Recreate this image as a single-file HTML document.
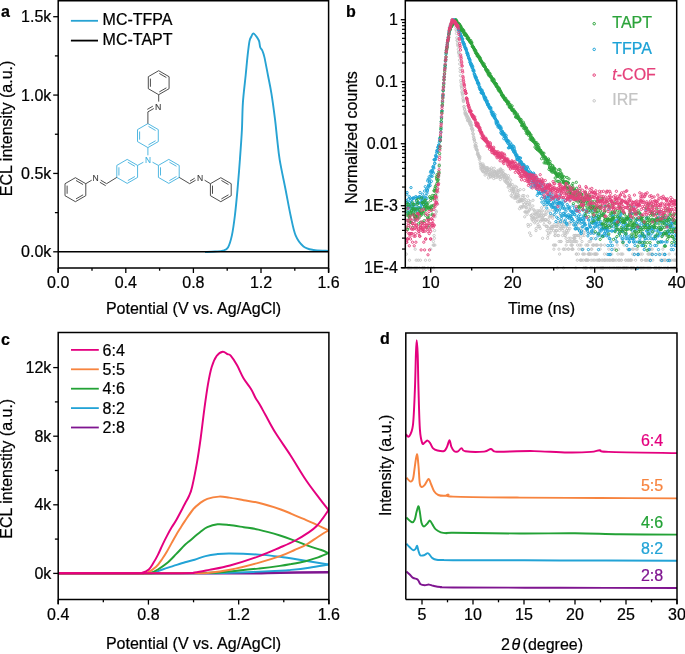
<!DOCTYPE html>
<html><head><meta charset="utf-8"><style>html,body{margin:0;padding:0;background:#fff;width:685px;height:654px;overflow:hidden}svg{display:block;will-change:transform}text{font-family:"Liberation Sans",sans-serif}</style></head>
<body><svg width="685" height="654" viewBox="0 0 685 654" font-family="Liberation Sans, sans-serif"><path d="M205 252.1C206.67 252 212 251.75 215 251.5C218 251.25 220.83 251.28 223 250.6C225.17 249.92 226.52 249.93 228 247.4C229.48 244.87 230.75 240.72 231.9 235.4C233.05 230.08 233.97 223.12 234.9 215.5C235.83 207.88 236.67 198.98 237.5 189.7C238.33 180.42 239.17 169.75 239.9 159.8C240.63 149.85 241.4 139.53 241.9 130C242.4 120.47 242.27 111.77 242.9 102.6C243.53 93.43 244.92 82.83 245.7 75C246.48 67.17 246.97 61.25 247.6 55.6C248.23 49.95 248.87 44.28 249.5 41.1C250.13 37.92 250.77 37.78 251.4 36.5C252.03 35.22 252.33 33.22 253.3 33.4C254.27 33.58 256.23 36.32 257.2 37.6C258.17 38.88 258.6 39.5 259.1 41.1C259.6 42.7 259.63 45.55 260.2 47.2C260.77 48.85 261.8 49.35 262.5 51C263.2 52.65 263.5 53.1 264.4 57.1C265.3 61.1 266.73 68.95 267.9 75C269.07 81.05 270.22 86.05 271.4 93.4C272.58 100.75 274.03 111.45 275 119.1C275.97 126.75 276.42 132.52 277.2 139.3C277.98 146.08 278.3 151.4 279.7 159.8C281.1 168.2 283.78 180.42 285.6 189.7C287.42 198.98 288.93 207.88 290.6 215.5C292.27 223.12 293.45 230.25 295.6 235.4C297.75 240.55 300.52 243.97 303.5 246.4C306.48 248.83 309.85 249.27 313.5 250C317.15 250.73 322.88 250.63 325.4 250.8C327.92 250.97 328.07 250.97 328.6 251" fill="none" stroke="#27a3d3" stroke-width="1.9" stroke-linejoin="round"/>
<line x1="58.2" y1="251.8" x2="328.6" y2="251.8" stroke="#000" stroke-width="1.6"/>
<path d="M58.2 272.5V0.8H328.6V272.5M58.2 268.0H328.6" fill="none" stroke="#000" stroke-width="1.5"/>
<line x1="58.2" y1="268" x2="58.2" y2="273" stroke="#000" stroke-width="1.3"/>
<text x="58.2" y="287.6" font-size="16" text-anchor="middle" stroke="#000" stroke-width="0.22">0.0</text>
<line x1="92" y1="268" x2="92" y2="270.7" stroke="#000" stroke-width="1.3"/>
<line x1="125.8" y1="268" x2="125.8" y2="273" stroke="#000" stroke-width="1.3"/>
<text x="125.8" y="287.6" font-size="16" text-anchor="middle" stroke="#000" stroke-width="0.22">0.4</text>
<line x1="159.6" y1="268" x2="159.6" y2="270.7" stroke="#000" stroke-width="1.3"/>
<line x1="193.4" y1="268" x2="193.4" y2="273" stroke="#000" stroke-width="1.3"/>
<text x="193.4" y="287.6" font-size="16" text-anchor="middle" stroke="#000" stroke-width="0.22">0.8</text>
<line x1="227.2" y1="268" x2="227.2" y2="270.7" stroke="#000" stroke-width="1.3"/>
<line x1="261" y1="268" x2="261" y2="273" stroke="#000" stroke-width="1.3"/>
<text x="261" y="287.6" font-size="16" text-anchor="middle" stroke="#000" stroke-width="0.22">1.2</text>
<line x1="294.8" y1="268" x2="294.8" y2="270.7" stroke="#000" stroke-width="1.3"/>
<line x1="328.6" y1="268" x2="328.6" y2="273" stroke="#000" stroke-width="1.3"/>
<text x="328.6" y="287.6" font-size="16" text-anchor="middle" stroke="#000" stroke-width="0.22">1.6</text>
<line x1="53.2" y1="251.8" x2="58.2" y2="251.8" stroke="#000" stroke-width="1.3"/>
<text x="51.3" y="257.4" font-size="16" text-anchor="end" stroke="#000" stroke-width="0.22">0.0k</text>
<line x1="54.9" y1="212.62" x2="58.2" y2="212.62" stroke="#000" stroke-width="1.3"/>
<line x1="53.2" y1="173.44" x2="58.2" y2="173.44" stroke="#000" stroke-width="1.3"/>
<text x="51.3" y="179.03" font-size="16" text-anchor="end" stroke="#000" stroke-width="0.22">0.5k</text>
<line x1="54.9" y1="134.25" x2="58.2" y2="134.25" stroke="#000" stroke-width="1.3"/>
<line x1="53.2" y1="95.07" x2="58.2" y2="95.07" stroke="#000" stroke-width="1.3"/>
<text x="51.3" y="100.67" font-size="16" text-anchor="end" stroke="#000" stroke-width="0.22">1.0k</text>
<line x1="54.9" y1="55.89" x2="58.2" y2="55.89" stroke="#000" stroke-width="1.3"/>
<line x1="53.2" y1="16.71" x2="58.2" y2="16.71" stroke="#000" stroke-width="1.3"/>
<text x="51.3" y="22.31" font-size="16" text-anchor="end" stroke="#000" stroke-width="0.22">1.5k</text>
<text x="193.5" y="313.6" font-size="16" text-anchor="middle" stroke="#000" stroke-width="0.22">Potential (V vs. Ag/AgCl)</text>
<text x="11.7" y="128.4" font-size="16" text-anchor="middle" stroke="#000" stroke-width="0.22" transform="rotate(-90 11.7 128.4)">ECL intensity (a.u.)</text>
<text x="1" y="17.2" font-size="16" stroke="#000" stroke-width="0.22" font-weight="bold">a</text>
<line x1="70.9" y1="20.8" x2="98" y2="20.8" stroke="#27a3d3" stroke-width="1.8"/>
<line x1="70.9" y1="40.6" x2="98" y2="40.6" stroke="#000" stroke-width="1.8"/>
<text x="102.6" y="25" font-size="16" stroke="#000" stroke-width="0.22">MC-TFPA</text>
<text x="102.6" y="44.7" font-size="16" stroke="#000" stroke-width="0.22">MC-TAPT</text>
<path d="M147.9 123.6 L158.29 129.6 L158.29 141.6 L147.9 147.6 L137.51 141.6 L137.51 129.6ZM148.51 126.38L155.58 130.46M155.58 140.74L148.51 144.82M139.61 139.68L139.61 131.52" fill="none" stroke="#3fb0de" stroke-width="0.9" stroke-linejoin="round"/>
<path d="M127.2 159.4 L137.59 165.4 L137.59 177.4 L127.2 183.4 L116.81 177.4 L116.81 165.4ZM127.81 162.18L134.88 166.26M134.88 176.54L127.81 180.62M118.91 175.48L118.91 167.32" fill="none" stroke="#3fb0de" stroke-width="0.9" stroke-linejoin="round"/>
<path d="M168.8 159.4 L179.19 165.4 L179.19 177.4 L168.8 183.4 L158.41 177.4 L158.41 165.4ZM169.41 162.18L176.48 166.26M176.48 176.54L169.41 180.62M160.51 175.48L160.51 167.32" fill="none" stroke="#3fb0de" stroke-width="0.9" stroke-linejoin="round"/>
<path d="M158.7 70.7 L169.09 76.7 L169.09 88.7 L158.7 94.7 L148.31 88.7 L148.31 76.7ZM159.31 73.48L166.38 77.56M166.38 87.84L159.31 91.92M150.41 86.78L150.41 78.62" fill="none" stroke="#3a3a3a" stroke-width="0.9" stroke-linejoin="round"/>
<path d="M75.4 177.7 L85.79 183.7 L85.79 195.7 L75.4 201.7 L65.01 195.7 L65.01 183.7ZM76.01 180.48L83.08 184.56M83.08 194.84L76.01 198.92M67.11 193.78L67.11 185.62" fill="none" stroke="#3a3a3a" stroke-width="0.9" stroke-linejoin="round"/>
<path d="M220.8 177.7 L231.19 183.7 L231.19 195.7 L220.8 201.7 L210.41 195.7 L210.41 183.7ZM221.41 180.48L228.48 184.56M228.48 194.84L221.41 198.92M212.51 193.78L212.51 185.62" fill="none" stroke="#3a3a3a" stroke-width="0.9" stroke-linejoin="round"/>
<path d="M147.9 147.6L147.9 155.3M137.6 165.4L143.4 162.2M152.5 162.2L158.4 165.4" fill="none" stroke="#3fb0de" stroke-width="0.9"/>
<path d="M147.9 123.6L147.9 111.9M147.9 111.9L153.8 108.5M147.3 109.4L152.8 106.2M158.7 101.6L158.7 94.7M116.8 177.4L106.6 183.7M106.6 183.7L100.7 180.2M105.7 185.7L99.9 182.3M91.7 180.2L85.8 183.7M179.2 177.4L189.7 183.7M189.7 183.7L195.6 180.2M190 181.1L194.7 178.2M204.6 180.2L210.4 183.7" fill="none" stroke="#3a3a3a" stroke-width="0.9"/>
<text x="148" y="162.9" font-size="8.4" text-anchor="middle" fill="#3fb0de" stroke="#3fb0de" stroke-width="0.1">N</text>
<text x="158.1" y="109.8" font-size="8.8" text-anchor="middle" fill="#3a3a3a" stroke="#3a3a3a" stroke-width="0.1">N</text>
<text x="95.5" y="181.4" font-size="8.6" text-anchor="middle" fill="#3a3a3a" stroke="#3a3a3a" stroke-width="0.1">N</text>
<text x="200.1" y="181.4" font-size="8.6" text-anchor="middle" fill="#3a3a3a" stroke="#3a3a3a" stroke-width="0.1">N</text>
<svg x="405.3" y="0.8" width="271.40000000000003" height="268.9" viewBox="405.3 0.8 271.40000000000003 268.9" overflow="hidden"><g fill="none" stroke="#c4c4c4" stroke-width="0.9"><circle cx="406.3" cy="254.1" r="1.15"/><circle cx="407.8" cy="267.9" r="1.15"/><circle cx="408.6" cy="267.9" r="1.15"/><circle cx="409.1" cy="267.9" r="1.15"/><circle cx="409.5" cy="260.2" r="1.15"/><circle cx="410.3" cy="267.9" r="1.15"/><circle cx="411.8" cy="267.9" r="1.15"/><circle cx="414.2" cy="267.9" r="1.15"/><circle cx="415.2" cy="249.2" r="1.15"/><circle cx="415.9" cy="267.9" r="1.15"/><circle cx="416.2" cy="260.2" r="1.15"/><circle cx="417.2" cy="267.9" r="1.15"/><circle cx="418.2" cy="260.2" r="1.15"/><circle cx="419.4" cy="267.9" r="1.15"/><circle cx="420.4" cy="260.2" r="1.15"/><circle cx="422.3" cy="267.9" r="1.15"/><circle cx="422.8" cy="267.9" r="1.15"/><circle cx="424.1" cy="267.9" r="1.15"/><circle cx="424.6" cy="267.9" r="1.15"/><circle cx="425.5" cy="260.2" r="1.15"/><circle cx="428.0" cy="267.9" r="1.15"/><circle cx="429.5" cy="260.2" r="1.15"/><circle cx="430.7" cy="249.2" r="1.15"/><circle cx="431.2" cy="267.9" r="1.15"/><circle cx="433.2" cy="245.1" r="1.15"/><circle cx="433.4" cy="241.5" r="1.15"/><circle cx="433.7" cy="267.9" r="1.15"/><circle cx="433.9" cy="245.1" r="1.15"/><circle cx="434.1" cy="235.5" r="1.15"/><circle cx="434.4" cy="238.3" r="1.15"/><circle cx="434.6" cy="230.6" r="1.15"/><circle cx="434.9" cy="245.1" r="1.15"/><circle cx="435.1" cy="216.8" r="1.15"/><circle cx="435.4" cy="204.2" r="1.15"/><circle cx="435.6" cy="214.3" r="1.15"/><circle cx="435.9" cy="210.8" r="1.15"/><circle cx="436.1" cy="192.1" r="1.15"/><circle cx="436.4" cy="211.9" r="1.15"/><circle cx="436.6" cy="198.8" r="1.15"/><circle cx="436.9" cy="196.2" r="1.15"/><circle cx="437.1" cy="200.3" r="1.15"/><circle cx="437.3" cy="189.1" r="1.15"/><circle cx="437.6" cy="204.2" r="1.15"/><circle cx="437.8" cy="188.6" r="1.15"/><circle cx="438.1" cy="192.1" r="1.15"/><circle cx="438.3" cy="176.9" r="1.15"/><circle cx="438.6" cy="179.2" r="1.15"/><circle cx="438.8" cy="176.3" r="1.15"/><circle cx="439.1" cy="166.6" r="1.15"/><circle cx="439.3" cy="164.4" r="1.15"/><circle cx="439.6" cy="155.2" r="1.15"/><circle cx="439.8" cy="148.4" r="1.15"/><circle cx="440.0" cy="146.7" r="1.15"/><circle cx="440.3" cy="141.1" r="1.15"/><circle cx="440.5" cy="133.4" r="1.15"/><circle cx="440.8" cy="131.4" r="1.15"/><circle cx="441.0" cy="123.8" r="1.15"/><circle cx="441.3" cy="122.0" r="1.15"/><circle cx="441.5" cy="116.4" r="1.15"/><circle cx="441.8" cy="113.6" r="1.15"/><circle cx="442.0" cy="106.7" r="1.15"/><circle cx="442.3" cy="105.3" r="1.15"/><circle cx="442.5" cy="100.1" r="1.15"/><circle cx="442.8" cy="97.6" r="1.15"/><circle cx="443.0" cy="93.9" r="1.15"/><circle cx="443.2" cy="90.3" r="1.15"/><circle cx="443.5" cy="86.6" r="1.15"/><circle cx="443.7" cy="82.9" r="1.15"/><circle cx="444.0" cy="79.8" r="1.15"/><circle cx="444.2" cy="76.4" r="1.15"/><circle cx="444.5" cy="74.2" r="1.15"/><circle cx="444.7" cy="70.2" r="1.15"/><circle cx="445.0" cy="65.8" r="1.15"/><circle cx="445.2" cy="64.4" r="1.15"/><circle cx="445.5" cy="61.3" r="1.15"/><circle cx="445.7" cy="57.8" r="1.15"/><circle cx="446.0" cy="53.5" r="1.15"/><circle cx="446.2" cy="52.9" r="1.15"/><circle cx="446.4" cy="49.6" r="1.15"/><circle cx="446.7" cy="48.4" r="1.15"/><circle cx="446.9" cy="47.5" r="1.15"/><circle cx="447.2" cy="43.9" r="1.15"/><circle cx="447.4" cy="42.5" r="1.15"/><circle cx="447.7" cy="41.1" r="1.15"/><circle cx="447.9" cy="39.8" r="1.15"/><circle cx="448.2" cy="36.9" r="1.15"/><circle cx="448.4" cy="36.1" r="1.15"/><circle cx="448.7" cy="33.7" r="1.15"/><circle cx="448.9" cy="33.2" r="1.15"/><circle cx="449.2" cy="31.3" r="1.15"/><circle cx="449.4" cy="27.3" r="1.15"/><circle cx="449.6" cy="27.4" r="1.15"/><circle cx="449.9" cy="26.4" r="1.15"/><circle cx="450.1" cy="25.6" r="1.15"/><circle cx="450.4" cy="25.6" r="1.15"/><circle cx="450.6" cy="24.8" r="1.15"/><circle cx="450.9" cy="23.6" r="1.15"/><circle cx="451.1" cy="23.3" r="1.15"/><circle cx="451.4" cy="22.5" r="1.15"/><circle cx="451.6" cy="21.7" r="1.15"/><circle cx="451.9" cy="20.2" r="1.15"/><circle cx="452.1" cy="19.7" r="1.15"/><circle cx="452.3" cy="19.7" r="1.15"/><circle cx="452.6" cy="20.5" r="1.15"/><circle cx="452.8" cy="21.4" r="1.15"/><circle cx="453.1" cy="19.9" r="1.15"/><circle cx="453.3" cy="20.2" r="1.15"/><circle cx="453.6" cy="21.5" r="1.15"/><circle cx="453.8" cy="21.1" r="1.15"/><circle cx="454.1" cy="21.1" r="1.15"/><circle cx="454.3" cy="21.2" r="1.15"/><circle cx="454.6" cy="21.5" r="1.15"/><circle cx="454.8" cy="23.3" r="1.15"/><circle cx="455.1" cy="21.7" r="1.15"/><circle cx="455.3" cy="24.1" r="1.15"/><circle cx="455.5" cy="24.8" r="1.15"/><circle cx="455.8" cy="27.3" r="1.15"/><circle cx="456.0" cy="29.5" r="1.15"/><circle cx="456.3" cy="30.8" r="1.15"/><circle cx="456.5" cy="33.5" r="1.15"/><circle cx="456.8" cy="37.8" r="1.15"/><circle cx="457.0" cy="40.4" r="1.15"/><circle cx="457.3" cy="40.6" r="1.15"/><circle cx="457.5" cy="43.4" r="1.15"/><circle cx="457.8" cy="45.0" r="1.15"/><circle cx="458.0" cy="46.0" r="1.15"/><circle cx="458.3" cy="49.3" r="1.15"/><circle cx="458.5" cy="52.1" r="1.15"/><circle cx="458.7" cy="52.5" r="1.15"/><circle cx="459.0" cy="53.9" r="1.15"/><circle cx="459.2" cy="56.1" r="1.15"/><circle cx="459.5" cy="60.1" r="1.15"/><circle cx="459.7" cy="64.0" r="1.15"/><circle cx="460.0" cy="68.5" r="1.15"/><circle cx="460.2" cy="71.6" r="1.15"/><circle cx="460.5" cy="75.7" r="1.15"/><circle cx="460.7" cy="80.4" r="1.15"/><circle cx="461.0" cy="82.4" r="1.15"/><circle cx="461.2" cy="85.4" r="1.15"/><circle cx="461.5" cy="86.8" r="1.15"/><circle cx="461.7" cy="88.6" r="1.15"/><circle cx="461.9" cy="91.7" r="1.15"/><circle cx="462.2" cy="92.9" r="1.15"/><circle cx="462.4" cy="94.1" r="1.15"/><circle cx="462.7" cy="95.6" r="1.15"/><circle cx="462.9" cy="98.3" r="1.15"/><circle cx="463.2" cy="100.0" r="1.15"/><circle cx="463.4" cy="101.5" r="1.15"/><circle cx="463.7" cy="101.0" r="1.15"/><circle cx="463.9" cy="106.7" r="1.15"/><circle cx="464.2" cy="106.5" r="1.15"/><circle cx="464.4" cy="109.0" r="1.15"/><circle cx="464.6" cy="109.5" r="1.15"/><circle cx="464.9" cy="112.6" r="1.15"/><circle cx="465.1" cy="114.0" r="1.15"/><circle cx="465.4" cy="111.6" r="1.15"/><circle cx="465.6" cy="113.7" r="1.15"/><circle cx="465.9" cy="113.8" r="1.15"/><circle cx="466.1" cy="115.9" r="1.15"/><circle cx="466.4" cy="115.3" r="1.15"/><circle cx="466.6" cy="114.0" r="1.15"/><circle cx="466.9" cy="118.3" r="1.15"/><circle cx="467.1" cy="117.1" r="1.15"/><circle cx="467.4" cy="116.0" r="1.15"/><circle cx="467.6" cy="120.5" r="1.15"/><circle cx="467.8" cy="120.3" r="1.15"/><circle cx="468.1" cy="117.2" r="1.15"/><circle cx="468.3" cy="118.1" r="1.15"/><circle cx="468.6" cy="121.2" r="1.15"/><circle cx="468.8" cy="119.2" r="1.15"/><circle cx="469.1" cy="120.5" r="1.15"/><circle cx="469.3" cy="119.3" r="1.15"/><circle cx="469.6" cy="123.8" r="1.15"/><circle cx="469.8" cy="122.1" r="1.15"/><circle cx="470.1" cy="122.9" r="1.15"/><circle cx="470.3" cy="121.4" r="1.15"/><circle cx="470.6" cy="124.9" r="1.15"/><circle cx="470.8" cy="125.6" r="1.15"/><circle cx="471.0" cy="122.7" r="1.15"/><circle cx="471.3" cy="126.2" r="1.15"/><circle cx="471.5" cy="128.8" r="1.15"/><circle cx="471.8" cy="125.0" r="1.15"/><circle cx="472.0" cy="128.2" r="1.15"/><circle cx="472.3" cy="128.5" r="1.15"/><circle cx="472.5" cy="130.9" r="1.15"/><circle cx="472.8" cy="133.6" r="1.15"/><circle cx="473.0" cy="130.1" r="1.15"/><circle cx="473.3" cy="134.1" r="1.15"/><circle cx="473.5" cy="136.6" r="1.15"/><circle cx="473.8" cy="137.6" r="1.15"/><circle cx="474.0" cy="139.4" r="1.15"/><circle cx="474.2" cy="139.4" r="1.15"/><circle cx="474.5" cy="140.2" r="1.15"/><circle cx="474.7" cy="142.2" r="1.15"/><circle cx="475.0" cy="145.2" r="1.15"/><circle cx="475.2" cy="147.3" r="1.15"/><circle cx="475.5" cy="146.3" r="1.15"/><circle cx="475.7" cy="145.5" r="1.15"/><circle cx="476.0" cy="143.5" r="1.15"/><circle cx="476.2" cy="149.2" r="1.15"/><circle cx="476.5" cy="146.8" r="1.15"/><circle cx="476.7" cy="149.9" r="1.15"/><circle cx="476.9" cy="149.5" r="1.15"/><circle cx="477.2" cy="150.5" r="1.15"/><circle cx="477.4" cy="154.3" r="1.15"/><circle cx="477.7" cy="153.0" r="1.15"/><circle cx="477.9" cy="153.0" r="1.15"/><circle cx="478.2" cy="154.4" r="1.15"/><circle cx="478.4" cy="155.5" r="1.15"/><circle cx="478.7" cy="156.8" r="1.15"/><circle cx="478.9" cy="155.6" r="1.15"/><circle cx="479.2" cy="157.7" r="1.15"/><circle cx="479.4" cy="159.5" r="1.15"/><circle cx="479.7" cy="158.3" r="1.15"/><circle cx="479.9" cy="156.9" r="1.15"/><circle cx="480.1" cy="162.7" r="1.15"/><circle cx="480.4" cy="164.2" r="1.15"/><circle cx="480.6" cy="166.4" r="1.15"/><circle cx="480.9" cy="168.8" r="1.15"/><circle cx="481.1" cy="164.4" r="1.15"/><circle cx="481.4" cy="167.5" r="1.15"/><circle cx="481.6" cy="165.4" r="1.15"/><circle cx="481.9" cy="167.9" r="1.15"/><circle cx="482.1" cy="169.7" r="1.15"/><circle cx="482.4" cy="170.9" r="1.15"/><circle cx="482.6" cy="166.6" r="1.15"/><circle cx="482.9" cy="163.9" r="1.15"/><circle cx="483.1" cy="171.7" r="1.15"/><circle cx="483.3" cy="167.3" r="1.15"/><circle cx="483.6" cy="165.6" r="1.15"/><circle cx="483.8" cy="171.9" r="1.15"/><circle cx="484.1" cy="166.4" r="1.15"/><circle cx="484.3" cy="170.7" r="1.15"/><circle cx="484.6" cy="168.6" r="1.15"/><circle cx="484.8" cy="167.7" r="1.15"/><circle cx="485.1" cy="175.1" r="1.15"/><circle cx="485.3" cy="168.8" r="1.15"/><circle cx="485.6" cy="172.9" r="1.15"/><circle cx="485.8" cy="169.3" r="1.15"/><circle cx="486.1" cy="172.4" r="1.15"/><circle cx="486.3" cy="168.3" r="1.15"/><circle cx="486.5" cy="170.2" r="1.15"/><circle cx="486.8" cy="172.4" r="1.15"/><circle cx="487.0" cy="167.5" r="1.15"/><circle cx="487.3" cy="169.0" r="1.15"/><circle cx="487.5" cy="170.4" r="1.15"/><circle cx="487.8" cy="174.9" r="1.15"/><circle cx="488.0" cy="168.1" r="1.15"/><circle cx="488.3" cy="170.2" r="1.15"/><circle cx="488.5" cy="177.9" r="1.15"/><circle cx="488.8" cy="172.2" r="1.15"/><circle cx="489.0" cy="174.6" r="1.15"/><circle cx="489.2" cy="169.3" r="1.15"/><circle cx="489.5" cy="174.0" r="1.15"/><circle cx="489.7" cy="169.7" r="1.15"/><circle cx="490.0" cy="173.8" r="1.15"/><circle cx="490.2" cy="173.2" r="1.15"/><circle cx="490.5" cy="176.6" r="1.15"/><circle cx="490.7" cy="176.0" r="1.15"/><circle cx="491.0" cy="176.9" r="1.15"/><circle cx="491.2" cy="170.7" r="1.15"/><circle cx="491.5" cy="167.9" r="1.15"/><circle cx="491.7" cy="170.0" r="1.15"/><circle cx="492.0" cy="175.1" r="1.15"/><circle cx="492.2" cy="173.2" r="1.15"/><circle cx="492.4" cy="172.2" r="1.15"/><circle cx="492.7" cy="175.7" r="1.15"/><circle cx="492.9" cy="173.8" r="1.15"/><circle cx="493.2" cy="171.4" r="1.15"/><circle cx="493.4" cy="176.0" r="1.15"/><circle cx="493.7" cy="178.5" r="1.15"/><circle cx="493.9" cy="176.3" r="1.15"/><circle cx="494.2" cy="168.3" r="1.15"/><circle cx="494.4" cy="173.5" r="1.15"/><circle cx="494.7" cy="171.4" r="1.15"/><circle cx="494.9" cy="171.7" r="1.15"/><circle cx="495.2" cy="175.1" r="1.15"/><circle cx="495.4" cy="172.4" r="1.15"/><circle cx="495.6" cy="177.5" r="1.15"/><circle cx="495.9" cy="172.2" r="1.15"/><circle cx="496.1" cy="174.0" r="1.15"/><circle cx="496.4" cy="174.3" r="1.15"/><circle cx="496.6" cy="171.2" r="1.15"/><circle cx="496.9" cy="177.2" r="1.15"/><circle cx="497.1" cy="173.8" r="1.15"/><circle cx="497.4" cy="174.0" r="1.15"/><circle cx="497.6" cy="175.4" r="1.15"/><circle cx="497.9" cy="176.9" r="1.15"/><circle cx="498.1" cy="172.7" r="1.15"/><circle cx="498.4" cy="170.2" r="1.15"/><circle cx="498.6" cy="175.7" r="1.15"/><circle cx="498.8" cy="171.2" r="1.15"/><circle cx="499.1" cy="172.4" r="1.15"/><circle cx="499.3" cy="171.2" r="1.15"/><circle cx="499.6" cy="174.9" r="1.15"/><circle cx="499.8" cy="177.5" r="1.15"/><circle cx="500.1" cy="176.6" r="1.15"/><circle cx="500.3" cy="179.5" r="1.15"/><circle cx="500.6" cy="168.8" r="1.15"/><circle cx="500.8" cy="169.7" r="1.15"/><circle cx="501.1" cy="170.0" r="1.15"/><circle cx="501.3" cy="171.9" r="1.15"/><circle cx="501.5" cy="173.5" r="1.15"/><circle cx="501.8" cy="176.6" r="1.15"/><circle cx="502.0" cy="171.9" r="1.15"/><circle cx="502.3" cy="174.3" r="1.15"/><circle cx="502.5" cy="177.9" r="1.15"/><circle cx="502.8" cy="175.1" r="1.15"/><circle cx="503.0" cy="170.7" r="1.15"/><circle cx="503.3" cy="173.5" r="1.15"/><circle cx="503.5" cy="173.5" r="1.15"/><circle cx="503.8" cy="177.5" r="1.15"/><circle cx="504.0" cy="176.3" r="1.15"/><circle cx="504.3" cy="175.4" r="1.15"/><circle cx="504.5" cy="180.2" r="1.15"/><circle cx="504.7" cy="174.6" r="1.15"/><circle cx="505.0" cy="176.9" r="1.15"/><circle cx="505.2" cy="181.6" r="1.15"/><circle cx="505.5" cy="174.6" r="1.15"/><circle cx="505.7" cy="177.9" r="1.15"/><circle cx="506.0" cy="180.5" r="1.15"/><circle cx="506.2" cy="175.7" r="1.15"/><circle cx="506.5" cy="178.8" r="1.15"/><circle cx="506.7" cy="183.1" r="1.15"/><circle cx="507.0" cy="180.9" r="1.15"/><circle cx="507.2" cy="177.9" r="1.15"/><circle cx="507.5" cy="178.8" r="1.15"/><circle cx="507.7" cy="183.5" r="1.15"/><circle cx="507.9" cy="183.1" r="1.15"/><circle cx="508.2" cy="187.2" r="1.15"/><circle cx="508.4" cy="175.7" r="1.15"/><circle cx="508.7" cy="185.9" r="1.15"/><circle cx="508.9" cy="178.2" r="1.15"/><circle cx="509.2" cy="185.5" r="1.15"/><circle cx="509.4" cy="182.0" r="1.15"/><circle cx="509.7" cy="190.6" r="1.15"/><circle cx="509.9" cy="184.7" r="1.15"/><circle cx="510.2" cy="185.1" r="1.15"/><circle cx="510.4" cy="185.1" r="1.15"/><circle cx="510.7" cy="180.2" r="1.15"/><circle cx="510.9" cy="183.9" r="1.15"/><circle cx="511.1" cy="195.6" r="1.15"/><circle cx="511.4" cy="188.6" r="1.15"/><circle cx="511.6" cy="186.8" r="1.15"/><circle cx="511.9" cy="190.1" r="1.15"/><circle cx="512.1" cy="196.8" r="1.15"/><circle cx="512.4" cy="193.2" r="1.15"/><circle cx="512.6" cy="184.7" r="1.15"/><circle cx="512.9" cy="188.1" r="1.15"/><circle cx="513.1" cy="191.6" r="1.15"/><circle cx="513.4" cy="190.1" r="1.15"/><circle cx="513.6" cy="189.1" r="1.15"/><circle cx="513.8" cy="190.1" r="1.15"/><circle cx="514.1" cy="188.1" r="1.15"/><circle cx="514.3" cy="198.2" r="1.15"/><circle cx="514.6" cy="193.8" r="1.15"/><circle cx="514.8" cy="192.1" r="1.15"/><circle cx="515.1" cy="196.2" r="1.15"/><circle cx="515.3" cy="186.4" r="1.15"/><circle cx="515.6" cy="198.2" r="1.15"/><circle cx="515.8" cy="196.2" r="1.15"/><circle cx="516.1" cy="194.4" r="1.15"/><circle cx="516.3" cy="196.2" r="1.15"/><circle cx="516.6" cy="187.2" r="1.15"/><circle cx="516.8" cy="198.2" r="1.15"/><circle cx="517.0" cy="190.1" r="1.15"/><circle cx="517.3" cy="196.8" r="1.15"/><circle cx="517.5" cy="201.7" r="1.15"/><circle cx="517.8" cy="192.1" r="1.15"/><circle cx="518.0" cy="194.4" r="1.15"/><circle cx="518.3" cy="190.6" r="1.15"/><circle cx="518.5" cy="196.8" r="1.15"/><circle cx="518.8" cy="195.6" r="1.15"/><circle cx="519.0" cy="201.7" r="1.15"/><circle cx="519.3" cy="201.0" r="1.15"/><circle cx="519.5" cy="208.7" r="1.15"/><circle cx="519.8" cy="201.0" r="1.15"/><circle cx="520.0" cy="199.5" r="1.15"/><circle cx="520.2" cy="189.6" r="1.15"/><circle cx="520.5" cy="206.8" r="1.15"/><circle cx="520.7" cy="201.0" r="1.15"/><circle cx="521.0" cy="200.3" r="1.15"/><circle cx="521.2" cy="200.3" r="1.15"/><circle cx="521.5" cy="207.8" r="1.15"/><circle cx="521.7" cy="199.5" r="1.15"/><circle cx="522.0" cy="206.8" r="1.15"/><circle cx="522.2" cy="197.5" r="1.15"/><circle cx="522.5" cy="200.3" r="1.15"/><circle cx="522.7" cy="195.6" r="1.15"/><circle cx="523.0" cy="205.9" r="1.15"/><circle cx="523.2" cy="202.5" r="1.15"/><circle cx="523.4" cy="206.8" r="1.15"/><circle cx="523.7" cy="189.6" r="1.15"/><circle cx="523.9" cy="195.6" r="1.15"/><circle cx="524.2" cy="198.8" r="1.15"/><circle cx="524.4" cy="204.2" r="1.15"/><circle cx="524.7" cy="216.8" r="1.15"/><circle cx="524.9" cy="211.9" r="1.15"/><circle cx="525.2" cy="199.5" r="1.15"/><circle cx="525.4" cy="211.9" r="1.15"/><circle cx="525.7" cy="202.5" r="1.15"/><circle cx="525.9" cy="207.8" r="1.15"/><circle cx="526.1" cy="205.9" r="1.15"/><circle cx="526.4" cy="211.9" r="1.15"/><circle cx="526.6" cy="207.8" r="1.15"/><circle cx="526.9" cy="202.5" r="1.15"/><circle cx="527.1" cy="214.3" r="1.15"/><circle cx="527.4" cy="204.2" r="1.15"/><circle cx="527.6" cy="196.2" r="1.15"/><circle cx="527.9" cy="224.6" r="1.15"/><circle cx="528.1" cy="211.9" r="1.15"/><circle cx="528.4" cy="226.4" r="1.15"/><circle cx="528.6" cy="200.3" r="1.15"/><circle cx="528.9" cy="210.8" r="1.15"/><circle cx="529.1" cy="205.0" r="1.15"/><circle cx="529.3" cy="209.8" r="1.15"/><circle cx="529.6" cy="232.9" r="1.15"/><circle cx="529.8" cy="204.2" r="1.15"/><circle cx="530.1" cy="201.7" r="1.15"/><circle cx="530.3" cy="207.8" r="1.15"/><circle cx="530.6" cy="224.6" r="1.15"/><circle cx="530.8" cy="235.5" r="1.15"/><circle cx="531.1" cy="215.5" r="1.15"/><circle cx="531.3" cy="215.5" r="1.15"/><circle cx="531.6" cy="208.7" r="1.15"/><circle cx="531.8" cy="218.2" r="1.15"/><circle cx="532.1" cy="219.7" r="1.15"/><circle cx="532.3" cy="216.8" r="1.15"/><circle cx="532.5" cy="214.3" r="1.15"/><circle cx="532.8" cy="205.9" r="1.15"/><circle cx="533.0" cy="200.3" r="1.15"/><circle cx="533.3" cy="221.2" r="1.15"/><circle cx="533.5" cy="218.2" r="1.15"/><circle cx="533.8" cy="215.5" r="1.15"/><circle cx="534.0" cy="209.8" r="1.15"/><circle cx="534.3" cy="210.8" r="1.15"/><circle cx="534.5" cy="218.2" r="1.15"/><circle cx="534.8" cy="222.8" r="1.15"/><circle cx="535.0" cy="213.1" r="1.15"/><circle cx="535.3" cy="214.3" r="1.15"/><circle cx="535.5" cy="218.2" r="1.15"/><circle cx="535.7" cy="221.2" r="1.15"/><circle cx="536.0" cy="230.6" r="1.15"/><circle cx="536.2" cy="228.4" r="1.15"/><circle cx="536.5" cy="214.3" r="1.15"/><circle cx="536.7" cy="219.7" r="1.15"/><circle cx="537.0" cy="213.1" r="1.15"/><circle cx="537.2" cy="210.8" r="1.15"/><circle cx="537.5" cy="216.8" r="1.15"/><circle cx="537.7" cy="213.1" r="1.15"/><circle cx="538.0" cy="224.6" r="1.15"/><circle cx="538.2" cy="226.4" r="1.15"/><circle cx="538.4" cy="216.8" r="1.15"/><circle cx="538.7" cy="221.2" r="1.15"/><circle cx="538.9" cy="210.8" r="1.15"/><circle cx="539.2" cy="215.5" r="1.15"/><circle cx="539.4" cy="226.4" r="1.15"/><circle cx="539.7" cy="216.8" r="1.15"/><circle cx="539.9" cy="210.8" r="1.15"/><circle cx="540.2" cy="228.4" r="1.15"/><circle cx="540.4" cy="214.3" r="1.15"/><circle cx="540.7" cy="221.2" r="1.15"/><circle cx="540.9" cy="215.5" r="1.15"/><circle cx="541.2" cy="219.7" r="1.15"/><circle cx="541.4" cy="213.1" r="1.15"/><circle cx="541.6" cy="207.8" r="1.15"/><circle cx="541.9" cy="210.8" r="1.15"/><circle cx="542.1" cy="219.7" r="1.15"/><circle cx="542.4" cy="218.2" r="1.15"/><circle cx="542.6" cy="238.3" r="1.15"/><circle cx="542.9" cy="216.8" r="1.15"/><circle cx="543.1" cy="219.7" r="1.15"/><circle cx="543.4" cy="215.5" r="1.15"/><circle cx="543.6" cy="215.5" r="1.15"/><circle cx="543.9" cy="221.2" r="1.15"/><circle cx="544.1" cy="224.6" r="1.15"/><circle cx="544.4" cy="205.9" r="1.15"/><circle cx="544.6" cy="210.8" r="1.15"/><circle cx="544.8" cy="214.3" r="1.15"/><circle cx="545.1" cy="219.7" r="1.15"/><circle cx="545.3" cy="219.7" r="1.15"/><circle cx="545.6" cy="219.7" r="1.15"/><circle cx="545.8" cy="219.7" r="1.15"/><circle cx="546.1" cy="214.3" r="1.15"/><circle cx="546.3" cy="226.4" r="1.15"/><circle cx="546.6" cy="226.4" r="1.15"/><circle cx="546.8" cy="211.9" r="1.15"/><circle cx="547.1" cy="230.6" r="1.15"/><circle cx="547.3" cy="226.4" r="1.15"/><circle cx="547.6" cy="238.3" r="1.15"/><circle cx="547.8" cy="221.2" r="1.15"/><circle cx="548.0" cy="235.5" r="1.15"/><circle cx="548.3" cy="219.7" r="1.15"/><circle cx="548.5" cy="232.9" r="1.15"/><circle cx="548.8" cy="228.4" r="1.15"/><circle cx="549.0" cy="210.8" r="1.15"/><circle cx="549.3" cy="216.8" r="1.15"/><circle cx="549.5" cy="222.8" r="1.15"/><circle cx="549.8" cy="222.8" r="1.15"/><circle cx="550.0" cy="232.9" r="1.15"/><circle cx="550.3" cy="228.4" r="1.15"/><circle cx="550.5" cy="215.5" r="1.15"/><circle cx="550.7" cy="216.8" r="1.15"/><circle cx="551.0" cy="215.5" r="1.15"/><circle cx="551.2" cy="230.6" r="1.15"/><circle cx="551.5" cy="226.4" r="1.15"/><circle cx="551.7" cy="228.4" r="1.15"/><circle cx="552.0" cy="228.4" r="1.15"/><circle cx="552.2" cy="226.4" r="1.15"/><circle cx="552.5" cy="209.8" r="1.15"/><circle cx="552.7" cy="218.2" r="1.15"/><circle cx="553.0" cy="215.5" r="1.15"/><circle cx="553.2" cy="226.4" r="1.15"/><circle cx="553.5" cy="245.1" r="1.15"/><circle cx="553.7" cy="230.6" r="1.15"/><circle cx="553.9" cy="249.2" r="1.15"/><circle cx="554.2" cy="224.6" r="1.15"/><circle cx="554.4" cy="226.4" r="1.15"/><circle cx="554.7" cy="245.1" r="1.15"/><circle cx="554.9" cy="235.5" r="1.15"/><circle cx="555.2" cy="232.9" r="1.15"/><circle cx="555.4" cy="235.5" r="1.15"/><circle cx="555.7" cy="245.1" r="1.15"/><circle cx="555.9" cy="230.6" r="1.15"/><circle cx="556.2" cy="226.4" r="1.15"/><circle cx="556.4" cy="230.6" r="1.15"/><circle cx="556.7" cy="230.6" r="1.15"/><circle cx="556.9" cy="226.4" r="1.15"/><circle cx="557.1" cy="226.4" r="1.15"/><circle cx="557.4" cy="267.9" r="1.15"/><circle cx="557.6" cy="222.8" r="1.15"/><circle cx="557.9" cy="235.5" r="1.15"/><circle cx="558.1" cy="224.6" r="1.15"/><circle cx="558.4" cy="222.8" r="1.15"/><circle cx="558.6" cy="235.5" r="1.15"/><circle cx="558.9" cy="249.2" r="1.15"/><circle cx="559.1" cy="241.5" r="1.15"/><circle cx="559.4" cy="230.6" r="1.15"/><circle cx="559.6" cy="254.1" r="1.15"/><circle cx="559.9" cy="228.4" r="1.15"/><circle cx="560.1" cy="221.2" r="1.15"/><circle cx="560.3" cy="215.5" r="1.15"/><circle cx="560.6" cy="226.4" r="1.15"/><circle cx="560.8" cy="241.5" r="1.15"/><circle cx="561.1" cy="241.5" r="1.15"/><circle cx="561.3" cy="228.4" r="1.15"/><circle cx="561.6" cy="224.6" r="1.15"/><circle cx="561.8" cy="224.6" r="1.15"/><circle cx="562.1" cy="226.4" r="1.15"/><circle cx="562.3" cy="221.2" r="1.15"/><circle cx="562.6" cy="235.5" r="1.15"/><circle cx="562.8" cy="230.6" r="1.15"/><circle cx="563.0" cy="228.4" r="1.15"/><circle cx="563.3" cy="249.2" r="1.15"/><circle cx="563.5" cy="267.9" r="1.15"/><circle cx="563.8" cy="226.4" r="1.15"/><circle cx="564.0" cy="249.2" r="1.15"/><circle cx="564.3" cy="232.9" r="1.15"/><circle cx="564.5" cy="222.8" r="1.15"/><circle cx="564.8" cy="226.4" r="1.15"/><circle cx="565.0" cy="235.5" r="1.15"/><circle cx="565.3" cy="235.5" r="1.15"/><circle cx="565.5" cy="249.2" r="1.15"/><circle cx="565.8" cy="232.9" r="1.15"/><circle cx="566.0" cy="238.3" r="1.15"/><circle cx="566.2" cy="245.1" r="1.15"/><circle cx="566.5" cy="230.6" r="1.15"/><circle cx="566.7" cy="230.6" r="1.15"/><circle cx="567.0" cy="241.5" r="1.15"/><circle cx="567.2" cy="232.9" r="1.15"/><circle cx="567.5" cy="228.4" r="1.15"/><circle cx="567.7" cy="228.4" r="1.15"/><circle cx="568.0" cy="241.5" r="1.15"/><circle cx="568.2" cy="249.2" r="1.15"/><circle cx="568.5" cy="230.6" r="1.15"/><circle cx="568.7" cy="249.2" r="1.15"/><circle cx="569.0" cy="238.3" r="1.15"/><circle cx="569.2" cy="222.8" r="1.15"/><circle cx="569.4" cy="224.6" r="1.15"/><circle cx="569.7" cy="222.8" r="1.15"/><circle cx="569.9" cy="228.4" r="1.15"/><circle cx="570.2" cy="241.5" r="1.15"/><circle cx="570.4" cy="218.2" r="1.15"/><circle cx="570.7" cy="238.3" r="1.15"/><circle cx="570.9" cy="245.1" r="1.15"/><circle cx="571.4" cy="241.5" r="1.15"/><circle cx="571.7" cy="249.2" r="1.15"/><circle cx="571.9" cy="245.1" r="1.15"/><circle cx="572.2" cy="245.1" r="1.15"/><circle cx="572.4" cy="249.2" r="1.15"/><circle cx="572.6" cy="249.2" r="1.15"/><circle cx="572.9" cy="249.2" r="1.15"/><circle cx="573.1" cy="241.5" r="1.15"/><circle cx="573.4" cy="224.6" r="1.15"/><circle cx="573.6" cy="238.3" r="1.15"/><circle cx="573.9" cy="235.5" r="1.15"/><circle cx="574.1" cy="238.3" r="1.15"/><circle cx="574.4" cy="238.3" r="1.15"/><circle cx="574.6" cy="241.5" r="1.15"/><circle cx="574.9" cy="238.3" r="1.15"/><circle cx="575.1" cy="235.5" r="1.15"/><circle cx="575.3" cy="235.5" r="1.15"/><circle cx="575.6" cy="241.5" r="1.15"/><circle cx="575.8" cy="267.9" r="1.15"/><circle cx="576.1" cy="235.5" r="1.15"/><circle cx="576.3" cy="254.1" r="1.15"/><circle cx="576.6" cy="254.1" r="1.15"/><circle cx="576.8" cy="241.5" r="1.15"/><circle cx="577.1" cy="224.6" r="1.15"/><circle cx="577.3" cy="260.2" r="1.15"/><circle cx="577.6" cy="245.1" r="1.15"/><circle cx="577.8" cy="235.5" r="1.15"/><circle cx="578.1" cy="219.7" r="1.15"/><circle cx="578.3" cy="235.5" r="1.15"/><circle cx="578.5" cy="254.1" r="1.15"/><circle cx="578.8" cy="249.2" r="1.15"/><circle cx="579.0" cy="235.5" r="1.15"/><circle cx="579.3" cy="222.8" r="1.15"/><circle cx="579.5" cy="245.1" r="1.15"/><circle cx="579.8" cy="230.6" r="1.15"/><circle cx="580.0" cy="228.4" r="1.15"/><circle cx="580.3" cy="260.2" r="1.15"/><circle cx="580.5" cy="238.3" r="1.15"/><circle cx="580.8" cy="260.2" r="1.15"/><circle cx="581.0" cy="245.1" r="1.15"/><circle cx="581.3" cy="249.2" r="1.15"/><circle cx="581.5" cy="230.6" r="1.15"/><circle cx="581.7" cy="260.2" r="1.15"/><circle cx="582.0" cy="241.5" r="1.15"/><circle cx="582.5" cy="235.5" r="1.15"/><circle cx="582.7" cy="254.1" r="1.15"/><circle cx="583.0" cy="249.2" r="1.15"/><circle cx="583.2" cy="260.2" r="1.15"/><circle cx="583.5" cy="254.1" r="1.15"/><circle cx="583.7" cy="267.9" r="1.15"/><circle cx="584.0" cy="232.9" r="1.15"/><circle cx="584.2" cy="235.5" r="1.15"/><circle cx="584.5" cy="230.6" r="1.15"/><circle cx="584.7" cy="254.1" r="1.15"/><circle cx="584.9" cy="222.8" r="1.15"/><circle cx="585.2" cy="267.9" r="1.15"/><circle cx="585.4" cy="260.2" r="1.15"/><circle cx="585.7" cy="267.9" r="1.15"/><circle cx="585.9" cy="245.1" r="1.15"/><circle cx="586.2" cy="260.2" r="1.15"/><circle cx="586.4" cy="260.2" r="1.15"/><circle cx="586.7" cy="267.9" r="1.15"/><circle cx="586.9" cy="260.2" r="1.15"/><circle cx="587.2" cy="228.4" r="1.15"/><circle cx="587.4" cy="245.1" r="1.15"/><circle cx="587.6" cy="260.2" r="1.15"/><circle cx="587.9" cy="245.1" r="1.15"/><circle cx="588.1" cy="254.1" r="1.15"/><circle cx="588.4" cy="260.2" r="1.15"/><circle cx="588.6" cy="254.1" r="1.15"/><circle cx="588.9" cy="254.1" r="1.15"/><circle cx="589.1" cy="241.5" r="1.15"/><circle cx="589.4" cy="254.1" r="1.15"/><circle cx="589.6" cy="232.9" r="1.15"/><circle cx="589.9" cy="254.1" r="1.15"/><circle cx="590.1" cy="254.1" r="1.15"/><circle cx="590.4" cy="241.5" r="1.15"/><circle cx="590.6" cy="267.9" r="1.15"/><circle cx="590.8" cy="267.9" r="1.15"/><circle cx="591.1" cy="260.2" r="1.15"/><circle cx="591.3" cy="249.2" r="1.15"/><circle cx="591.6" cy="254.1" r="1.15"/><circle cx="591.8" cy="249.2" r="1.15"/><circle cx="592.1" cy="267.9" r="1.15"/><circle cx="592.3" cy="232.9" r="1.15"/><circle cx="592.6" cy="245.1" r="1.15"/><circle cx="593.1" cy="260.2" r="1.15"/><circle cx="593.3" cy="238.3" r="1.15"/><circle cx="593.6" cy="245.1" r="1.15"/><circle cx="593.8" cy="245.1" r="1.15"/><circle cx="594.0" cy="254.1" r="1.15"/><circle cx="594.3" cy="232.9" r="1.15"/><circle cx="594.5" cy="267.9" r="1.15"/><circle cx="594.8" cy="260.2" r="1.15"/><circle cx="595.0" cy="254.1" r="1.15"/><circle cx="595.3" cy="254.1" r="1.15"/><circle cx="595.8" cy="254.1" r="1.15"/><circle cx="596.0" cy="245.1" r="1.15"/><circle cx="596.3" cy="254.1" r="1.15"/><circle cx="596.5" cy="245.1" r="1.15"/><circle cx="596.8" cy="267.9" r="1.15"/><circle cx="597.0" cy="260.2" r="1.15"/><circle cx="597.2" cy="254.1" r="1.15"/><circle cx="597.5" cy="245.1" r="1.15"/><circle cx="598.0" cy="267.9" r="1.15"/><circle cx="598.2" cy="260.2" r="1.15"/><circle cx="599.2" cy="260.2" r="1.15"/><circle cx="599.5" cy="260.2" r="1.15"/><circle cx="599.7" cy="260.2" r="1.15"/><circle cx="599.9" cy="267.9" r="1.15"/><circle cx="600.2" cy="249.2" r="1.15"/><circle cx="600.7" cy="245.1" r="1.15"/><circle cx="600.9" cy="267.9" r="1.15"/><circle cx="601.2" cy="245.1" r="1.15"/><circle cx="601.4" cy="267.9" r="1.15"/><circle cx="601.7" cy="260.2" r="1.15"/><circle cx="602.2" cy="267.9" r="1.15"/><circle cx="602.4" cy="267.9" r="1.15"/><circle cx="602.7" cy="260.2" r="1.15"/><circle cx="602.9" cy="267.9" r="1.15"/><circle cx="603.4" cy="267.9" r="1.15"/><circle cx="603.9" cy="267.9" r="1.15"/><circle cx="604.1" cy="260.2" r="1.15"/><circle cx="604.4" cy="254.1" r="1.15"/><circle cx="604.6" cy="245.1" r="1.15"/><circle cx="604.9" cy="260.2" r="1.15"/><circle cx="605.1" cy="260.2" r="1.15"/><circle cx="605.9" cy="267.9" r="1.15"/><circle cx="606.6" cy="254.1" r="1.15"/><circle cx="606.8" cy="260.2" r="1.15"/><circle cx="607.6" cy="267.9" r="1.15"/><circle cx="607.8" cy="260.2" r="1.15"/><circle cx="608.8" cy="249.2" r="1.15"/><circle cx="609.1" cy="260.2" r="1.15"/><circle cx="609.3" cy="267.9" r="1.15"/><circle cx="609.8" cy="260.2" r="1.15"/><circle cx="610.0" cy="267.9" r="1.15"/><circle cx="610.8" cy="260.2" r="1.15"/><circle cx="611.8" cy="254.1" r="1.15"/><circle cx="612.0" cy="267.9" r="1.15"/><circle cx="612.5" cy="260.2" r="1.15"/><circle cx="612.7" cy="260.2" r="1.15"/><circle cx="613.2" cy="260.2" r="1.15"/><circle cx="613.5" cy="260.2" r="1.15"/><circle cx="613.7" cy="267.9" r="1.15"/><circle cx="614.5" cy="249.2" r="1.15"/><circle cx="614.7" cy="267.9" r="1.15"/><circle cx="615.0" cy="260.2" r="1.15"/><circle cx="615.2" cy="249.2" r="1.15"/><circle cx="616.2" cy="241.5" r="1.15"/><circle cx="616.4" cy="267.9" r="1.15"/><circle cx="616.7" cy="260.2" r="1.15"/><circle cx="616.9" cy="267.9" r="1.15"/><circle cx="617.2" cy="245.1" r="1.15"/><circle cx="617.9" cy="254.1" r="1.15"/><circle cx="618.2" cy="267.9" r="1.15"/><circle cx="618.4" cy="267.9" r="1.15"/><circle cx="618.6" cy="249.2" r="1.15"/><circle cx="618.9" cy="260.2" r="1.15"/><circle cx="619.1" cy="260.2" r="1.15"/><circle cx="619.9" cy="267.9" r="1.15"/><circle cx="620.4" cy="267.9" r="1.15"/><circle cx="620.6" cy="254.1" r="1.15"/><circle cx="621.1" cy="260.2" r="1.15"/><circle cx="621.6" cy="260.2" r="1.15"/><circle cx="621.8" cy="254.1" r="1.15"/><circle cx="622.1" cy="267.9" r="1.15"/><circle cx="622.3" cy="241.5" r="1.15"/><circle cx="622.8" cy="254.1" r="1.15"/><circle cx="623.1" cy="267.9" r="1.15"/><circle cx="623.6" cy="267.9" r="1.15"/><circle cx="623.8" cy="267.9" r="1.15"/><circle cx="624.1" cy="245.1" r="1.15"/><circle cx="624.3" cy="267.9" r="1.15"/><circle cx="624.8" cy="267.9" r="1.15"/><circle cx="625.0" cy="267.9" r="1.15"/><circle cx="625.5" cy="260.2" r="1.15"/><circle cx="626.0" cy="260.2" r="1.15"/><circle cx="626.3" cy="267.9" r="1.15"/><circle cx="626.5" cy="267.9" r="1.15"/><circle cx="626.8" cy="267.9" r="1.15"/><circle cx="627.0" cy="267.9" r="1.15"/><circle cx="627.7" cy="249.2" r="1.15"/><circle cx="628.0" cy="260.2" r="1.15"/><circle cx="628.2" cy="260.2" r="1.15"/><circle cx="628.5" cy="267.9" r="1.15"/><circle cx="629.2" cy="249.2" r="1.15"/><circle cx="630.0" cy="260.2" r="1.15"/><circle cx="630.2" cy="260.2" r="1.15"/><circle cx="630.5" cy="267.9" r="1.15"/><circle cx="630.9" cy="260.2" r="1.15"/><circle cx="631.2" cy="267.9" r="1.15"/><circle cx="631.4" cy="267.9" r="1.15"/><circle cx="631.7" cy="260.2" r="1.15"/><circle cx="631.9" cy="267.9" r="1.15"/><circle cx="632.4" cy="249.2" r="1.15"/><circle cx="632.7" cy="254.1" r="1.15"/><circle cx="632.9" cy="267.9" r="1.15"/><circle cx="633.4" cy="249.2" r="1.15"/><circle cx="633.9" cy="267.9" r="1.15"/><circle cx="634.1" cy="267.9" r="1.15"/><circle cx="634.4" cy="254.1" r="1.15"/><circle cx="635.6" cy="260.2" r="1.15"/><circle cx="636.4" cy="249.2" r="1.15"/><circle cx="636.8" cy="267.9" r="1.15"/><circle cx="637.3" cy="249.2" r="1.15"/><circle cx="638.1" cy="254.1" r="1.15"/><circle cx="638.3" cy="267.9" r="1.15"/><circle cx="638.8" cy="254.1" r="1.15"/><circle cx="640.0" cy="267.9" r="1.15"/><circle cx="640.8" cy="254.1" r="1.15"/><circle cx="641.0" cy="267.9" r="1.15"/><circle cx="641.3" cy="267.9" r="1.15"/><circle cx="641.5" cy="260.2" r="1.15"/><circle cx="641.8" cy="260.2" r="1.15"/><circle cx="642.3" cy="254.1" r="1.15"/><circle cx="642.5" cy="267.9" r="1.15"/><circle cx="643.7" cy="267.9" r="1.15"/><circle cx="644.0" cy="267.9" r="1.15"/><circle cx="644.5" cy="249.2" r="1.15"/><circle cx="645.2" cy="260.2" r="1.15"/><circle cx="645.5" cy="260.2" r="1.15"/><circle cx="646.0" cy="267.9" r="1.15"/><circle cx="646.7" cy="260.2" r="1.15"/><circle cx="646.9" cy="260.2" r="1.15"/><circle cx="647.7" cy="267.9" r="1.15"/><circle cx="647.9" cy="254.1" r="1.15"/><circle cx="648.2" cy="267.9" r="1.15"/><circle cx="648.4" cy="260.2" r="1.15"/><circle cx="648.7" cy="254.1" r="1.15"/><circle cx="648.9" cy="249.2" r="1.15"/><circle cx="649.1" cy="254.1" r="1.15"/><circle cx="649.4" cy="249.2" r="1.15"/><circle cx="649.6" cy="267.9" r="1.15"/><circle cx="650.1" cy="260.2" r="1.15"/><circle cx="650.4" cy="260.2" r="1.15"/><circle cx="650.6" cy="267.9" r="1.15"/><circle cx="650.9" cy="254.1" r="1.15"/><circle cx="651.1" cy="249.2" r="1.15"/><circle cx="651.6" cy="254.1" r="1.15"/><circle cx="652.3" cy="249.2" r="1.15"/><circle cx="652.6" cy="254.1" r="1.15"/><circle cx="652.8" cy="260.2" r="1.15"/><circle cx="654.6" cy="267.9" r="1.15"/><circle cx="654.8" cy="267.9" r="1.15"/><circle cx="656.0" cy="267.9" r="1.15"/><circle cx="656.3" cy="267.9" r="1.15"/><circle cx="656.8" cy="267.9" r="1.15"/><circle cx="658.5" cy="254.1" r="1.15"/><circle cx="658.7" cy="267.9" r="1.15"/><circle cx="659.0" cy="267.9" r="1.15"/><circle cx="659.5" cy="267.9" r="1.15"/><circle cx="659.7" cy="267.9" r="1.15"/><circle cx="660.5" cy="260.2" r="1.15"/><circle cx="661.4" cy="267.9" r="1.15"/><circle cx="661.9" cy="260.2" r="1.15"/><circle cx="662.4" cy="254.1" r="1.15"/><circle cx="662.9" cy="249.2" r="1.15"/><circle cx="663.2" cy="260.2" r="1.15"/><circle cx="663.9" cy="267.9" r="1.15"/><circle cx="664.4" cy="260.2" r="1.15"/><circle cx="664.6" cy="254.1" r="1.15"/><circle cx="665.1" cy="260.2" r="1.15"/><circle cx="665.4" cy="267.9" r="1.15"/><circle cx="665.6" cy="260.2" r="1.15"/><circle cx="665.9" cy="235.5" r="1.15"/><circle cx="667.4" cy="267.9" r="1.15"/><circle cx="667.6" cy="267.9" r="1.15"/><circle cx="667.8" cy="267.9" r="1.15"/><circle cx="668.1" cy="267.9" r="1.15"/><circle cx="668.6" cy="260.2" r="1.15"/><circle cx="669.1" cy="254.1" r="1.15"/><circle cx="669.3" cy="260.2" r="1.15"/><circle cx="670.8" cy="267.9" r="1.15"/><circle cx="671.3" cy="260.2" r="1.15"/><circle cx="672.0" cy="267.9" r="1.15"/><circle cx="673.3" cy="260.2" r="1.15"/><circle cx="673.5" cy="267.9" r="1.15"/><circle cx="673.7" cy="245.1" r="1.15"/><circle cx="674.2" cy="267.9" r="1.15"/><circle cx="674.5" cy="267.9" r="1.15"/><circle cx="674.7" cy="260.2" r="1.15"/><circle cx="675.0" cy="260.2" r="1.15"/><circle cx="675.2" cy="267.9" r="1.15"/><circle cx="676.0" cy="254.1" r="1.15"/><circle cx="676.2" cy="260.2" r="1.15"/></g><g fill="none" stroke="#1ba1d6" stroke-width="0.9"><circle cx="406.1" cy="200.6" r="1.15"/><circle cx="406.3" cy="202.1" r="1.15"/><circle cx="406.6" cy="206.3" r="1.15"/><circle cx="406.8" cy="194.2" r="1.15"/><circle cx="407.1" cy="192.5" r="1.15"/><circle cx="407.3" cy="202.1" r="1.15"/><circle cx="407.6" cy="212.3" r="1.15"/><circle cx="407.8" cy="207.2" r="1.15"/><circle cx="408.1" cy="209.1" r="1.15"/><circle cx="408.3" cy="199.2" r="1.15"/><circle cx="408.6" cy="212.3" r="1.15"/><circle cx="408.8" cy="207.2" r="1.15"/><circle cx="409.1" cy="204.5" r="1.15"/><circle cx="409.3" cy="196.6" r="1.15"/><circle cx="409.5" cy="202.9" r="1.15"/><circle cx="409.8" cy="206.3" r="1.15"/><circle cx="410.0" cy="204.5" r="1.15"/><circle cx="410.3" cy="197.9" r="1.15"/><circle cx="410.5" cy="200.6" r="1.15"/><circle cx="410.8" cy="208.1" r="1.15"/><circle cx="411.0" cy="187.6" r="1.15"/><circle cx="411.3" cy="210.1" r="1.15"/><circle cx="411.5" cy="199.2" r="1.15"/><circle cx="411.8" cy="206.3" r="1.15"/><circle cx="412.0" cy="201.4" r="1.15"/><circle cx="412.3" cy="213.4" r="1.15"/><circle cx="412.5" cy="208.1" r="1.15"/><circle cx="412.7" cy="205.4" r="1.15"/><circle cx="413.0" cy="197.9" r="1.15"/><circle cx="413.2" cy="198.5" r="1.15"/><circle cx="413.5" cy="204.5" r="1.15"/><circle cx="413.7" cy="209.1" r="1.15"/><circle cx="414.0" cy="197.9" r="1.15"/><circle cx="414.2" cy="207.2" r="1.15"/><circle cx="414.5" cy="210.1" r="1.15"/><circle cx="414.7" cy="217.2" r="1.15"/><circle cx="415.0" cy="220.0" r="1.15"/><circle cx="415.2" cy="204.5" r="1.15"/><circle cx="415.4" cy="211.2" r="1.15"/><circle cx="415.7" cy="196.6" r="1.15"/><circle cx="415.9" cy="198.5" r="1.15"/><circle cx="416.2" cy="209.1" r="1.15"/><circle cx="416.4" cy="201.4" r="1.15"/><circle cx="416.7" cy="197.2" r="1.15"/><circle cx="416.9" cy="208.1" r="1.15"/><circle cx="417.2" cy="197.9" r="1.15"/><circle cx="417.4" cy="202.9" r="1.15"/><circle cx="417.7" cy="209.1" r="1.15"/><circle cx="417.9" cy="207.2" r="1.15"/><circle cx="418.2" cy="211.2" r="1.15"/><circle cx="418.4" cy="202.9" r="1.15"/><circle cx="418.6" cy="202.9" r="1.15"/><circle cx="418.9" cy="197.2" r="1.15"/><circle cx="419.1" cy="202.9" r="1.15"/><circle cx="419.4" cy="209.1" r="1.15"/><circle cx="419.6" cy="196.6" r="1.15"/><circle cx="419.9" cy="196.6" r="1.15"/><circle cx="420.1" cy="192.5" r="1.15"/><circle cx="420.4" cy="197.9" r="1.15"/><circle cx="420.6" cy="207.2" r="1.15"/><circle cx="420.9" cy="203.7" r="1.15"/><circle cx="421.1" cy="207.2" r="1.15"/><circle cx="421.4" cy="202.1" r="1.15"/><circle cx="421.6" cy="204.5" r="1.15"/><circle cx="421.8" cy="199.9" r="1.15"/><circle cx="422.1" cy="197.9" r="1.15"/><circle cx="422.3" cy="200.6" r="1.15"/><circle cx="422.6" cy="194.2" r="1.15"/><circle cx="422.8" cy="200.6" r="1.15"/><circle cx="423.1" cy="197.2" r="1.15"/><circle cx="423.3" cy="204.5" r="1.15"/><circle cx="423.6" cy="204.5" r="1.15"/><circle cx="423.8" cy="204.5" r="1.15"/><circle cx="424.1" cy="197.2" r="1.15"/><circle cx="424.3" cy="202.9" r="1.15"/><circle cx="424.6" cy="191.0" r="1.15"/><circle cx="424.8" cy="201.4" r="1.15"/><circle cx="425.0" cy="208.1" r="1.15"/><circle cx="425.3" cy="186.7" r="1.15"/><circle cx="425.5" cy="198.5" r="1.15"/><circle cx="425.8" cy="205.4" r="1.15"/><circle cx="426.0" cy="195.4" r="1.15"/><circle cx="426.3" cy="202.9" r="1.15"/><circle cx="426.5" cy="189.0" r="1.15"/><circle cx="426.8" cy="198.5" r="1.15"/><circle cx="427.0" cy="193.1" r="1.15"/><circle cx="427.3" cy="191.0" r="1.15"/><circle cx="427.5" cy="190.0" r="1.15"/><circle cx="427.7" cy="180.9" r="1.15"/><circle cx="428.0" cy="188.1" r="1.15"/><circle cx="428.2" cy="179.2" r="1.15"/><circle cx="428.5" cy="185.1" r="1.15"/><circle cx="428.7" cy="186.3" r="1.15"/><circle cx="429.0" cy="185.9" r="1.15"/><circle cx="429.2" cy="176.7" r="1.15"/><circle cx="429.5" cy="182.0" r="1.15"/><circle cx="429.7" cy="179.2" r="1.15"/><circle cx="430.0" cy="182.7" r="1.15"/><circle cx="430.2" cy="185.5" r="1.15"/><circle cx="430.5" cy="172.3" r="1.15"/><circle cx="430.7" cy="175.5" r="1.15"/><circle cx="430.9" cy="171.1" r="1.15"/><circle cx="431.2" cy="176.1" r="1.15"/><circle cx="431.4" cy="181.3" r="1.15"/><circle cx="431.7" cy="172.3" r="1.15"/><circle cx="431.9" cy="170.6" r="1.15"/><circle cx="432.2" cy="176.4" r="1.15"/><circle cx="432.4" cy="170.8" r="1.15"/><circle cx="432.7" cy="171.8" r="1.15"/><circle cx="432.9" cy="166.8" r="1.15"/><circle cx="433.2" cy="167.9" r="1.15"/><circle cx="433.4" cy="173.1" r="1.15"/><circle cx="433.7" cy="166.0" r="1.15"/><circle cx="433.9" cy="168.1" r="1.15"/><circle cx="434.1" cy="159.7" r="1.15"/><circle cx="434.4" cy="159.9" r="1.15"/><circle cx="434.6" cy="163.3" r="1.15"/><circle cx="434.9" cy="163.3" r="1.15"/><circle cx="435.1" cy="159.3" r="1.15"/><circle cx="435.4" cy="159.7" r="1.15"/><circle cx="435.6" cy="155.5" r="1.15"/><circle cx="435.9" cy="156.7" r="1.15"/><circle cx="436.1" cy="155.7" r="1.15"/><circle cx="436.4" cy="157.2" r="1.15"/><circle cx="436.6" cy="152.6" r="1.15"/><circle cx="436.9" cy="150.4" r="1.15"/><circle cx="437.1" cy="152.0" r="1.15"/><circle cx="437.3" cy="150.5" r="1.15"/><circle cx="437.6" cy="151.1" r="1.15"/><circle cx="437.8" cy="147.3" r="1.15"/><circle cx="438.1" cy="147.4" r="1.15"/><circle cx="438.3" cy="147.2" r="1.15"/><circle cx="438.6" cy="145.0" r="1.15"/><circle cx="438.8" cy="145.5" r="1.15"/><circle cx="439.1" cy="146.7" r="1.15"/><circle cx="439.3" cy="142.4" r="1.15"/><circle cx="439.6" cy="138.3" r="1.15"/><circle cx="439.8" cy="140.9" r="1.15"/><circle cx="440.0" cy="139.1" r="1.15"/><circle cx="440.3" cy="140.5" r="1.15"/><circle cx="440.5" cy="136.9" r="1.15"/><circle cx="440.8" cy="132.3" r="1.15"/><circle cx="441.0" cy="128.8" r="1.15"/><circle cx="441.3" cy="121.9" r="1.15"/><circle cx="441.5" cy="117.7" r="1.15"/><circle cx="441.8" cy="111.6" r="1.15"/><circle cx="442.0" cy="110.7" r="1.15"/><circle cx="442.3" cy="105.6" r="1.15"/><circle cx="442.5" cy="101.3" r="1.15"/><circle cx="442.8" cy="96.0" r="1.15"/><circle cx="443.0" cy="95.9" r="1.15"/><circle cx="443.2" cy="90.8" r="1.15"/><circle cx="443.5" cy="87.4" r="1.15"/><circle cx="443.7" cy="83.2" r="1.15"/><circle cx="444.0" cy="79.3" r="1.15"/><circle cx="444.2" cy="76.6" r="1.15"/><circle cx="444.5" cy="74.1" r="1.15"/><circle cx="444.7" cy="69.5" r="1.15"/><circle cx="445.0" cy="67.0" r="1.15"/><circle cx="445.2" cy="65.5" r="1.15"/><circle cx="445.5" cy="61.3" r="1.15"/><circle cx="445.7" cy="59.2" r="1.15"/><circle cx="446.0" cy="54.4" r="1.15"/><circle cx="446.2" cy="52.4" r="1.15"/><circle cx="446.4" cy="50.3" r="1.15"/><circle cx="446.7" cy="48.5" r="1.15"/><circle cx="446.9" cy="46.9" r="1.15"/><circle cx="447.2" cy="45.2" r="1.15"/><circle cx="447.4" cy="43.0" r="1.15"/><circle cx="447.7" cy="41.5" r="1.15"/><circle cx="447.9" cy="39.7" r="1.15"/><circle cx="448.2" cy="37.8" r="1.15"/><circle cx="448.4" cy="37.7" r="1.15"/><circle cx="448.7" cy="34.4" r="1.15"/><circle cx="448.9" cy="33.7" r="1.15"/><circle cx="449.2" cy="31.5" r="1.15"/><circle cx="449.4" cy="31.5" r="1.15"/><circle cx="449.6" cy="29.0" r="1.15"/><circle cx="449.9" cy="28.6" r="1.15"/><circle cx="450.1" cy="28.7" r="1.15"/><circle cx="450.4" cy="26.3" r="1.15"/><circle cx="450.6" cy="27.0" r="1.15"/><circle cx="450.9" cy="26.8" r="1.15"/><circle cx="451.1" cy="26.0" r="1.15"/><circle cx="451.4" cy="24.9" r="1.15"/><circle cx="451.6" cy="24.4" r="1.15"/><circle cx="451.9" cy="24.3" r="1.15"/><circle cx="452.1" cy="23.4" r="1.15"/><circle cx="452.3" cy="22.5" r="1.15"/><circle cx="452.6" cy="24.4" r="1.15"/><circle cx="452.8" cy="23.1" r="1.15"/><circle cx="453.1" cy="22.7" r="1.15"/><circle cx="453.3" cy="21.4" r="1.15"/><circle cx="453.6" cy="19.8" r="1.15"/><circle cx="453.8" cy="20.4" r="1.15"/><circle cx="454.1" cy="21.5" r="1.15"/><circle cx="454.3" cy="20.8" r="1.15"/><circle cx="454.6" cy="19.7" r="1.15"/><circle cx="454.8" cy="20.6" r="1.15"/><circle cx="455.1" cy="20.2" r="1.15"/><circle cx="455.3" cy="20.1" r="1.15"/><circle cx="455.5" cy="22.2" r="1.15"/><circle cx="455.8" cy="20.6" r="1.15"/><circle cx="456.0" cy="21.7" r="1.15"/><circle cx="456.3" cy="22.5" r="1.15"/><circle cx="456.5" cy="24.1" r="1.15"/><circle cx="456.8" cy="24.6" r="1.15"/><circle cx="457.0" cy="24.8" r="1.15"/><circle cx="457.3" cy="25.0" r="1.15"/><circle cx="457.5" cy="25.6" r="1.15"/><circle cx="457.8" cy="26.4" r="1.15"/><circle cx="458.0" cy="26.0" r="1.15"/><circle cx="458.3" cy="27.2" r="1.15"/><circle cx="458.5" cy="29.5" r="1.15"/><circle cx="458.7" cy="29.8" r="1.15"/><circle cx="459.0" cy="28.8" r="1.15"/><circle cx="459.2" cy="31.2" r="1.15"/><circle cx="459.5" cy="30.3" r="1.15"/><circle cx="459.7" cy="30.9" r="1.15"/><circle cx="460.0" cy="33.1" r="1.15"/><circle cx="460.2" cy="33.4" r="1.15"/><circle cx="460.5" cy="34.3" r="1.15"/><circle cx="460.7" cy="35.5" r="1.15"/><circle cx="461.0" cy="36.3" r="1.15"/><circle cx="461.2" cy="36.7" r="1.15"/><circle cx="461.5" cy="36.5" r="1.15"/><circle cx="461.7" cy="37.8" r="1.15"/><circle cx="461.9" cy="38.8" r="1.15"/><circle cx="462.2" cy="39.2" r="1.15"/><circle cx="462.4" cy="40.7" r="1.15"/><circle cx="462.7" cy="39.0" r="1.15"/><circle cx="462.9" cy="42.6" r="1.15"/><circle cx="463.2" cy="41.9" r="1.15"/><circle cx="463.4" cy="42.6" r="1.15"/><circle cx="463.7" cy="44.6" r="1.15"/><circle cx="463.9" cy="43.6" r="1.15"/><circle cx="464.2" cy="43.9" r="1.15"/><circle cx="464.4" cy="45.5" r="1.15"/><circle cx="464.6" cy="45.7" r="1.15"/><circle cx="464.9" cy="47.4" r="1.15"/><circle cx="465.1" cy="47.4" r="1.15"/><circle cx="465.4" cy="48.1" r="1.15"/><circle cx="465.6" cy="48.9" r="1.15"/><circle cx="465.9" cy="48.1" r="1.15"/><circle cx="466.1" cy="49.9" r="1.15"/><circle cx="466.4" cy="49.8" r="1.15"/><circle cx="466.6" cy="51.2" r="1.15"/><circle cx="466.9" cy="53.3" r="1.15"/><circle cx="467.1" cy="52.5" r="1.15"/><circle cx="467.4" cy="53.2" r="1.15"/><circle cx="467.6" cy="55.3" r="1.15"/><circle cx="467.8" cy="53.8" r="1.15"/><circle cx="468.1" cy="55.2" r="1.15"/><circle cx="468.3" cy="55.8" r="1.15"/><circle cx="468.6" cy="57.7" r="1.15"/><circle cx="468.8" cy="57.7" r="1.15"/><circle cx="469.1" cy="58.6" r="1.15"/><circle cx="469.3" cy="58.9" r="1.15"/><circle cx="469.6" cy="59.8" r="1.15"/><circle cx="469.8" cy="62.2" r="1.15"/><circle cx="470.1" cy="60.2" r="1.15"/><circle cx="470.3" cy="62.2" r="1.15"/><circle cx="470.6" cy="64.0" r="1.15"/><circle cx="470.8" cy="63.5" r="1.15"/><circle cx="471.0" cy="65.2" r="1.15"/><circle cx="471.3" cy="63.7" r="1.15"/><circle cx="471.5" cy="65.9" r="1.15"/><circle cx="471.8" cy="66.1" r="1.15"/><circle cx="472.0" cy="67.5" r="1.15"/><circle cx="472.3" cy="65.5" r="1.15"/><circle cx="472.5" cy="68.3" r="1.15"/><circle cx="472.8" cy="66.9" r="1.15"/><circle cx="473.0" cy="70.7" r="1.15"/><circle cx="473.3" cy="69.7" r="1.15"/><circle cx="473.5" cy="70.8" r="1.15"/><circle cx="473.8" cy="70.2" r="1.15"/><circle cx="474.0" cy="71.6" r="1.15"/><circle cx="474.2" cy="73.8" r="1.15"/><circle cx="474.5" cy="74.4" r="1.15"/><circle cx="474.7" cy="74.6" r="1.15"/><circle cx="475.0" cy="76.7" r="1.15"/><circle cx="475.2" cy="75.9" r="1.15"/><circle cx="475.5" cy="77.2" r="1.15"/><circle cx="475.7" cy="78.4" r="1.15"/><circle cx="476.0" cy="77.5" r="1.15"/><circle cx="476.2" cy="77.3" r="1.15"/><circle cx="476.5" cy="79.6" r="1.15"/><circle cx="476.7" cy="80.1" r="1.15"/><circle cx="476.9" cy="79.9" r="1.15"/><circle cx="477.2" cy="81.1" r="1.15"/><circle cx="477.4" cy="83.0" r="1.15"/><circle cx="477.7" cy="81.6" r="1.15"/><circle cx="477.9" cy="82.7" r="1.15"/><circle cx="478.2" cy="83.0" r="1.15"/><circle cx="478.4" cy="84.7" r="1.15"/><circle cx="478.7" cy="83.4" r="1.15"/><circle cx="478.9" cy="84.5" r="1.15"/><circle cx="479.2" cy="87.4" r="1.15"/><circle cx="479.4" cy="86.8" r="1.15"/><circle cx="479.7" cy="86.9" r="1.15"/><circle cx="479.9" cy="89.5" r="1.15"/><circle cx="480.1" cy="88.8" r="1.15"/><circle cx="480.4" cy="88.6" r="1.15"/><circle cx="480.6" cy="89.7" r="1.15"/><circle cx="480.9" cy="90.3" r="1.15"/><circle cx="481.1" cy="92.6" r="1.15"/><circle cx="481.4" cy="92.1" r="1.15"/><circle cx="481.6" cy="93.2" r="1.15"/><circle cx="481.9" cy="90.0" r="1.15"/><circle cx="482.1" cy="90.8" r="1.15"/><circle cx="482.4" cy="92.0" r="1.15"/><circle cx="482.6" cy="93.5" r="1.15"/><circle cx="482.9" cy="93.5" r="1.15"/><circle cx="483.1" cy="93.5" r="1.15"/><circle cx="483.3" cy="93.2" r="1.15"/><circle cx="483.6" cy="95.0" r="1.15"/><circle cx="483.8" cy="96.5" r="1.15"/><circle cx="484.1" cy="95.5" r="1.15"/><circle cx="484.3" cy="97.9" r="1.15"/><circle cx="484.6" cy="97.8" r="1.15"/><circle cx="484.8" cy="99.5" r="1.15"/><circle cx="485.1" cy="97.5" r="1.15"/><circle cx="485.3" cy="97.5" r="1.15"/><circle cx="485.6" cy="100.3" r="1.15"/><circle cx="485.8" cy="98.1" r="1.15"/><circle cx="486.1" cy="99.9" r="1.15"/><circle cx="486.3" cy="100.9" r="1.15"/><circle cx="486.5" cy="101.8" r="1.15"/><circle cx="486.8" cy="102.8" r="1.15"/><circle cx="487.0" cy="102.5" r="1.15"/><circle cx="487.3" cy="101.1" r="1.15"/><circle cx="487.5" cy="104.9" r="1.15"/><circle cx="487.8" cy="103.9" r="1.15"/><circle cx="488.0" cy="104.7" r="1.15"/><circle cx="488.3" cy="104.8" r="1.15"/><circle cx="488.5" cy="104.2" r="1.15"/><circle cx="488.8" cy="106.8" r="1.15"/><circle cx="489.0" cy="105.5" r="1.15"/><circle cx="489.2" cy="107.2" r="1.15"/><circle cx="489.5" cy="107.1" r="1.15"/><circle cx="489.7" cy="107.9" r="1.15"/><circle cx="490.0" cy="108.8" r="1.15"/><circle cx="490.2" cy="108.8" r="1.15"/><circle cx="490.5" cy="107.7" r="1.15"/><circle cx="490.7" cy="107.7" r="1.15"/><circle cx="491.0" cy="109.1" r="1.15"/><circle cx="491.2" cy="111.5" r="1.15"/><circle cx="491.5" cy="112.4" r="1.15"/><circle cx="491.7" cy="112.0" r="1.15"/><circle cx="492.0" cy="114.3" r="1.15"/><circle cx="492.2" cy="112.0" r="1.15"/><circle cx="492.4" cy="113.8" r="1.15"/><circle cx="492.7" cy="115.6" r="1.15"/><circle cx="492.9" cy="114.5" r="1.15"/><circle cx="493.2" cy="112.5" r="1.15"/><circle cx="493.4" cy="114.7" r="1.15"/><circle cx="493.7" cy="116.3" r="1.15"/><circle cx="493.9" cy="115.7" r="1.15"/><circle cx="494.2" cy="116.9" r="1.15"/><circle cx="494.4" cy="118.0" r="1.15"/><circle cx="494.7" cy="116.6" r="1.15"/><circle cx="494.9" cy="114.7" r="1.15"/><circle cx="495.2" cy="118.3" r="1.15"/><circle cx="495.4" cy="119.0" r="1.15"/><circle cx="495.6" cy="119.2" r="1.15"/><circle cx="495.9" cy="121.1" r="1.15"/><circle cx="496.1" cy="122.8" r="1.15"/><circle cx="496.4" cy="124.0" r="1.15"/><circle cx="496.6" cy="120.5" r="1.15"/><circle cx="496.9" cy="122.6" r="1.15"/><circle cx="497.1" cy="121.5" r="1.15"/><circle cx="497.4" cy="121.7" r="1.15"/><circle cx="497.6" cy="125.5" r="1.15"/><circle cx="497.9" cy="123.1" r="1.15"/><circle cx="498.1" cy="127.2" r="1.15"/><circle cx="498.4" cy="126.0" r="1.15"/><circle cx="498.6" cy="126.0" r="1.15"/><circle cx="498.8" cy="125.5" r="1.15"/><circle cx="499.1" cy="125.2" r="1.15"/><circle cx="499.3" cy="126.9" r="1.15"/><circle cx="499.6" cy="127.0" r="1.15"/><circle cx="499.8" cy="128.1" r="1.15"/><circle cx="500.1" cy="127.8" r="1.15"/><circle cx="500.3" cy="128.8" r="1.15"/><circle cx="500.6" cy="126.6" r="1.15"/><circle cx="500.8" cy="132.6" r="1.15"/><circle cx="501.1" cy="130.4" r="1.15"/><circle cx="501.3" cy="128.2" r="1.15"/><circle cx="501.5" cy="133.4" r="1.15"/><circle cx="501.8" cy="131.0" r="1.15"/><circle cx="502.0" cy="134.3" r="1.15"/><circle cx="502.3" cy="131.9" r="1.15"/><circle cx="502.5" cy="131.4" r="1.15"/><circle cx="502.8" cy="132.6" r="1.15"/><circle cx="503.0" cy="134.0" r="1.15"/><circle cx="503.3" cy="134.2" r="1.15"/><circle cx="503.5" cy="133.2" r="1.15"/><circle cx="503.8" cy="138.6" r="1.15"/><circle cx="504.0" cy="136.5" r="1.15"/><circle cx="504.3" cy="135.1" r="1.15"/><circle cx="504.5" cy="133.7" r="1.15"/><circle cx="504.7" cy="135.4" r="1.15"/><circle cx="505.0" cy="136.5" r="1.15"/><circle cx="505.2" cy="136.7" r="1.15"/><circle cx="505.5" cy="138.9" r="1.15"/><circle cx="505.7" cy="137.0" r="1.15"/><circle cx="506.0" cy="140.4" r="1.15"/><circle cx="506.2" cy="135.5" r="1.15"/><circle cx="506.5" cy="138.2" r="1.15"/><circle cx="506.7" cy="141.4" r="1.15"/><circle cx="507.0" cy="140.6" r="1.15"/><circle cx="507.2" cy="140.4" r="1.15"/><circle cx="507.5" cy="140.4" r="1.15"/><circle cx="507.7" cy="143.1" r="1.15"/><circle cx="507.9" cy="141.6" r="1.15"/><circle cx="508.2" cy="141.3" r="1.15"/><circle cx="508.4" cy="147.9" r="1.15"/><circle cx="508.7" cy="144.1" r="1.15"/><circle cx="508.9" cy="141.1" r="1.15"/><circle cx="509.2" cy="147.5" r="1.15"/><circle cx="509.4" cy="147.5" r="1.15"/><circle cx="509.7" cy="145.1" r="1.15"/><circle cx="509.9" cy="144.8" r="1.15"/><circle cx="510.2" cy="146.3" r="1.15"/><circle cx="510.4" cy="146.6" r="1.15"/><circle cx="510.7" cy="143.1" r="1.15"/><circle cx="510.9" cy="146.8" r="1.15"/><circle cx="511.1" cy="146.5" r="1.15"/><circle cx="511.4" cy="148.0" r="1.15"/><circle cx="511.6" cy="144.8" r="1.15"/><circle cx="511.9" cy="147.0" r="1.15"/><circle cx="512.1" cy="147.8" r="1.15"/><circle cx="512.4" cy="148.2" r="1.15"/><circle cx="512.6" cy="149.8" r="1.15"/><circle cx="512.9" cy="149.0" r="1.15"/><circle cx="513.1" cy="146.0" r="1.15"/><circle cx="513.4" cy="150.7" r="1.15"/><circle cx="513.6" cy="151.8" r="1.15"/><circle cx="513.8" cy="146.6" r="1.15"/><circle cx="514.1" cy="151.7" r="1.15"/><circle cx="514.3" cy="148.1" r="1.15"/><circle cx="514.6" cy="150.3" r="1.15"/><circle cx="514.8" cy="153.4" r="1.15"/><circle cx="515.1" cy="151.3" r="1.15"/><circle cx="515.3" cy="152.9" r="1.15"/><circle cx="515.6" cy="153.6" r="1.15"/><circle cx="515.8" cy="155.3" r="1.15"/><circle cx="516.1" cy="154.9" r="1.15"/><circle cx="516.3" cy="156.0" r="1.15"/><circle cx="516.6" cy="157.6" r="1.15"/><circle cx="516.8" cy="154.8" r="1.15"/><circle cx="517.0" cy="159.3" r="1.15"/><circle cx="517.3" cy="156.3" r="1.15"/><circle cx="517.5" cy="159.4" r="1.15"/><circle cx="517.8" cy="159.6" r="1.15"/><circle cx="518.0" cy="158.8" r="1.15"/><circle cx="518.3" cy="157.4" r="1.15"/><circle cx="518.5" cy="157.7" r="1.15"/><circle cx="518.8" cy="158.0" r="1.15"/><circle cx="519.0" cy="157.7" r="1.15"/><circle cx="519.3" cy="160.5" r="1.15"/><circle cx="519.5" cy="163.9" r="1.15"/><circle cx="519.8" cy="162.4" r="1.15"/><circle cx="520.0" cy="158.6" r="1.15"/><circle cx="520.2" cy="161.2" r="1.15"/><circle cx="520.5" cy="157.9" r="1.15"/><circle cx="520.7" cy="163.7" r="1.15"/><circle cx="521.0" cy="161.4" r="1.15"/><circle cx="521.2" cy="162.2" r="1.15"/><circle cx="521.5" cy="162.6" r="1.15"/><circle cx="521.7" cy="167.2" r="1.15"/><circle cx="522.0" cy="164.6" r="1.15"/><circle cx="522.2" cy="169.6" r="1.15"/><circle cx="522.5" cy="164.0" r="1.15"/><circle cx="522.7" cy="165.4" r="1.15"/><circle cx="523.0" cy="167.6" r="1.15"/><circle cx="523.2" cy="164.6" r="1.15"/><circle cx="523.4" cy="168.1" r="1.15"/><circle cx="523.7" cy="167.9" r="1.15"/><circle cx="523.9" cy="164.6" r="1.15"/><circle cx="524.2" cy="166.6" r="1.15"/><circle cx="524.4" cy="165.8" r="1.15"/><circle cx="524.7" cy="169.0" r="1.15"/><circle cx="524.9" cy="167.4" r="1.15"/><circle cx="525.2" cy="169.9" r="1.15"/><circle cx="525.4" cy="172.3" r="1.15"/><circle cx="525.7" cy="168.7" r="1.15"/><circle cx="525.9" cy="172.8" r="1.15"/><circle cx="526.1" cy="170.3" r="1.15"/><circle cx="526.4" cy="171.3" r="1.15"/><circle cx="526.6" cy="169.0" r="1.15"/><circle cx="526.9" cy="166.8" r="1.15"/><circle cx="527.1" cy="171.1" r="1.15"/><circle cx="527.4" cy="171.1" r="1.15"/><circle cx="527.6" cy="167.0" r="1.15"/><circle cx="527.9" cy="175.0" r="1.15"/><circle cx="528.1" cy="173.9" r="1.15"/><circle cx="528.4" cy="176.4" r="1.15"/><circle cx="528.6" cy="169.2" r="1.15"/><circle cx="528.9" cy="177.0" r="1.15"/><circle cx="529.1" cy="173.1" r="1.15"/><circle cx="529.3" cy="172.8" r="1.15"/><circle cx="529.6" cy="177.6" r="1.15"/><circle cx="529.8" cy="178.2" r="1.15"/><circle cx="530.1" cy="175.5" r="1.15"/><circle cx="530.3" cy="171.8" r="1.15"/><circle cx="530.6" cy="172.3" r="1.15"/><circle cx="530.8" cy="182.7" r="1.15"/><circle cx="531.1" cy="187.2" r="1.15"/><circle cx="531.3" cy="176.4" r="1.15"/><circle cx="531.6" cy="174.1" r="1.15"/><circle cx="531.8" cy="177.3" r="1.15"/><circle cx="532.1" cy="180.6" r="1.15"/><circle cx="532.3" cy="174.1" r="1.15"/><circle cx="532.5" cy="185.5" r="1.15"/><circle cx="532.8" cy="175.5" r="1.15"/><circle cx="533.0" cy="181.6" r="1.15"/><circle cx="533.3" cy="180.6" r="1.15"/><circle cx="533.5" cy="173.1" r="1.15"/><circle cx="533.8" cy="181.6" r="1.15"/><circle cx="534.0" cy="174.1" r="1.15"/><circle cx="534.3" cy="183.1" r="1.15"/><circle cx="534.5" cy="176.4" r="1.15"/><circle cx="534.8" cy="178.6" r="1.15"/><circle cx="535.0" cy="185.1" r="1.15"/><circle cx="535.3" cy="186.7" r="1.15"/><circle cx="535.5" cy="184.2" r="1.15"/><circle cx="535.7" cy="185.9" r="1.15"/><circle cx="536.0" cy="185.5" r="1.15"/><circle cx="536.2" cy="183.1" r="1.15"/><circle cx="536.5" cy="177.6" r="1.15"/><circle cx="536.7" cy="180.9" r="1.15"/><circle cx="537.0" cy="189.5" r="1.15"/><circle cx="537.2" cy="195.4" r="1.15"/><circle cx="537.5" cy="180.9" r="1.15"/><circle cx="537.7" cy="187.6" r="1.15"/><circle cx="538.0" cy="185.9" r="1.15"/><circle cx="538.2" cy="193.1" r="1.15"/><circle cx="538.4" cy="183.1" r="1.15"/><circle cx="538.7" cy="191.5" r="1.15"/><circle cx="538.9" cy="185.9" r="1.15"/><circle cx="539.2" cy="193.1" r="1.15"/><circle cx="539.4" cy="186.7" r="1.15"/><circle cx="539.7" cy="193.1" r="1.15"/><circle cx="539.9" cy="181.3" r="1.15"/><circle cx="540.2" cy="184.6" r="1.15"/><circle cx="540.4" cy="182.0" r="1.15"/><circle cx="540.7" cy="191.5" r="1.15"/><circle cx="540.9" cy="193.6" r="1.15"/><circle cx="541.2" cy="187.6" r="1.15"/><circle cx="541.4" cy="198.5" r="1.15"/><circle cx="541.6" cy="193.6" r="1.15"/><circle cx="541.9" cy="202.1" r="1.15"/><circle cx="542.1" cy="185.9" r="1.15"/><circle cx="542.4" cy="183.5" r="1.15"/><circle cx="542.6" cy="190.0" r="1.15"/><circle cx="542.9" cy="196.6" r="1.15"/><circle cx="543.1" cy="189.5" r="1.15"/><circle cx="543.4" cy="192.0" r="1.15"/><circle cx="543.6" cy="191.0" r="1.15"/><circle cx="543.9" cy="204.5" r="1.15"/><circle cx="544.1" cy="191.0" r="1.15"/><circle cx="544.4" cy="188.5" r="1.15"/><circle cx="544.6" cy="200.6" r="1.15"/><circle cx="544.8" cy="192.0" r="1.15"/><circle cx="545.1" cy="197.9" r="1.15"/><circle cx="545.3" cy="191.0" r="1.15"/><circle cx="545.6" cy="199.9" r="1.15"/><circle cx="545.8" cy="202.1" r="1.15"/><circle cx="546.1" cy="190.0" r="1.15"/><circle cx="546.3" cy="197.9" r="1.15"/><circle cx="546.6" cy="196.0" r="1.15"/><circle cx="546.8" cy="208.1" r="1.15"/><circle cx="547.1" cy="204.5" r="1.15"/><circle cx="547.3" cy="202.1" r="1.15"/><circle cx="547.6" cy="184.6" r="1.15"/><circle cx="547.8" cy="198.5" r="1.15"/><circle cx="548.0" cy="202.9" r="1.15"/><circle cx="548.3" cy="195.4" r="1.15"/><circle cx="548.5" cy="202.1" r="1.15"/><circle cx="548.8" cy="199.9" r="1.15"/><circle cx="549.0" cy="196.0" r="1.15"/><circle cx="549.3" cy="194.8" r="1.15"/><circle cx="549.5" cy="196.6" r="1.15"/><circle cx="549.8" cy="204.5" r="1.15"/><circle cx="550.0" cy="200.6" r="1.15"/><circle cx="550.3" cy="192.0" r="1.15"/><circle cx="550.5" cy="213.4" r="1.15"/><circle cx="550.7" cy="205.4" r="1.15"/><circle cx="551.0" cy="196.6" r="1.15"/><circle cx="551.2" cy="204.5" r="1.15"/><circle cx="551.5" cy="193.6" r="1.15"/><circle cx="551.7" cy="207.2" r="1.15"/><circle cx="552.0" cy="197.9" r="1.15"/><circle cx="552.2" cy="198.5" r="1.15"/><circle cx="552.5" cy="204.5" r="1.15"/><circle cx="552.7" cy="203.7" r="1.15"/><circle cx="553.0" cy="207.2" r="1.15"/><circle cx="553.2" cy="207.2" r="1.15"/><circle cx="553.5" cy="202.1" r="1.15"/><circle cx="553.7" cy="196.0" r="1.15"/><circle cx="553.9" cy="197.9" r="1.15"/><circle cx="554.2" cy="214.6" r="1.15"/><circle cx="554.4" cy="202.9" r="1.15"/><circle cx="554.7" cy="207.2" r="1.15"/><circle cx="554.9" cy="211.2" r="1.15"/><circle cx="555.2" cy="199.9" r="1.15"/><circle cx="555.4" cy="207.2" r="1.15"/><circle cx="555.7" cy="209.1" r="1.15"/><circle cx="555.9" cy="221.6" r="1.15"/><circle cx="556.2" cy="209.1" r="1.15"/><circle cx="556.4" cy="212.3" r="1.15"/><circle cx="556.7" cy="217.2" r="1.15"/><circle cx="556.9" cy="203.7" r="1.15"/><circle cx="557.1" cy="201.4" r="1.15"/><circle cx="557.4" cy="204.5" r="1.15"/><circle cx="557.6" cy="199.2" r="1.15"/><circle cx="557.9" cy="210.1" r="1.15"/><circle cx="558.1" cy="218.6" r="1.15"/><circle cx="558.4" cy="202.9" r="1.15"/><circle cx="558.6" cy="205.4" r="1.15"/><circle cx="558.9" cy="198.5" r="1.15"/><circle cx="559.1" cy="202.1" r="1.15"/><circle cx="559.4" cy="210.1" r="1.15"/><circle cx="559.6" cy="202.9" r="1.15"/><circle cx="559.9" cy="194.8" r="1.15"/><circle cx="560.1" cy="202.9" r="1.15"/><circle cx="560.3" cy="213.4" r="1.15"/><circle cx="560.6" cy="221.6" r="1.15"/><circle cx="560.8" cy="208.1" r="1.15"/><circle cx="561.1" cy="202.1" r="1.15"/><circle cx="561.3" cy="218.6" r="1.15"/><circle cx="561.6" cy="215.9" r="1.15"/><circle cx="561.8" cy="205.4" r="1.15"/><circle cx="562.1" cy="203.7" r="1.15"/><circle cx="562.3" cy="204.5" r="1.15"/><circle cx="562.6" cy="215.9" r="1.15"/><circle cx="562.8" cy="208.1" r="1.15"/><circle cx="563.0" cy="199.2" r="1.15"/><circle cx="563.3" cy="213.4" r="1.15"/><circle cx="563.5" cy="206.3" r="1.15"/><circle cx="563.8" cy="202.1" r="1.15"/><circle cx="564.0" cy="213.4" r="1.15"/><circle cx="564.3" cy="208.1" r="1.15"/><circle cx="564.5" cy="221.6" r="1.15"/><circle cx="564.8" cy="209.1" r="1.15"/><circle cx="565.0" cy="214.6" r="1.15"/><circle cx="565.3" cy="220.0" r="1.15"/><circle cx="565.5" cy="215.9" r="1.15"/><circle cx="565.8" cy="200.6" r="1.15"/><circle cx="566.0" cy="211.2" r="1.15"/><circle cx="566.2" cy="223.2" r="1.15"/><circle cx="566.5" cy="215.9" r="1.15"/><circle cx="566.7" cy="223.2" r="1.15"/><circle cx="567.0" cy="224.9" r="1.15"/><circle cx="567.2" cy="204.5" r="1.15"/><circle cx="567.5" cy="217.2" r="1.15"/><circle cx="567.7" cy="208.1" r="1.15"/><circle cx="568.0" cy="217.2" r="1.15"/><circle cx="568.2" cy="206.3" r="1.15"/><circle cx="568.5" cy="214.6" r="1.15"/><circle cx="568.7" cy="215.9" r="1.15"/><circle cx="569.0" cy="208.1" r="1.15"/><circle cx="569.2" cy="209.1" r="1.15"/><circle cx="569.4" cy="218.6" r="1.15"/><circle cx="569.7" cy="217.2" r="1.15"/><circle cx="569.9" cy="207.2" r="1.15"/><circle cx="570.2" cy="199.9" r="1.15"/><circle cx="570.4" cy="215.9" r="1.15"/><circle cx="570.7" cy="211.2" r="1.15"/><circle cx="570.9" cy="215.9" r="1.15"/><circle cx="571.2" cy="221.6" r="1.15"/><circle cx="571.4" cy="211.2" r="1.15"/><circle cx="571.7" cy="218.6" r="1.15"/><circle cx="571.9" cy="218.6" r="1.15"/><circle cx="572.2" cy="214.6" r="1.15"/><circle cx="572.4" cy="212.3" r="1.15"/><circle cx="572.6" cy="220.0" r="1.15"/><circle cx="572.9" cy="212.3" r="1.15"/><circle cx="573.1" cy="205.4" r="1.15"/><circle cx="573.4" cy="213.4" r="1.15"/><circle cx="573.6" cy="211.2" r="1.15"/><circle cx="573.9" cy="224.9" r="1.15"/><circle cx="574.1" cy="221.6" r="1.15"/><circle cx="574.4" cy="214.6" r="1.15"/><circle cx="574.6" cy="208.1" r="1.15"/><circle cx="574.9" cy="214.6" r="1.15"/><circle cx="575.1" cy="228.8" r="1.15"/><circle cx="575.3" cy="224.9" r="1.15"/><circle cx="575.6" cy="228.8" r="1.15"/><circle cx="575.8" cy="210.1" r="1.15"/><circle cx="576.1" cy="226.8" r="1.15"/><circle cx="576.3" cy="211.2" r="1.15"/><circle cx="576.6" cy="223.2" r="1.15"/><circle cx="576.8" cy="217.2" r="1.15"/><circle cx="577.1" cy="228.8" r="1.15"/><circle cx="577.3" cy="208.1" r="1.15"/><circle cx="577.6" cy="221.6" r="1.15"/><circle cx="577.8" cy="211.2" r="1.15"/><circle cx="578.1" cy="220.0" r="1.15"/><circle cx="578.3" cy="228.8" r="1.15"/><circle cx="578.5" cy="215.9" r="1.15"/><circle cx="578.8" cy="210.1" r="1.15"/><circle cx="579.0" cy="218.6" r="1.15"/><circle cx="579.3" cy="200.6" r="1.15"/><circle cx="579.5" cy="231.0" r="1.15"/><circle cx="579.8" cy="214.6" r="1.15"/><circle cx="580.0" cy="220.0" r="1.15"/><circle cx="580.3" cy="220.0" r="1.15"/><circle cx="580.5" cy="218.6" r="1.15"/><circle cx="580.8" cy="223.2" r="1.15"/><circle cx="581.0" cy="233.3" r="1.15"/><circle cx="581.3" cy="233.3" r="1.15"/><circle cx="581.5" cy="231.0" r="1.15"/><circle cx="581.7" cy="221.6" r="1.15"/><circle cx="582.0" cy="218.6" r="1.15"/><circle cx="582.2" cy="226.8" r="1.15"/><circle cx="582.5" cy="249.6" r="1.15"/><circle cx="582.7" cy="210.1" r="1.15"/><circle cx="583.0" cy="226.8" r="1.15"/><circle cx="583.2" cy="215.9" r="1.15"/><circle cx="583.5" cy="220.0" r="1.15"/><circle cx="583.7" cy="223.2" r="1.15"/><circle cx="584.0" cy="220.0" r="1.15"/><circle cx="584.2" cy="217.2" r="1.15"/><circle cx="584.5" cy="223.2" r="1.15"/><circle cx="584.7" cy="224.9" r="1.15"/><circle cx="584.9" cy="213.4" r="1.15"/><circle cx="585.2" cy="217.2" r="1.15"/><circle cx="585.4" cy="224.9" r="1.15"/><circle cx="585.7" cy="215.9" r="1.15"/><circle cx="585.9" cy="228.8" r="1.15"/><circle cx="586.2" cy="210.1" r="1.15"/><circle cx="586.4" cy="211.2" r="1.15"/><circle cx="586.7" cy="228.8" r="1.15"/><circle cx="586.9" cy="228.8" r="1.15"/><circle cx="587.2" cy="228.8" r="1.15"/><circle cx="587.4" cy="231.0" r="1.15"/><circle cx="587.6" cy="228.8" r="1.15"/><circle cx="587.9" cy="235.9" r="1.15"/><circle cx="588.1" cy="233.3" r="1.15"/><circle cx="588.4" cy="249.6" r="1.15"/><circle cx="588.6" cy="220.0" r="1.15"/><circle cx="588.9" cy="220.0" r="1.15"/><circle cx="589.1" cy="212.3" r="1.15"/><circle cx="589.4" cy="224.9" r="1.15"/><circle cx="589.6" cy="223.2" r="1.15"/><circle cx="589.9" cy="226.8" r="1.15"/><circle cx="590.1" cy="205.4" r="1.15"/><circle cx="590.4" cy="226.8" r="1.15"/><circle cx="590.6" cy="226.8" r="1.15"/><circle cx="590.8" cy="233.3" r="1.15"/><circle cx="591.1" cy="238.7" r="1.15"/><circle cx="591.3" cy="210.1" r="1.15"/><circle cx="591.6" cy="231.0" r="1.15"/><circle cx="591.8" cy="217.2" r="1.15"/><circle cx="592.1" cy="231.0" r="1.15"/><circle cx="592.3" cy="223.2" r="1.15"/><circle cx="592.6" cy="218.6" r="1.15"/><circle cx="592.8" cy="220.0" r="1.15"/><circle cx="593.1" cy="223.2" r="1.15"/><circle cx="593.3" cy="228.8" r="1.15"/><circle cx="593.6" cy="233.3" r="1.15"/><circle cx="593.8" cy="221.6" r="1.15"/><circle cx="594.0" cy="211.2" r="1.15"/><circle cx="594.3" cy="223.2" r="1.15"/><circle cx="594.5" cy="226.8" r="1.15"/><circle cx="594.8" cy="221.6" r="1.15"/><circle cx="595.0" cy="217.2" r="1.15"/><circle cx="595.3" cy="226.8" r="1.15"/><circle cx="595.5" cy="223.2" r="1.15"/><circle cx="595.8" cy="238.7" r="1.15"/><circle cx="596.0" cy="223.2" r="1.15"/><circle cx="596.3" cy="215.9" r="1.15"/><circle cx="596.5" cy="218.6" r="1.15"/><circle cx="596.8" cy="221.6" r="1.15"/><circle cx="597.0" cy="233.3" r="1.15"/><circle cx="597.2" cy="224.9" r="1.15"/><circle cx="597.5" cy="224.9" r="1.15"/><circle cx="597.7" cy="226.8" r="1.15"/><circle cx="598.0" cy="235.9" r="1.15"/><circle cx="598.2" cy="218.6" r="1.15"/><circle cx="598.5" cy="249.6" r="1.15"/><circle cx="598.7" cy="221.6" r="1.15"/><circle cx="599.0" cy="233.3" r="1.15"/><circle cx="599.2" cy="217.2" r="1.15"/><circle cx="599.5" cy="214.6" r="1.15"/><circle cx="599.7" cy="228.8" r="1.15"/><circle cx="599.9" cy="231.0" r="1.15"/><circle cx="600.2" cy="223.2" r="1.15"/><circle cx="600.4" cy="224.9" r="1.15"/><circle cx="600.7" cy="221.6" r="1.15"/><circle cx="600.9" cy="235.9" r="1.15"/><circle cx="601.2" cy="231.0" r="1.15"/><circle cx="601.4" cy="224.9" r="1.15"/><circle cx="601.7" cy="228.8" r="1.15"/><circle cx="601.9" cy="224.9" r="1.15"/><circle cx="602.2" cy="228.8" r="1.15"/><circle cx="602.4" cy="235.9" r="1.15"/><circle cx="602.7" cy="228.8" r="1.15"/><circle cx="602.9" cy="235.9" r="1.15"/><circle cx="603.1" cy="228.8" r="1.15"/><circle cx="603.4" cy="214.6" r="1.15"/><circle cx="603.6" cy="226.8" r="1.15"/><circle cx="603.9" cy="228.8" r="1.15"/><circle cx="604.1" cy="235.9" r="1.15"/><circle cx="604.4" cy="233.3" r="1.15"/><circle cx="604.6" cy="228.8" r="1.15"/><circle cx="604.9" cy="206.3" r="1.15"/><circle cx="605.1" cy="233.3" r="1.15"/><circle cx="605.4" cy="231.0" r="1.15"/><circle cx="605.6" cy="223.2" r="1.15"/><circle cx="605.9" cy="228.8" r="1.15"/><circle cx="606.1" cy="228.8" r="1.15"/><circle cx="606.3" cy="228.8" r="1.15"/><circle cx="606.6" cy="233.3" r="1.15"/><circle cx="606.8" cy="235.9" r="1.15"/><circle cx="607.1" cy="226.8" r="1.15"/><circle cx="607.3" cy="228.8" r="1.15"/><circle cx="607.6" cy="231.0" r="1.15"/><circle cx="607.8" cy="245.5" r="1.15"/><circle cx="608.1" cy="254.5" r="1.15"/><circle cx="608.3" cy="235.9" r="1.15"/><circle cx="608.6" cy="231.0" r="1.15"/><circle cx="608.8" cy="224.9" r="1.15"/><circle cx="609.1" cy="209.1" r="1.15"/><circle cx="609.3" cy="238.7" r="1.15"/><circle cx="609.5" cy="221.6" r="1.15"/><circle cx="609.8" cy="254.5" r="1.15"/><circle cx="610.0" cy="238.7" r="1.15"/><circle cx="610.3" cy="254.5" r="1.15"/><circle cx="610.5" cy="245.5" r="1.15"/><circle cx="610.8" cy="241.9" r="1.15"/><circle cx="611.0" cy="226.8" r="1.15"/><circle cx="611.3" cy="223.2" r="1.15"/><circle cx="611.5" cy="231.0" r="1.15"/><circle cx="611.8" cy="249.6" r="1.15"/><circle cx="612.0" cy="215.9" r="1.15"/><circle cx="612.2" cy="231.0" r="1.15"/><circle cx="612.5" cy="245.5" r="1.15"/><circle cx="612.7" cy="215.9" r="1.15"/><circle cx="613.0" cy="218.6" r="1.15"/><circle cx="613.2" cy="226.8" r="1.15"/><circle cx="613.5" cy="214.6" r="1.15"/><circle cx="613.7" cy="223.2" r="1.15"/><circle cx="614.0" cy="220.0" r="1.15"/><circle cx="614.2" cy="221.6" r="1.15"/><circle cx="614.5" cy="231.0" r="1.15"/><circle cx="614.7" cy="223.2" r="1.15"/><circle cx="615.0" cy="231.0" r="1.15"/><circle cx="615.2" cy="224.9" r="1.15"/><circle cx="615.4" cy="238.7" r="1.15"/><circle cx="615.7" cy="221.6" r="1.15"/><circle cx="615.9" cy="228.8" r="1.15"/><circle cx="616.2" cy="224.9" r="1.15"/><circle cx="616.4" cy="223.2" r="1.15"/><circle cx="616.7" cy="220.0" r="1.15"/><circle cx="616.9" cy="241.9" r="1.15"/><circle cx="617.2" cy="223.2" r="1.15"/><circle cx="617.4" cy="228.8" r="1.15"/><circle cx="617.7" cy="224.9" r="1.15"/><circle cx="617.9" cy="220.0" r="1.15"/><circle cx="618.2" cy="224.9" r="1.15"/><circle cx="618.4" cy="215.9" r="1.15"/><circle cx="618.6" cy="218.6" r="1.15"/><circle cx="618.9" cy="233.3" r="1.15"/><circle cx="619.1" cy="221.6" r="1.15"/><circle cx="619.4" cy="217.2" r="1.15"/><circle cx="619.6" cy="231.0" r="1.15"/><circle cx="619.9" cy="220.0" r="1.15"/><circle cx="620.1" cy="217.2" r="1.15"/><circle cx="620.4" cy="235.9" r="1.15"/><circle cx="620.6" cy="221.6" r="1.15"/><circle cx="620.9" cy="213.4" r="1.15"/><circle cx="621.1" cy="214.6" r="1.15"/><circle cx="621.4" cy="223.2" r="1.15"/><circle cx="621.6" cy="231.0" r="1.15"/><circle cx="621.8" cy="231.0" r="1.15"/><circle cx="622.1" cy="238.7" r="1.15"/><circle cx="622.3" cy="226.8" r="1.15"/><circle cx="622.6" cy="231.0" r="1.15"/><circle cx="622.8" cy="238.7" r="1.15"/><circle cx="623.1" cy="228.8" r="1.15"/><circle cx="623.3" cy="241.9" r="1.15"/><circle cx="623.6" cy="218.6" r="1.15"/><circle cx="623.8" cy="224.9" r="1.15"/><circle cx="624.1" cy="221.6" r="1.15"/><circle cx="624.3" cy="221.6" r="1.15"/><circle cx="624.5" cy="235.9" r="1.15"/><circle cx="624.8" cy="233.3" r="1.15"/><circle cx="625.0" cy="223.2" r="1.15"/><circle cx="625.3" cy="223.2" r="1.15"/><circle cx="625.5" cy="226.8" r="1.15"/><circle cx="625.8" cy="220.0" r="1.15"/><circle cx="626.0" cy="238.7" r="1.15"/><circle cx="626.3" cy="233.3" r="1.15"/><circle cx="626.5" cy="228.8" r="1.15"/><circle cx="626.8" cy="245.5" r="1.15"/><circle cx="627.0" cy="235.9" r="1.15"/><circle cx="627.3" cy="238.7" r="1.15"/><circle cx="627.5" cy="228.8" r="1.15"/><circle cx="627.7" cy="224.9" r="1.15"/><circle cx="628.0" cy="218.6" r="1.15"/><circle cx="628.2" cy="220.0" r="1.15"/><circle cx="628.5" cy="217.2" r="1.15"/><circle cx="628.7" cy="249.6" r="1.15"/><circle cx="629.0" cy="238.7" r="1.15"/><circle cx="629.2" cy="241.9" r="1.15"/><circle cx="629.5" cy="241.9" r="1.15"/><circle cx="629.7" cy="249.6" r="1.15"/><circle cx="630.0" cy="235.9" r="1.15"/><circle cx="630.2" cy="238.7" r="1.15"/><circle cx="630.5" cy="213.4" r="1.15"/><circle cx="630.7" cy="220.0" r="1.15"/><circle cx="630.9" cy="228.8" r="1.15"/><circle cx="631.2" cy="213.4" r="1.15"/><circle cx="631.4" cy="218.6" r="1.15"/><circle cx="631.7" cy="228.8" r="1.15"/><circle cx="631.9" cy="213.4" r="1.15"/><circle cx="632.2" cy="238.7" r="1.15"/><circle cx="632.4" cy="238.7" r="1.15"/><circle cx="632.7" cy="231.0" r="1.15"/><circle cx="632.9" cy="235.9" r="1.15"/><circle cx="633.2" cy="238.7" r="1.15"/><circle cx="633.4" cy="241.9" r="1.15"/><circle cx="633.7" cy="207.2" r="1.15"/><circle cx="633.9" cy="241.9" r="1.15"/><circle cx="634.1" cy="238.7" r="1.15"/><circle cx="634.4" cy="254.5" r="1.15"/><circle cx="634.6" cy="226.8" r="1.15"/><circle cx="634.9" cy="245.5" r="1.15"/><circle cx="635.1" cy="231.0" r="1.15"/><circle cx="635.4" cy="228.8" r="1.15"/><circle cx="635.6" cy="241.9" r="1.15"/><circle cx="635.9" cy="223.2" r="1.15"/><circle cx="636.1" cy="220.0" r="1.15"/><circle cx="636.4" cy="223.2" r="1.15"/><circle cx="636.6" cy="213.4" r="1.15"/><circle cx="636.8" cy="218.6" r="1.15"/><circle cx="637.1" cy="226.8" r="1.15"/><circle cx="637.3" cy="228.8" r="1.15"/><circle cx="637.6" cy="268.3" r="1.15"/><circle cx="637.8" cy="254.5" r="1.15"/><circle cx="638.1" cy="241.9" r="1.15"/><circle cx="638.3" cy="254.5" r="1.15"/><circle cx="638.6" cy="226.8" r="1.15"/><circle cx="638.8" cy="220.0" r="1.15"/><circle cx="639.1" cy="224.9" r="1.15"/><circle cx="639.3" cy="235.9" r="1.15"/><circle cx="639.6" cy="241.9" r="1.15"/><circle cx="639.8" cy="238.7" r="1.15"/><circle cx="640.0" cy="220.0" r="1.15"/><circle cx="640.3" cy="226.8" r="1.15"/><circle cx="640.5" cy="214.6" r="1.15"/><circle cx="640.8" cy="241.9" r="1.15"/><circle cx="641.0" cy="235.9" r="1.15"/><circle cx="641.3" cy="223.2" r="1.15"/><circle cx="641.5" cy="235.9" r="1.15"/><circle cx="641.8" cy="245.5" r="1.15"/><circle cx="642.0" cy="228.8" r="1.15"/><circle cx="642.3" cy="233.3" r="1.15"/><circle cx="642.5" cy="235.9" r="1.15"/><circle cx="642.8" cy="233.3" r="1.15"/><circle cx="643.0" cy="245.5" r="1.15"/><circle cx="643.2" cy="245.5" r="1.15"/><circle cx="643.5" cy="224.9" r="1.15"/><circle cx="643.7" cy="245.5" r="1.15"/><circle cx="644.0" cy="241.9" r="1.15"/><circle cx="644.2" cy="249.6" r="1.15"/><circle cx="644.5" cy="235.9" r="1.15"/><circle cx="644.7" cy="235.9" r="1.15"/><circle cx="645.0" cy="238.7" r="1.15"/><circle cx="645.2" cy="224.9" r="1.15"/><circle cx="645.5" cy="224.9" r="1.15"/><circle cx="645.7" cy="238.7" r="1.15"/><circle cx="646.0" cy="210.1" r="1.15"/><circle cx="646.2" cy="218.6" r="1.15"/><circle cx="646.4" cy="231.0" r="1.15"/><circle cx="646.7" cy="235.9" r="1.15"/><circle cx="646.9" cy="217.2" r="1.15"/><circle cx="647.2" cy="231.0" r="1.15"/><circle cx="647.4" cy="224.9" r="1.15"/><circle cx="647.7" cy="224.9" r="1.15"/><circle cx="647.9" cy="233.3" r="1.15"/><circle cx="648.2" cy="228.8" r="1.15"/><circle cx="648.4" cy="238.7" r="1.15"/><circle cx="648.7" cy="249.6" r="1.15"/><circle cx="648.9" cy="233.3" r="1.15"/><circle cx="649.1" cy="228.8" r="1.15"/><circle cx="649.4" cy="249.6" r="1.15"/><circle cx="649.6" cy="226.8" r="1.15"/><circle cx="649.9" cy="231.0" r="1.15"/><circle cx="650.1" cy="235.9" r="1.15"/><circle cx="650.4" cy="260.5" r="1.15"/><circle cx="650.6" cy="245.5" r="1.15"/><circle cx="650.9" cy="228.8" r="1.15"/><circle cx="651.1" cy="238.7" r="1.15"/><circle cx="651.4" cy="226.8" r="1.15"/><circle cx="651.6" cy="228.8" r="1.15"/><circle cx="651.9" cy="233.3" r="1.15"/><circle cx="652.1" cy="228.8" r="1.15"/><circle cx="652.3" cy="254.5" r="1.15"/><circle cx="652.6" cy="213.4" r="1.15"/><circle cx="652.8" cy="226.8" r="1.15"/><circle cx="653.1" cy="238.7" r="1.15"/><circle cx="653.3" cy="221.6" r="1.15"/><circle cx="653.6" cy="238.7" r="1.15"/><circle cx="653.8" cy="231.0" r="1.15"/><circle cx="654.1" cy="228.8" r="1.15"/><circle cx="654.3" cy="226.8" r="1.15"/><circle cx="654.6" cy="220.0" r="1.15"/><circle cx="654.8" cy="245.5" r="1.15"/><circle cx="655.1" cy="235.9" r="1.15"/><circle cx="655.3" cy="238.7" r="1.15"/><circle cx="655.5" cy="238.7" r="1.15"/><circle cx="655.8" cy="254.5" r="1.15"/><circle cx="656.0" cy="235.9" r="1.15"/><circle cx="656.3" cy="213.4" r="1.15"/><circle cx="656.5" cy="245.5" r="1.15"/><circle cx="656.8" cy="223.2" r="1.15"/><circle cx="657.0" cy="231.0" r="1.15"/><circle cx="657.3" cy="218.6" r="1.15"/><circle cx="657.5" cy="235.9" r="1.15"/><circle cx="657.8" cy="241.9" r="1.15"/><circle cx="658.0" cy="228.8" r="1.15"/><circle cx="658.3" cy="235.9" r="1.15"/><circle cx="658.5" cy="249.6" r="1.15"/><circle cx="658.7" cy="231.0" r="1.15"/><circle cx="659.0" cy="217.2" r="1.15"/><circle cx="659.2" cy="213.4" r="1.15"/><circle cx="659.5" cy="233.3" r="1.15"/><circle cx="659.7" cy="254.5" r="1.15"/><circle cx="660.0" cy="211.2" r="1.15"/><circle cx="660.2" cy="241.9" r="1.15"/><circle cx="660.5" cy="241.9" r="1.15"/><circle cx="660.7" cy="233.3" r="1.15"/><circle cx="661.0" cy="221.6" r="1.15"/><circle cx="661.2" cy="226.8" r="1.15"/><circle cx="661.4" cy="228.8" r="1.15"/><circle cx="661.7" cy="260.5" r="1.15"/><circle cx="661.9" cy="241.9" r="1.15"/><circle cx="662.2" cy="235.9" r="1.15"/><circle cx="662.4" cy="241.9" r="1.15"/><circle cx="662.7" cy="217.2" r="1.15"/><circle cx="662.9" cy="218.6" r="1.15"/><circle cx="663.2" cy="233.3" r="1.15"/><circle cx="663.4" cy="233.3" r="1.15"/><circle cx="663.7" cy="218.6" r="1.15"/><circle cx="663.9" cy="223.2" r="1.15"/><circle cx="664.2" cy="217.2" r="1.15"/><circle cx="664.4" cy="254.5" r="1.15"/><circle cx="664.6" cy="221.6" r="1.15"/><circle cx="664.9" cy="245.5" r="1.15"/><circle cx="665.1" cy="254.5" r="1.15"/><circle cx="665.4" cy="233.3" r="1.15"/><circle cx="665.6" cy="241.9" r="1.15"/><circle cx="665.9" cy="233.3" r="1.15"/><circle cx="666.1" cy="224.9" r="1.15"/><circle cx="666.4" cy="220.0" r="1.15"/><circle cx="666.6" cy="223.2" r="1.15"/><circle cx="666.9" cy="226.8" r="1.15"/><circle cx="667.1" cy="241.9" r="1.15"/><circle cx="667.4" cy="231.0" r="1.15"/><circle cx="667.6" cy="224.9" r="1.15"/><circle cx="667.8" cy="260.5" r="1.15"/><circle cx="668.1" cy="217.2" r="1.15"/><circle cx="668.3" cy="231.0" r="1.15"/><circle cx="668.6" cy="226.8" r="1.15"/><circle cx="668.8" cy="233.3" r="1.15"/><circle cx="669.1" cy="220.0" r="1.15"/><circle cx="669.3" cy="233.3" r="1.15"/><circle cx="669.6" cy="260.5" r="1.15"/><circle cx="669.8" cy="221.6" r="1.15"/><circle cx="670.1" cy="226.8" r="1.15"/><circle cx="670.3" cy="226.8" r="1.15"/><circle cx="670.6" cy="224.9" r="1.15"/><circle cx="670.8" cy="224.9" r="1.15"/><circle cx="671.0" cy="226.8" r="1.15"/><circle cx="671.3" cy="249.6" r="1.15"/><circle cx="671.5" cy="245.5" r="1.15"/><circle cx="671.8" cy="233.3" r="1.15"/><circle cx="672.0" cy="223.2" r="1.15"/><circle cx="672.3" cy="223.2" r="1.15"/><circle cx="672.5" cy="220.0" r="1.15"/><circle cx="672.8" cy="223.2" r="1.15"/><circle cx="673.0" cy="226.8" r="1.15"/><circle cx="673.3" cy="249.6" r="1.15"/><circle cx="673.5" cy="231.0" r="1.15"/><circle cx="673.7" cy="228.8" r="1.15"/><circle cx="674.0" cy="231.0" r="1.15"/><circle cx="674.2" cy="238.7" r="1.15"/><circle cx="674.5" cy="241.9" r="1.15"/><circle cx="674.7" cy="233.3" r="1.15"/><circle cx="675.0" cy="245.5" r="1.15"/><circle cx="675.2" cy="228.8" r="1.15"/><circle cx="675.5" cy="223.2" r="1.15"/><circle cx="675.7" cy="245.5" r="1.15"/><circle cx="676.0" cy="235.9" r="1.15"/><circle cx="676.2" cy="223.2" r="1.15"/><circle cx="676.5" cy="235.9" r="1.15"/></g><g fill="none" stroke="#2ba33a" stroke-width="0.9"><circle cx="406.1" cy="209.8" r="1.15"/><circle cx="406.3" cy="207.0" r="1.15"/><circle cx="406.6" cy="202.8" r="1.15"/><circle cx="406.8" cy="229.5" r="1.15"/><circle cx="407.1" cy="204.4" r="1.15"/><circle cx="407.3" cy="215.3" r="1.15"/><circle cx="407.6" cy="229.5" r="1.15"/><circle cx="407.8" cy="213.0" r="1.15"/><circle cx="408.1" cy="220.7" r="1.15"/><circle cx="408.3" cy="227.5" r="1.15"/><circle cx="408.6" cy="204.4" r="1.15"/><circle cx="408.8" cy="215.3" r="1.15"/><circle cx="409.1" cy="215.3" r="1.15"/><circle cx="409.3" cy="217.9" r="1.15"/><circle cx="409.5" cy="216.6" r="1.15"/><circle cx="409.8" cy="211.9" r="1.15"/><circle cx="410.0" cy="206.1" r="1.15"/><circle cx="410.3" cy="222.3" r="1.15"/><circle cx="410.5" cy="215.3" r="1.15"/><circle cx="410.8" cy="213.0" r="1.15"/><circle cx="411.0" cy="222.3" r="1.15"/><circle cx="411.3" cy="222.3" r="1.15"/><circle cx="411.5" cy="210.8" r="1.15"/><circle cx="411.8" cy="210.8" r="1.15"/><circle cx="412.0" cy="208.8" r="1.15"/><circle cx="412.3" cy="202.8" r="1.15"/><circle cx="412.5" cy="214.1" r="1.15"/><circle cx="412.7" cy="227.5" r="1.15"/><circle cx="413.0" cy="204.4" r="1.15"/><circle cx="413.2" cy="207.9" r="1.15"/><circle cx="413.5" cy="214.1" r="1.15"/><circle cx="413.7" cy="210.8" r="1.15"/><circle cx="414.0" cy="208.8" r="1.15"/><circle cx="414.2" cy="204.4" r="1.15"/><circle cx="414.5" cy="216.6" r="1.15"/><circle cx="414.7" cy="215.3" r="1.15"/><circle cx="415.0" cy="217.9" r="1.15"/><circle cx="415.2" cy="216.6" r="1.15"/><circle cx="415.4" cy="219.3" r="1.15"/><circle cx="415.7" cy="213.0" r="1.15"/><circle cx="415.9" cy="208.8" r="1.15"/><circle cx="416.2" cy="209.8" r="1.15"/><circle cx="416.4" cy="217.9" r="1.15"/><circle cx="416.7" cy="200.6" r="1.15"/><circle cx="416.9" cy="216.6" r="1.15"/><circle cx="417.2" cy="204.4" r="1.15"/><circle cx="417.4" cy="216.6" r="1.15"/><circle cx="417.7" cy="215.3" r="1.15"/><circle cx="417.9" cy="202.8" r="1.15"/><circle cx="418.2" cy="199.2" r="1.15"/><circle cx="418.4" cy="223.9" r="1.15"/><circle cx="418.6" cy="213.0" r="1.15"/><circle cx="418.9" cy="207.9" r="1.15"/><circle cx="419.1" cy="217.9" r="1.15"/><circle cx="419.4" cy="209.8" r="1.15"/><circle cx="419.6" cy="213.0" r="1.15"/><circle cx="419.9" cy="211.9" r="1.15"/><circle cx="420.1" cy="214.1" r="1.15"/><circle cx="420.4" cy="222.3" r="1.15"/><circle cx="420.6" cy="227.5" r="1.15"/><circle cx="420.9" cy="208.8" r="1.15"/><circle cx="421.1" cy="215.3" r="1.15"/><circle cx="421.4" cy="211.9" r="1.15"/><circle cx="421.6" cy="197.9" r="1.15"/><circle cx="421.8" cy="214.1" r="1.15"/><circle cx="422.1" cy="202.8" r="1.15"/><circle cx="422.3" cy="202.8" r="1.15"/><circle cx="422.6" cy="211.9" r="1.15"/><circle cx="422.8" cy="222.3" r="1.15"/><circle cx="423.1" cy="202.1" r="1.15"/><circle cx="423.3" cy="213.0" r="1.15"/><circle cx="423.6" cy="208.8" r="1.15"/><circle cx="423.8" cy="204.4" r="1.15"/><circle cx="424.1" cy="220.7" r="1.15"/><circle cx="424.3" cy="210.8" r="1.15"/><circle cx="424.6" cy="207.0" r="1.15"/><circle cx="424.8" cy="200.6" r="1.15"/><circle cx="425.0" cy="206.1" r="1.15"/><circle cx="425.3" cy="199.9" r="1.15"/><circle cx="425.5" cy="215.3" r="1.15"/><circle cx="425.8" cy="202.8" r="1.15"/><circle cx="426.0" cy="209.8" r="1.15"/><circle cx="426.3" cy="208.8" r="1.15"/><circle cx="426.5" cy="204.4" r="1.15"/><circle cx="426.8" cy="227.5" r="1.15"/><circle cx="427.0" cy="207.0" r="1.15"/><circle cx="427.3" cy="207.0" r="1.15"/><circle cx="427.5" cy="217.9" r="1.15"/><circle cx="427.7" cy="205.3" r="1.15"/><circle cx="428.0" cy="202.8" r="1.15"/><circle cx="428.2" cy="217.9" r="1.15"/><circle cx="428.5" cy="207.9" r="1.15"/><circle cx="428.7" cy="219.3" r="1.15"/><circle cx="429.0" cy="215.3" r="1.15"/><circle cx="429.2" cy="225.7" r="1.15"/><circle cx="429.5" cy="208.8" r="1.15"/><circle cx="429.7" cy="196.7" r="1.15"/><circle cx="430.0" cy="207.9" r="1.15"/><circle cx="430.2" cy="207.9" r="1.15"/><circle cx="430.5" cy="197.9" r="1.15"/><circle cx="430.7" cy="200.6" r="1.15"/><circle cx="430.9" cy="206.1" r="1.15"/><circle cx="431.2" cy="198.6" r="1.15"/><circle cx="431.4" cy="208.8" r="1.15"/><circle cx="431.7" cy="209.8" r="1.15"/><circle cx="431.9" cy="206.1" r="1.15"/><circle cx="432.2" cy="214.1" r="1.15"/><circle cx="432.4" cy="195.5" r="1.15"/><circle cx="432.7" cy="215.3" r="1.15"/><circle cx="432.9" cy="197.9" r="1.15"/><circle cx="433.2" cy="197.9" r="1.15"/><circle cx="433.4" cy="205.3" r="1.15"/><circle cx="433.7" cy="206.1" r="1.15"/><circle cx="433.9" cy="190.7" r="1.15"/><circle cx="434.1" cy="195.5" r="1.15"/><circle cx="434.4" cy="198.6" r="1.15"/><circle cx="434.6" cy="191.2" r="1.15"/><circle cx="434.9" cy="188.3" r="1.15"/><circle cx="435.1" cy="190.2" r="1.15"/><circle cx="435.4" cy="186.6" r="1.15"/><circle cx="435.6" cy="194.9" r="1.15"/><circle cx="435.9" cy="190.2" r="1.15"/><circle cx="436.1" cy="185.4" r="1.15"/><circle cx="436.4" cy="176.8" r="1.15"/><circle cx="436.6" cy="178.9" r="1.15"/><circle cx="436.9" cy="183.4" r="1.15"/><circle cx="437.1" cy="174.6" r="1.15"/><circle cx="437.3" cy="180.2" r="1.15"/><circle cx="437.6" cy="177.4" r="1.15"/><circle cx="437.8" cy="182.3" r="1.15"/><circle cx="438.1" cy="179.9" r="1.15"/><circle cx="438.3" cy="175.1" r="1.15"/><circle cx="438.6" cy="175.1" r="1.15"/><circle cx="438.8" cy="171.8" r="1.15"/><circle cx="439.1" cy="173.0" r="1.15"/><circle cx="439.3" cy="165.5" r="1.15"/><circle cx="439.6" cy="153.5" r="1.15"/><circle cx="439.8" cy="148.6" r="1.15"/><circle cx="440.0" cy="146.1" r="1.15"/><circle cx="440.3" cy="140.8" r="1.15"/><circle cx="440.5" cy="137.2" r="1.15"/><circle cx="440.8" cy="129.4" r="1.15"/><circle cx="441.0" cy="127.4" r="1.15"/><circle cx="441.3" cy="121.5" r="1.15"/><circle cx="441.5" cy="118.8" r="1.15"/><circle cx="441.8" cy="112.8" r="1.15"/><circle cx="442.0" cy="110.9" r="1.15"/><circle cx="442.3" cy="104.9" r="1.15"/><circle cx="442.5" cy="102.6" r="1.15"/><circle cx="442.8" cy="98.1" r="1.15"/><circle cx="443.0" cy="94.9" r="1.15"/><circle cx="443.2" cy="90.7" r="1.15"/><circle cx="443.5" cy="86.7" r="1.15"/><circle cx="443.7" cy="84.4" r="1.15"/><circle cx="444.0" cy="80.1" r="1.15"/><circle cx="444.2" cy="77.2" r="1.15"/><circle cx="444.5" cy="73.9" r="1.15"/><circle cx="444.7" cy="71.4" r="1.15"/><circle cx="445.0" cy="67.9" r="1.15"/><circle cx="445.2" cy="65.2" r="1.15"/><circle cx="445.5" cy="60.6" r="1.15"/><circle cx="445.7" cy="59.8" r="1.15"/><circle cx="446.0" cy="56.8" r="1.15"/><circle cx="446.2" cy="52.9" r="1.15"/><circle cx="446.4" cy="50.5" r="1.15"/><circle cx="446.7" cy="49.5" r="1.15"/><circle cx="446.9" cy="47.5" r="1.15"/><circle cx="447.2" cy="46.8" r="1.15"/><circle cx="447.4" cy="44.4" r="1.15"/><circle cx="447.7" cy="41.6" r="1.15"/><circle cx="447.9" cy="40.3" r="1.15"/><circle cx="448.2" cy="39.3" r="1.15"/><circle cx="448.4" cy="37.9" r="1.15"/><circle cx="448.7" cy="37.7" r="1.15"/><circle cx="448.9" cy="34.5" r="1.15"/><circle cx="449.2" cy="32.7" r="1.15"/><circle cx="449.4" cy="30.6" r="1.15"/><circle cx="449.6" cy="28.7" r="1.15"/><circle cx="449.9" cy="29.3" r="1.15"/><circle cx="450.1" cy="28.8" r="1.15"/><circle cx="450.4" cy="29.7" r="1.15"/><circle cx="450.6" cy="27.4" r="1.15"/><circle cx="450.9" cy="27.1" r="1.15"/><circle cx="451.1" cy="26.4" r="1.15"/><circle cx="451.4" cy="26.4" r="1.15"/><circle cx="451.6" cy="26.0" r="1.15"/><circle cx="451.9" cy="24.5" r="1.15"/><circle cx="452.1" cy="25.8" r="1.15"/><circle cx="452.3" cy="24.4" r="1.15"/><circle cx="452.6" cy="23.7" r="1.15"/><circle cx="452.8" cy="24.3" r="1.15"/><circle cx="453.1" cy="23.9" r="1.15"/><circle cx="453.3" cy="22.5" r="1.15"/><circle cx="453.6" cy="22.4" r="1.15"/><circle cx="453.8" cy="21.8" r="1.15"/><circle cx="454.1" cy="21.6" r="1.15"/><circle cx="454.3" cy="22.3" r="1.15"/><circle cx="454.6" cy="21.2" r="1.15"/><circle cx="454.8" cy="20.8" r="1.15"/><circle cx="455.1" cy="21.8" r="1.15"/><circle cx="455.3" cy="21.5" r="1.15"/><circle cx="455.5" cy="22.2" r="1.15"/><circle cx="455.8" cy="20.8" r="1.15"/><circle cx="456.0" cy="19.7" r="1.15"/><circle cx="456.3" cy="22.0" r="1.15"/><circle cx="456.5" cy="20.9" r="1.15"/><circle cx="456.8" cy="21.1" r="1.15"/><circle cx="457.0" cy="22.4" r="1.15"/><circle cx="457.3" cy="22.6" r="1.15"/><circle cx="457.5" cy="23.9" r="1.15"/><circle cx="457.8" cy="23.5" r="1.15"/><circle cx="458.0" cy="23.6" r="1.15"/><circle cx="458.3" cy="23.3" r="1.15"/><circle cx="458.5" cy="24.2" r="1.15"/><circle cx="458.7" cy="23.8" r="1.15"/><circle cx="459.0" cy="24.8" r="1.15"/><circle cx="459.2" cy="26.2" r="1.15"/><circle cx="459.5" cy="24.3" r="1.15"/><circle cx="459.7" cy="24.8" r="1.15"/><circle cx="460.0" cy="26.9" r="1.15"/><circle cx="460.2" cy="25.7" r="1.15"/><circle cx="460.5" cy="26.9" r="1.15"/><circle cx="460.7" cy="27.3" r="1.15"/><circle cx="461.0" cy="26.5" r="1.15"/><circle cx="461.2" cy="30.1" r="1.15"/><circle cx="461.5" cy="30.0" r="1.15"/><circle cx="461.7" cy="28.5" r="1.15"/><circle cx="461.9" cy="29.4" r="1.15"/><circle cx="462.2" cy="30.5" r="1.15"/><circle cx="462.4" cy="28.9" r="1.15"/><circle cx="462.7" cy="30.3" r="1.15"/><circle cx="462.9" cy="31.6" r="1.15"/><circle cx="463.2" cy="31.7" r="1.15"/><circle cx="463.4" cy="30.7" r="1.15"/><circle cx="463.7" cy="30.3" r="1.15"/><circle cx="463.9" cy="33.4" r="1.15"/><circle cx="464.2" cy="32.1" r="1.15"/><circle cx="464.4" cy="33.1" r="1.15"/><circle cx="464.6" cy="34.8" r="1.15"/><circle cx="464.9" cy="33.9" r="1.15"/><circle cx="465.1" cy="35.1" r="1.15"/><circle cx="465.4" cy="34.9" r="1.15"/><circle cx="465.6" cy="33.6" r="1.15"/><circle cx="465.9" cy="34.7" r="1.15"/><circle cx="466.1" cy="34.8" r="1.15"/><circle cx="466.4" cy="35.5" r="1.15"/><circle cx="466.6" cy="35.8" r="1.15"/><circle cx="466.9" cy="35.9" r="1.15"/><circle cx="467.1" cy="38.3" r="1.15"/><circle cx="467.4" cy="37.7" r="1.15"/><circle cx="467.6" cy="37.0" r="1.15"/><circle cx="467.8" cy="38.9" r="1.15"/><circle cx="468.1" cy="38.7" r="1.15"/><circle cx="468.3" cy="38.3" r="1.15"/><circle cx="468.6" cy="37.9" r="1.15"/><circle cx="468.8" cy="40.1" r="1.15"/><circle cx="469.1" cy="40.5" r="1.15"/><circle cx="469.3" cy="39.7" r="1.15"/><circle cx="469.6" cy="40.8" r="1.15"/><circle cx="469.8" cy="41.9" r="1.15"/><circle cx="470.1" cy="41.5" r="1.15"/><circle cx="470.3" cy="41.7" r="1.15"/><circle cx="470.6" cy="42.3" r="1.15"/><circle cx="470.8" cy="40.5" r="1.15"/><circle cx="471.0" cy="42.5" r="1.15"/><circle cx="471.3" cy="43.6" r="1.15"/><circle cx="471.5" cy="43.3" r="1.15"/><circle cx="471.8" cy="42.4" r="1.15"/><circle cx="472.0" cy="44.6" r="1.15"/><circle cx="472.3" cy="46.2" r="1.15"/><circle cx="472.5" cy="46.3" r="1.15"/><circle cx="472.8" cy="46.4" r="1.15"/><circle cx="473.0" cy="47.2" r="1.15"/><circle cx="473.3" cy="47.1" r="1.15"/><circle cx="473.5" cy="47.7" r="1.15"/><circle cx="473.8" cy="48.3" r="1.15"/><circle cx="474.0" cy="48.8" r="1.15"/><circle cx="474.2" cy="48.7" r="1.15"/><circle cx="474.5" cy="50.5" r="1.15"/><circle cx="474.7" cy="49.6" r="1.15"/><circle cx="475.0" cy="50.3" r="1.15"/><circle cx="475.2" cy="50.5" r="1.15"/><circle cx="475.5" cy="52.6" r="1.15"/><circle cx="475.7" cy="50.7" r="1.15"/><circle cx="476.0" cy="53.4" r="1.15"/><circle cx="476.2" cy="52.9" r="1.15"/><circle cx="476.5" cy="52.6" r="1.15"/><circle cx="476.7" cy="54.0" r="1.15"/><circle cx="476.9" cy="54.0" r="1.15"/><circle cx="477.2" cy="56.0" r="1.15"/><circle cx="477.4" cy="55.3" r="1.15"/><circle cx="477.7" cy="55.3" r="1.15"/><circle cx="477.9" cy="54.5" r="1.15"/><circle cx="478.2" cy="56.3" r="1.15"/><circle cx="478.4" cy="56.6" r="1.15"/><circle cx="478.7" cy="57.1" r="1.15"/><circle cx="478.9" cy="57.7" r="1.15"/><circle cx="479.2" cy="57.6" r="1.15"/><circle cx="479.4" cy="56.7" r="1.15"/><circle cx="479.7" cy="59.2" r="1.15"/><circle cx="479.9" cy="57.9" r="1.15"/><circle cx="480.1" cy="60.0" r="1.15"/><circle cx="480.4" cy="58.4" r="1.15"/><circle cx="480.6" cy="60.9" r="1.15"/><circle cx="480.9" cy="60.1" r="1.15"/><circle cx="481.1" cy="61.1" r="1.15"/><circle cx="481.4" cy="61.3" r="1.15"/><circle cx="481.6" cy="61.9" r="1.15"/><circle cx="481.9" cy="62.5" r="1.15"/><circle cx="482.1" cy="62.8" r="1.15"/><circle cx="482.4" cy="63.3" r="1.15"/><circle cx="482.6" cy="62.7" r="1.15"/><circle cx="482.9" cy="63.9" r="1.15"/><circle cx="483.1" cy="64.8" r="1.15"/><circle cx="483.3" cy="65.1" r="1.15"/><circle cx="483.6" cy="64.7" r="1.15"/><circle cx="483.8" cy="66.1" r="1.15"/><circle cx="484.1" cy="63.9" r="1.15"/><circle cx="484.3" cy="66.2" r="1.15"/><circle cx="484.6" cy="66.0" r="1.15"/><circle cx="484.8" cy="66.7" r="1.15"/><circle cx="485.1" cy="67.2" r="1.15"/><circle cx="485.3" cy="67.2" r="1.15"/><circle cx="485.6" cy="69.6" r="1.15"/><circle cx="485.8" cy="68.6" r="1.15"/><circle cx="486.1" cy="68.9" r="1.15"/><circle cx="486.3" cy="69.8" r="1.15"/><circle cx="486.5" cy="70.1" r="1.15"/><circle cx="486.8" cy="71.4" r="1.15"/><circle cx="487.0" cy="70.1" r="1.15"/><circle cx="487.3" cy="71.1" r="1.15"/><circle cx="487.5" cy="72.2" r="1.15"/><circle cx="487.8" cy="70.3" r="1.15"/><circle cx="488.0" cy="73.0" r="1.15"/><circle cx="488.3" cy="74.3" r="1.15"/><circle cx="488.5" cy="71.7" r="1.15"/><circle cx="488.8" cy="74.1" r="1.15"/><circle cx="489.0" cy="75.7" r="1.15"/><circle cx="489.2" cy="74.4" r="1.15"/><circle cx="489.5" cy="73.6" r="1.15"/><circle cx="489.7" cy="74.8" r="1.15"/><circle cx="490.0" cy="73.6" r="1.15"/><circle cx="490.2" cy="76.0" r="1.15"/><circle cx="490.5" cy="75.9" r="1.15"/><circle cx="490.7" cy="77.3" r="1.15"/><circle cx="491.0" cy="76.5" r="1.15"/><circle cx="491.2" cy="76.3" r="1.15"/><circle cx="491.5" cy="77.3" r="1.15"/><circle cx="491.7" cy="78.3" r="1.15"/><circle cx="492.0" cy="80.6" r="1.15"/><circle cx="492.2" cy="79.5" r="1.15"/><circle cx="492.4" cy="79.7" r="1.15"/><circle cx="492.7" cy="78.6" r="1.15"/><circle cx="492.9" cy="80.1" r="1.15"/><circle cx="493.2" cy="80.1" r="1.15"/><circle cx="493.4" cy="81.9" r="1.15"/><circle cx="493.7" cy="79.1" r="1.15"/><circle cx="493.9" cy="82.4" r="1.15"/><circle cx="494.2" cy="82.5" r="1.15"/><circle cx="494.4" cy="80.5" r="1.15"/><circle cx="494.7" cy="82.9" r="1.15"/><circle cx="494.9" cy="84.2" r="1.15"/><circle cx="495.2" cy="83.2" r="1.15"/><circle cx="495.4" cy="83.5" r="1.15"/><circle cx="495.6" cy="83.5" r="1.15"/><circle cx="495.9" cy="85.5" r="1.15"/><circle cx="496.1" cy="84.2" r="1.15"/><circle cx="496.4" cy="86.5" r="1.15"/><circle cx="496.6" cy="84.2" r="1.15"/><circle cx="496.9" cy="86.8" r="1.15"/><circle cx="497.1" cy="86.9" r="1.15"/><circle cx="497.4" cy="86.6" r="1.15"/><circle cx="497.6" cy="87.0" r="1.15"/><circle cx="497.9" cy="89.1" r="1.15"/><circle cx="498.1" cy="87.1" r="1.15"/><circle cx="498.4" cy="88.7" r="1.15"/><circle cx="498.6" cy="90.6" r="1.15"/><circle cx="498.8" cy="88.9" r="1.15"/><circle cx="499.1" cy="88.7" r="1.15"/><circle cx="499.3" cy="88.4" r="1.15"/><circle cx="499.6" cy="90.8" r="1.15"/><circle cx="499.8" cy="91.6" r="1.15"/><circle cx="500.1" cy="90.7" r="1.15"/><circle cx="500.3" cy="90.5" r="1.15"/><circle cx="500.6" cy="92.1" r="1.15"/><circle cx="500.8" cy="91.9" r="1.15"/><circle cx="501.1" cy="92.9" r="1.15"/><circle cx="501.3" cy="93.9" r="1.15"/><circle cx="501.5" cy="93.0" r="1.15"/><circle cx="501.8" cy="95.3" r="1.15"/><circle cx="502.0" cy="95.4" r="1.15"/><circle cx="502.3" cy="95.4" r="1.15"/><circle cx="502.5" cy="94.8" r="1.15"/><circle cx="502.8" cy="95.1" r="1.15"/><circle cx="503.0" cy="97.3" r="1.15"/><circle cx="503.3" cy="96.6" r="1.15"/><circle cx="503.5" cy="96.1" r="1.15"/><circle cx="503.8" cy="97.0" r="1.15"/><circle cx="504.0" cy="97.9" r="1.15"/><circle cx="504.3" cy="98.0" r="1.15"/><circle cx="504.5" cy="99.3" r="1.15"/><circle cx="504.7" cy="99.5" r="1.15"/><circle cx="505.0" cy="99.5" r="1.15"/><circle cx="505.2" cy="99.0" r="1.15"/><circle cx="505.5" cy="100.2" r="1.15"/><circle cx="505.7" cy="98.3" r="1.15"/><circle cx="506.0" cy="101.0" r="1.15"/><circle cx="506.2" cy="100.5" r="1.15"/><circle cx="506.5" cy="101.0" r="1.15"/><circle cx="506.7" cy="101.6" r="1.15"/><circle cx="507.0" cy="102.0" r="1.15"/><circle cx="507.2" cy="100.7" r="1.15"/><circle cx="507.5" cy="104.2" r="1.15"/><circle cx="507.7" cy="102.3" r="1.15"/><circle cx="507.9" cy="102.6" r="1.15"/><circle cx="508.2" cy="103.2" r="1.15"/><circle cx="508.4" cy="103.5" r="1.15"/><circle cx="508.7" cy="102.0" r="1.15"/><circle cx="508.9" cy="104.4" r="1.15"/><circle cx="509.2" cy="106.8" r="1.15"/><circle cx="509.4" cy="104.4" r="1.15"/><circle cx="509.7" cy="107.5" r="1.15"/><circle cx="509.9" cy="106.6" r="1.15"/><circle cx="510.2" cy="104.5" r="1.15"/><circle cx="510.4" cy="106.5" r="1.15"/><circle cx="510.7" cy="107.9" r="1.15"/><circle cx="510.9" cy="107.0" r="1.15"/><circle cx="511.1" cy="106.9" r="1.15"/><circle cx="511.4" cy="108.9" r="1.15"/><circle cx="511.6" cy="108.2" r="1.15"/><circle cx="511.9" cy="110.3" r="1.15"/><circle cx="512.1" cy="105.9" r="1.15"/><circle cx="512.4" cy="110.3" r="1.15"/><circle cx="512.6" cy="109.5" r="1.15"/><circle cx="512.9" cy="110.4" r="1.15"/><circle cx="513.1" cy="110.6" r="1.15"/><circle cx="513.4" cy="111.0" r="1.15"/><circle cx="513.6" cy="109.5" r="1.15"/><circle cx="513.8" cy="111.4" r="1.15"/><circle cx="514.1" cy="111.9" r="1.15"/><circle cx="514.3" cy="113.8" r="1.15"/><circle cx="514.6" cy="112.4" r="1.15"/><circle cx="514.8" cy="111.5" r="1.15"/><circle cx="515.1" cy="111.8" r="1.15"/><circle cx="515.3" cy="112.9" r="1.15"/><circle cx="515.6" cy="117.1" r="1.15"/><circle cx="515.8" cy="113.5" r="1.15"/><circle cx="516.1" cy="116.8" r="1.15"/><circle cx="516.3" cy="115.7" r="1.15"/><circle cx="516.6" cy="114.7" r="1.15"/><circle cx="516.8" cy="116.5" r="1.15"/><circle cx="517.0" cy="117.7" r="1.15"/><circle cx="517.3" cy="114.1" r="1.15"/><circle cx="517.5" cy="116.7" r="1.15"/><circle cx="517.8" cy="115.9" r="1.15"/><circle cx="518.0" cy="118.5" r="1.15"/><circle cx="518.3" cy="117.7" r="1.15"/><circle cx="518.5" cy="116.7" r="1.15"/><circle cx="518.8" cy="117.9" r="1.15"/><circle cx="519.0" cy="119.4" r="1.15"/><circle cx="519.3" cy="119.2" r="1.15"/><circle cx="519.5" cy="119.2" r="1.15"/><circle cx="519.8" cy="121.0" r="1.15"/><circle cx="520.0" cy="119.1" r="1.15"/><circle cx="520.2" cy="120.4" r="1.15"/><circle cx="520.5" cy="122.0" r="1.15"/><circle cx="520.7" cy="121.0" r="1.15"/><circle cx="521.0" cy="122.6" r="1.15"/><circle cx="521.2" cy="119.6" r="1.15"/><circle cx="521.5" cy="121.6" r="1.15"/><circle cx="521.7" cy="125.7" r="1.15"/><circle cx="522.0" cy="125.3" r="1.15"/><circle cx="522.2" cy="124.1" r="1.15"/><circle cx="522.5" cy="125.2" r="1.15"/><circle cx="522.7" cy="124.0" r="1.15"/><circle cx="523.0" cy="125.8" r="1.15"/><circle cx="523.2" cy="124.1" r="1.15"/><circle cx="523.4" cy="122.3" r="1.15"/><circle cx="523.7" cy="128.4" r="1.15"/><circle cx="523.9" cy="126.3" r="1.15"/><circle cx="524.2" cy="124.3" r="1.15"/><circle cx="524.4" cy="127.1" r="1.15"/><circle cx="524.7" cy="128.3" r="1.15"/><circle cx="524.9" cy="126.2" r="1.15"/><circle cx="525.2" cy="127.7" r="1.15"/><circle cx="525.4" cy="128.5" r="1.15"/><circle cx="525.7" cy="130.8" r="1.15"/><circle cx="525.9" cy="127.9" r="1.15"/><circle cx="526.1" cy="129.3" r="1.15"/><circle cx="526.4" cy="133.4" r="1.15"/><circle cx="526.6" cy="128.1" r="1.15"/><circle cx="526.9" cy="131.8" r="1.15"/><circle cx="527.1" cy="131.4" r="1.15"/><circle cx="527.4" cy="130.4" r="1.15"/><circle cx="527.6" cy="133.8" r="1.15"/><circle cx="527.9" cy="133.4" r="1.15"/><circle cx="528.1" cy="131.3" r="1.15"/><circle cx="528.4" cy="133.7" r="1.15"/><circle cx="528.6" cy="135.4" r="1.15"/><circle cx="528.9" cy="133.2" r="1.15"/><circle cx="529.1" cy="132.3" r="1.15"/><circle cx="529.3" cy="133.7" r="1.15"/><circle cx="529.6" cy="133.1" r="1.15"/><circle cx="529.8" cy="134.3" r="1.15"/><circle cx="530.1" cy="139.1" r="1.15"/><circle cx="530.3" cy="135.0" r="1.15"/><circle cx="530.6" cy="136.8" r="1.15"/><circle cx="530.8" cy="137.6" r="1.15"/><circle cx="531.1" cy="135.0" r="1.15"/><circle cx="531.3" cy="139.8" r="1.15"/><circle cx="531.6" cy="138.2" r="1.15"/><circle cx="531.8" cy="140.2" r="1.15"/><circle cx="532.1" cy="137.8" r="1.15"/><circle cx="532.3" cy="139.2" r="1.15"/><circle cx="532.5" cy="137.9" r="1.15"/><circle cx="532.8" cy="139.8" r="1.15"/><circle cx="533.0" cy="141.3" r="1.15"/><circle cx="533.3" cy="140.2" r="1.15"/><circle cx="533.5" cy="141.1" r="1.15"/><circle cx="533.8" cy="139.6" r="1.15"/><circle cx="534.0" cy="141.1" r="1.15"/><circle cx="534.3" cy="142.3" r="1.15"/><circle cx="534.5" cy="142.6" r="1.15"/><circle cx="534.8" cy="142.3" r="1.15"/><circle cx="535.0" cy="147.1" r="1.15"/><circle cx="535.3" cy="142.4" r="1.15"/><circle cx="535.5" cy="144.4" r="1.15"/><circle cx="535.7" cy="143.7" r="1.15"/><circle cx="536.0" cy="144.7" r="1.15"/><circle cx="536.2" cy="148.6" r="1.15"/><circle cx="536.5" cy="142.6" r="1.15"/><circle cx="536.7" cy="145.3" r="1.15"/><circle cx="537.0" cy="148.9" r="1.15"/><circle cx="537.2" cy="147.3" r="1.15"/><circle cx="537.5" cy="149.7" r="1.15"/><circle cx="537.7" cy="144.6" r="1.15"/><circle cx="538.0" cy="149.9" r="1.15"/><circle cx="538.2" cy="144.5" r="1.15"/><circle cx="538.4" cy="148.4" r="1.15"/><circle cx="538.7" cy="146.9" r="1.15"/><circle cx="538.9" cy="147.6" r="1.15"/><circle cx="539.2" cy="150.8" r="1.15"/><circle cx="539.4" cy="151.2" r="1.15"/><circle cx="539.7" cy="150.0" r="1.15"/><circle cx="539.9" cy="149.8" r="1.15"/><circle cx="540.2" cy="152.0" r="1.15"/><circle cx="540.4" cy="150.2" r="1.15"/><circle cx="540.7" cy="151.6" r="1.15"/><circle cx="540.9" cy="150.6" r="1.15"/><circle cx="541.2" cy="152.9" r="1.15"/><circle cx="541.4" cy="153.2" r="1.15"/><circle cx="541.6" cy="158.7" r="1.15"/><circle cx="541.9" cy="152.6" r="1.15"/><circle cx="542.1" cy="154.7" r="1.15"/><circle cx="542.4" cy="154.5" r="1.15"/><circle cx="542.6" cy="152.9" r="1.15"/><circle cx="542.9" cy="154.1" r="1.15"/><circle cx="543.1" cy="156.3" r="1.15"/><circle cx="543.4" cy="156.3" r="1.15"/><circle cx="543.6" cy="155.6" r="1.15"/><circle cx="543.9" cy="153.2" r="1.15"/><circle cx="544.1" cy="162.9" r="1.15"/><circle cx="544.4" cy="158.6" r="1.15"/><circle cx="544.6" cy="156.9" r="1.15"/><circle cx="544.8" cy="157.3" r="1.15"/><circle cx="545.1" cy="160.0" r="1.15"/><circle cx="545.3" cy="161.9" r="1.15"/><circle cx="545.6" cy="157.3" r="1.15"/><circle cx="545.8" cy="163.1" r="1.15"/><circle cx="546.1" cy="158.9" r="1.15"/><circle cx="546.3" cy="159.0" r="1.15"/><circle cx="546.6" cy="159.5" r="1.15"/><circle cx="546.8" cy="159.2" r="1.15"/><circle cx="547.1" cy="163.1" r="1.15"/><circle cx="547.3" cy="159.8" r="1.15"/><circle cx="547.6" cy="161.9" r="1.15"/><circle cx="547.8" cy="160.4" r="1.15"/><circle cx="548.0" cy="161.4" r="1.15"/><circle cx="548.3" cy="164.0" r="1.15"/><circle cx="548.5" cy="159.0" r="1.15"/><circle cx="548.8" cy="164.0" r="1.15"/><circle cx="549.0" cy="169.4" r="1.15"/><circle cx="549.3" cy="163.5" r="1.15"/><circle cx="549.5" cy="166.9" r="1.15"/><circle cx="549.8" cy="167.9" r="1.15"/><circle cx="550.0" cy="161.4" r="1.15"/><circle cx="550.3" cy="167.7" r="1.15"/><circle cx="550.5" cy="163.8" r="1.15"/><circle cx="550.7" cy="165.5" r="1.15"/><circle cx="551.0" cy="171.0" r="1.15"/><circle cx="551.2" cy="169.9" r="1.15"/><circle cx="551.5" cy="170.6" r="1.15"/><circle cx="551.7" cy="170.1" r="1.15"/><circle cx="552.0" cy="168.8" r="1.15"/><circle cx="552.2" cy="172.2" r="1.15"/><circle cx="552.5" cy="165.7" r="1.15"/><circle cx="552.7" cy="165.9" r="1.15"/><circle cx="553.0" cy="169.0" r="1.15"/><circle cx="553.2" cy="167.9" r="1.15"/><circle cx="553.5" cy="169.2" r="1.15"/><circle cx="553.7" cy="172.2" r="1.15"/><circle cx="553.9" cy="169.0" r="1.15"/><circle cx="554.2" cy="168.1" r="1.15"/><circle cx="554.4" cy="168.3" r="1.15"/><circle cx="554.7" cy="172.0" r="1.15"/><circle cx="554.9" cy="172.0" r="1.15"/><circle cx="555.2" cy="178.0" r="1.15"/><circle cx="555.4" cy="173.3" r="1.15"/><circle cx="555.7" cy="173.3" r="1.15"/><circle cx="555.9" cy="180.9" r="1.15"/><circle cx="556.2" cy="174.6" r="1.15"/><circle cx="556.4" cy="170.1" r="1.15"/><circle cx="556.7" cy="174.0" r="1.15"/><circle cx="556.9" cy="175.4" r="1.15"/><circle cx="557.1" cy="176.5" r="1.15"/><circle cx="557.4" cy="173.3" r="1.15"/><circle cx="557.6" cy="175.4" r="1.15"/><circle cx="557.9" cy="181.3" r="1.15"/><circle cx="558.1" cy="176.5" r="1.15"/><circle cx="558.4" cy="174.8" r="1.15"/><circle cx="558.6" cy="173.8" r="1.15"/><circle cx="558.9" cy="181.6" r="1.15"/><circle cx="559.1" cy="169.4" r="1.15"/><circle cx="559.4" cy="176.8" r="1.15"/><circle cx="559.6" cy="177.1" r="1.15"/><circle cx="559.9" cy="175.1" r="1.15"/><circle cx="560.1" cy="170.1" r="1.15"/><circle cx="560.3" cy="188.8" r="1.15"/><circle cx="560.6" cy="172.5" r="1.15"/><circle cx="560.8" cy="174.0" r="1.15"/><circle cx="561.1" cy="178.9" r="1.15"/><circle cx="561.3" cy="182.0" r="1.15"/><circle cx="561.6" cy="173.8" r="1.15"/><circle cx="561.8" cy="176.5" r="1.15"/><circle cx="562.1" cy="179.6" r="1.15"/><circle cx="562.3" cy="177.4" r="1.15"/><circle cx="562.6" cy="176.5" r="1.15"/><circle cx="562.8" cy="179.6" r="1.15"/><circle cx="563.0" cy="176.0" r="1.15"/><circle cx="563.3" cy="182.7" r="1.15"/><circle cx="563.5" cy="182.0" r="1.15"/><circle cx="563.8" cy="181.3" r="1.15"/><circle cx="564.0" cy="182.0" r="1.15"/><circle cx="564.3" cy="183.0" r="1.15"/><circle cx="564.5" cy="177.1" r="1.15"/><circle cx="564.8" cy="182.7" r="1.15"/><circle cx="565.0" cy="187.4" r="1.15"/><circle cx="565.3" cy="182.3" r="1.15"/><circle cx="565.5" cy="185.4" r="1.15"/><circle cx="565.8" cy="186.6" r="1.15"/><circle cx="566.0" cy="182.0" r="1.15"/><circle cx="566.2" cy="181.6" r="1.15"/><circle cx="566.5" cy="192.7" r="1.15"/><circle cx="566.7" cy="187.9" r="1.15"/><circle cx="567.0" cy="177.4" r="1.15"/><circle cx="567.2" cy="188.3" r="1.15"/><circle cx="567.5" cy="182.7" r="1.15"/><circle cx="567.7" cy="182.3" r="1.15"/><circle cx="568.0" cy="183.4" r="1.15"/><circle cx="568.2" cy="189.2" r="1.15"/><circle cx="568.5" cy="183.0" r="1.15"/><circle cx="568.7" cy="187.4" r="1.15"/><circle cx="569.0" cy="178.9" r="1.15"/><circle cx="569.2" cy="188.3" r="1.15"/><circle cx="569.4" cy="191.2" r="1.15"/><circle cx="569.7" cy="192.7" r="1.15"/><circle cx="569.9" cy="194.9" r="1.15"/><circle cx="570.2" cy="197.3" r="1.15"/><circle cx="570.4" cy="188.8" r="1.15"/><circle cx="570.7" cy="190.7" r="1.15"/><circle cx="570.9" cy="193.2" r="1.15"/><circle cx="571.2" cy="193.2" r="1.15"/><circle cx="571.4" cy="190.2" r="1.15"/><circle cx="571.7" cy="185.4" r="1.15"/><circle cx="571.9" cy="194.3" r="1.15"/><circle cx="572.2" cy="196.1" r="1.15"/><circle cx="572.4" cy="188.8" r="1.15"/><circle cx="572.6" cy="186.6" r="1.15"/><circle cx="572.9" cy="183.4" r="1.15"/><circle cx="573.1" cy="189.2" r="1.15"/><circle cx="573.4" cy="203.6" r="1.15"/><circle cx="573.6" cy="193.8" r="1.15"/><circle cx="573.9" cy="188.8" r="1.15"/><circle cx="574.1" cy="196.7" r="1.15"/><circle cx="574.4" cy="197.3" r="1.15"/><circle cx="574.6" cy="193.8" r="1.15"/><circle cx="574.9" cy="194.9" r="1.15"/><circle cx="575.1" cy="190.2" r="1.15"/><circle cx="575.3" cy="190.7" r="1.15"/><circle cx="575.6" cy="199.2" r="1.15"/><circle cx="575.8" cy="200.6" r="1.15"/><circle cx="576.1" cy="198.6" r="1.15"/><circle cx="576.3" cy="182.3" r="1.15"/><circle cx="576.6" cy="188.3" r="1.15"/><circle cx="576.8" cy="192.7" r="1.15"/><circle cx="577.1" cy="197.3" r="1.15"/><circle cx="577.3" cy="192.2" r="1.15"/><circle cx="577.6" cy="194.9" r="1.15"/><circle cx="577.8" cy="197.3" r="1.15"/><circle cx="578.1" cy="202.1" r="1.15"/><circle cx="578.3" cy="207.0" r="1.15"/><circle cx="578.5" cy="196.1" r="1.15"/><circle cx="578.8" cy="199.2" r="1.15"/><circle cx="579.0" cy="206.1" r="1.15"/><circle cx="579.3" cy="190.7" r="1.15"/><circle cx="579.5" cy="194.3" r="1.15"/><circle cx="579.8" cy="207.9" r="1.15"/><circle cx="580.0" cy="193.2" r="1.15"/><circle cx="580.3" cy="206.1" r="1.15"/><circle cx="580.5" cy="202.1" r="1.15"/><circle cx="580.8" cy="201.3" r="1.15"/><circle cx="581.0" cy="198.6" r="1.15"/><circle cx="581.3" cy="194.3" r="1.15"/><circle cx="581.5" cy="194.3" r="1.15"/><circle cx="581.7" cy="204.4" r="1.15"/><circle cx="582.0" cy="194.9" r="1.15"/><circle cx="582.2" cy="197.9" r="1.15"/><circle cx="582.5" cy="207.0" r="1.15"/><circle cx="582.7" cy="199.9" r="1.15"/><circle cx="583.0" cy="202.1" r="1.15"/><circle cx="583.2" cy="209.8" r="1.15"/><circle cx="583.5" cy="205.3" r="1.15"/><circle cx="583.7" cy="203.6" r="1.15"/><circle cx="584.0" cy="201.3" r="1.15"/><circle cx="584.2" cy="201.3" r="1.15"/><circle cx="584.5" cy="197.9" r="1.15"/><circle cx="584.7" cy="199.9" r="1.15"/><circle cx="584.9" cy="197.9" r="1.15"/><circle cx="585.2" cy="215.3" r="1.15"/><circle cx="585.4" cy="192.2" r="1.15"/><circle cx="585.7" cy="199.2" r="1.15"/><circle cx="585.9" cy="205.3" r="1.15"/><circle cx="586.2" cy="213.0" r="1.15"/><circle cx="586.4" cy="194.9" r="1.15"/><circle cx="586.7" cy="194.9" r="1.15"/><circle cx="586.9" cy="202.1" r="1.15"/><circle cx="587.2" cy="207.9" r="1.15"/><circle cx="587.4" cy="197.9" r="1.15"/><circle cx="587.6" cy="202.8" r="1.15"/><circle cx="587.9" cy="196.1" r="1.15"/><circle cx="588.1" cy="210.8" r="1.15"/><circle cx="588.4" cy="200.6" r="1.15"/><circle cx="588.6" cy="216.6" r="1.15"/><circle cx="588.9" cy="196.1" r="1.15"/><circle cx="589.1" cy="207.9" r="1.15"/><circle cx="589.4" cy="204.4" r="1.15"/><circle cx="589.6" cy="196.1" r="1.15"/><circle cx="589.9" cy="207.0" r="1.15"/><circle cx="590.1" cy="198.6" r="1.15"/><circle cx="590.4" cy="210.8" r="1.15"/><circle cx="590.6" cy="205.3" r="1.15"/><circle cx="590.8" cy="207.9" r="1.15"/><circle cx="591.1" cy="202.8" r="1.15"/><circle cx="591.3" cy="208.8" r="1.15"/><circle cx="591.6" cy="201.3" r="1.15"/><circle cx="591.8" cy="222.3" r="1.15"/><circle cx="592.1" cy="205.3" r="1.15"/><circle cx="592.3" cy="207.9" r="1.15"/><circle cx="592.6" cy="207.0" r="1.15"/><circle cx="592.8" cy="213.0" r="1.15"/><circle cx="593.1" cy="214.1" r="1.15"/><circle cx="593.3" cy="207.0" r="1.15"/><circle cx="593.6" cy="216.6" r="1.15"/><circle cx="593.8" cy="208.8" r="1.15"/><circle cx="594.0" cy="220.7" r="1.15"/><circle cx="594.3" cy="207.9" r="1.15"/><circle cx="594.5" cy="201.3" r="1.15"/><circle cx="594.8" cy="204.4" r="1.15"/><circle cx="595.0" cy="208.8" r="1.15"/><circle cx="595.3" cy="231.7" r="1.15"/><circle cx="595.5" cy="209.8" r="1.15"/><circle cx="595.8" cy="211.9" r="1.15"/><circle cx="596.0" cy="207.0" r="1.15"/><circle cx="596.3" cy="208.8" r="1.15"/><circle cx="596.5" cy="215.3" r="1.15"/><circle cx="596.8" cy="211.9" r="1.15"/><circle cx="597.0" cy="207.0" r="1.15"/><circle cx="597.2" cy="201.3" r="1.15"/><circle cx="597.5" cy="201.3" r="1.15"/><circle cx="597.7" cy="219.3" r="1.15"/><circle cx="598.0" cy="211.9" r="1.15"/><circle cx="598.2" cy="207.9" r="1.15"/><circle cx="598.5" cy="216.6" r="1.15"/><circle cx="598.7" cy="234.0" r="1.15"/><circle cx="599.0" cy="219.3" r="1.15"/><circle cx="599.2" cy="200.6" r="1.15"/><circle cx="599.5" cy="207.0" r="1.15"/><circle cx="599.7" cy="217.9" r="1.15"/><circle cx="599.9" cy="208.8" r="1.15"/><circle cx="600.2" cy="239.4" r="1.15"/><circle cx="600.4" cy="210.8" r="1.15"/><circle cx="600.7" cy="206.1" r="1.15"/><circle cx="600.9" cy="215.3" r="1.15"/><circle cx="601.2" cy="207.0" r="1.15"/><circle cx="601.4" cy="198.6" r="1.15"/><circle cx="601.7" cy="213.0" r="1.15"/><circle cx="601.9" cy="215.3" r="1.15"/><circle cx="602.2" cy="223.9" r="1.15"/><circle cx="602.4" cy="223.9" r="1.15"/><circle cx="602.7" cy="236.6" r="1.15"/><circle cx="602.9" cy="198.6" r="1.15"/><circle cx="603.1" cy="215.3" r="1.15"/><circle cx="603.4" cy="227.5" r="1.15"/><circle cx="603.6" cy="223.9" r="1.15"/><circle cx="603.9" cy="214.1" r="1.15"/><circle cx="604.1" cy="216.6" r="1.15"/><circle cx="604.4" cy="220.7" r="1.15"/><circle cx="604.6" cy="211.9" r="1.15"/><circle cx="604.9" cy="219.3" r="1.15"/><circle cx="605.1" cy="210.8" r="1.15"/><circle cx="605.4" cy="225.7" r="1.15"/><circle cx="605.6" cy="219.3" r="1.15"/><circle cx="605.9" cy="206.1" r="1.15"/><circle cx="606.1" cy="225.7" r="1.15"/><circle cx="606.3" cy="227.5" r="1.15"/><circle cx="606.6" cy="222.3" r="1.15"/><circle cx="606.8" cy="201.3" r="1.15"/><circle cx="607.1" cy="220.7" r="1.15"/><circle cx="607.3" cy="217.9" r="1.15"/><circle cx="607.6" cy="220.7" r="1.15"/><circle cx="607.8" cy="219.3" r="1.15"/><circle cx="608.1" cy="219.3" r="1.15"/><circle cx="608.3" cy="206.1" r="1.15"/><circle cx="608.6" cy="225.7" r="1.15"/><circle cx="608.8" cy="234.0" r="1.15"/><circle cx="609.1" cy="204.4" r="1.15"/><circle cx="609.3" cy="219.3" r="1.15"/><circle cx="609.5" cy="227.5" r="1.15"/><circle cx="609.8" cy="207.0" r="1.15"/><circle cx="610.0" cy="215.3" r="1.15"/><circle cx="610.3" cy="220.7" r="1.15"/><circle cx="610.5" cy="219.3" r="1.15"/><circle cx="610.8" cy="213.0" r="1.15"/><circle cx="611.0" cy="220.7" r="1.15"/><circle cx="611.3" cy="225.7" r="1.15"/><circle cx="611.5" cy="219.3" r="1.15"/><circle cx="611.8" cy="222.3" r="1.15"/><circle cx="612.0" cy="213.0" r="1.15"/><circle cx="612.2" cy="205.3" r="1.15"/><circle cx="612.5" cy="217.9" r="1.15"/><circle cx="612.7" cy="211.9" r="1.15"/><circle cx="613.0" cy="219.3" r="1.15"/><circle cx="613.2" cy="217.9" r="1.15"/><circle cx="613.5" cy="239.4" r="1.15"/><circle cx="613.7" cy="217.9" r="1.15"/><circle cx="614.0" cy="213.0" r="1.15"/><circle cx="614.2" cy="211.9" r="1.15"/><circle cx="614.5" cy="202.8" r="1.15"/><circle cx="614.7" cy="213.0" r="1.15"/><circle cx="615.0" cy="223.9" r="1.15"/><circle cx="615.2" cy="231.7" r="1.15"/><circle cx="615.4" cy="216.6" r="1.15"/><circle cx="615.7" cy="209.8" r="1.15"/><circle cx="615.9" cy="227.5" r="1.15"/><circle cx="616.2" cy="223.9" r="1.15"/><circle cx="616.4" cy="250.3" r="1.15"/><circle cx="616.7" cy="225.7" r="1.15"/><circle cx="616.9" cy="236.6" r="1.15"/><circle cx="617.2" cy="229.5" r="1.15"/><circle cx="617.4" cy="216.6" r="1.15"/><circle cx="617.7" cy="210.8" r="1.15"/><circle cx="617.9" cy="214.1" r="1.15"/><circle cx="618.2" cy="222.3" r="1.15"/><circle cx="618.4" cy="222.3" r="1.15"/><circle cx="618.6" cy="229.5" r="1.15"/><circle cx="618.9" cy="217.9" r="1.15"/><circle cx="619.1" cy="220.7" r="1.15"/><circle cx="619.4" cy="234.0" r="1.15"/><circle cx="619.6" cy="207.0" r="1.15"/><circle cx="619.9" cy="211.9" r="1.15"/><circle cx="620.1" cy="231.7" r="1.15"/><circle cx="620.4" cy="219.3" r="1.15"/><circle cx="620.6" cy="207.9" r="1.15"/><circle cx="620.9" cy="229.5" r="1.15"/><circle cx="621.1" cy="202.8" r="1.15"/><circle cx="621.4" cy="227.5" r="1.15"/><circle cx="621.6" cy="210.8" r="1.15"/><circle cx="621.8" cy="217.9" r="1.15"/><circle cx="622.1" cy="220.7" r="1.15"/><circle cx="622.3" cy="231.7" r="1.15"/><circle cx="622.6" cy="222.3" r="1.15"/><circle cx="622.8" cy="242.6" r="1.15"/><circle cx="623.1" cy="222.3" r="1.15"/><circle cx="623.3" cy="229.5" r="1.15"/><circle cx="623.6" cy="220.7" r="1.15"/><circle cx="623.8" cy="213.0" r="1.15"/><circle cx="624.1" cy="222.3" r="1.15"/><circle cx="624.3" cy="219.3" r="1.15"/><circle cx="624.5" cy="214.1" r="1.15"/><circle cx="624.8" cy="220.7" r="1.15"/><circle cx="625.0" cy="222.3" r="1.15"/><circle cx="625.3" cy="231.7" r="1.15"/><circle cx="625.5" cy="227.5" r="1.15"/><circle cx="625.8" cy="234.0" r="1.15"/><circle cx="626.0" cy="229.5" r="1.15"/><circle cx="626.3" cy="216.6" r="1.15"/><circle cx="626.5" cy="219.3" r="1.15"/><circle cx="626.8" cy="217.9" r="1.15"/><circle cx="627.0" cy="225.7" r="1.15"/><circle cx="627.3" cy="217.9" r="1.15"/><circle cx="627.5" cy="229.5" r="1.15"/><circle cx="627.7" cy="219.3" r="1.15"/><circle cx="628.0" cy="225.7" r="1.15"/><circle cx="628.2" cy="217.9" r="1.15"/><circle cx="628.5" cy="216.6" r="1.15"/><circle cx="628.7" cy="225.7" r="1.15"/><circle cx="629.0" cy="205.3" r="1.15"/><circle cx="629.2" cy="223.9" r="1.15"/><circle cx="629.5" cy="214.1" r="1.15"/><circle cx="629.7" cy="222.3" r="1.15"/><circle cx="630.0" cy="209.8" r="1.15"/><circle cx="630.2" cy="210.8" r="1.15"/><circle cx="630.5" cy="215.3" r="1.15"/><circle cx="630.7" cy="229.5" r="1.15"/><circle cx="630.9" cy="220.7" r="1.15"/><circle cx="631.2" cy="207.0" r="1.15"/><circle cx="631.4" cy="225.7" r="1.15"/><circle cx="631.7" cy="236.6" r="1.15"/><circle cx="631.9" cy="234.0" r="1.15"/><circle cx="632.2" cy="225.7" r="1.15"/><circle cx="632.4" cy="222.3" r="1.15"/><circle cx="632.7" cy="225.7" r="1.15"/><circle cx="632.9" cy="223.9" r="1.15"/><circle cx="633.2" cy="227.5" r="1.15"/><circle cx="633.4" cy="217.9" r="1.15"/><circle cx="633.7" cy="223.9" r="1.15"/><circle cx="633.9" cy="214.1" r="1.15"/><circle cx="634.1" cy="227.5" r="1.15"/><circle cx="634.4" cy="223.9" r="1.15"/><circle cx="634.6" cy="231.7" r="1.15"/><circle cx="634.9" cy="234.0" r="1.15"/><circle cx="635.1" cy="213.0" r="1.15"/><circle cx="635.4" cy="220.7" r="1.15"/><circle cx="635.6" cy="231.7" r="1.15"/><circle cx="635.9" cy="236.6" r="1.15"/><circle cx="636.1" cy="236.6" r="1.15"/><circle cx="636.4" cy="225.7" r="1.15"/><circle cx="636.6" cy="234.0" r="1.15"/><circle cx="636.8" cy="213.0" r="1.15"/><circle cx="637.1" cy="214.1" r="1.15"/><circle cx="637.3" cy="219.3" r="1.15"/><circle cx="637.6" cy="225.7" r="1.15"/><circle cx="637.8" cy="246.2" r="1.15"/><circle cx="638.1" cy="210.8" r="1.15"/><circle cx="638.3" cy="217.9" r="1.15"/><circle cx="638.6" cy="231.7" r="1.15"/><circle cx="638.8" cy="231.7" r="1.15"/><circle cx="639.1" cy="229.5" r="1.15"/><circle cx="639.3" cy="213.0" r="1.15"/><circle cx="639.6" cy="242.6" r="1.15"/><circle cx="639.8" cy="213.0" r="1.15"/><circle cx="640.0" cy="227.5" r="1.15"/><circle cx="640.3" cy="217.9" r="1.15"/><circle cx="640.5" cy="231.7" r="1.15"/><circle cx="640.8" cy="229.5" r="1.15"/><circle cx="641.0" cy="217.9" r="1.15"/><circle cx="641.3" cy="215.3" r="1.15"/><circle cx="641.5" cy="219.3" r="1.15"/><circle cx="641.8" cy="217.9" r="1.15"/><circle cx="642.0" cy="220.7" r="1.15"/><circle cx="642.3" cy="234.0" r="1.15"/><circle cx="642.5" cy="242.6" r="1.15"/><circle cx="642.8" cy="227.5" r="1.15"/><circle cx="643.0" cy="216.6" r="1.15"/><circle cx="643.2" cy="229.5" r="1.15"/><circle cx="643.5" cy="220.7" r="1.15"/><circle cx="643.7" cy="222.3" r="1.15"/><circle cx="644.0" cy="222.3" r="1.15"/><circle cx="644.2" cy="236.6" r="1.15"/><circle cx="644.5" cy="225.7" r="1.15"/><circle cx="644.7" cy="242.6" r="1.15"/><circle cx="645.0" cy="222.3" r="1.15"/><circle cx="645.2" cy="227.5" r="1.15"/><circle cx="645.5" cy="246.2" r="1.15"/><circle cx="645.7" cy="227.5" r="1.15"/><circle cx="646.0" cy="223.9" r="1.15"/><circle cx="646.2" cy="207.9" r="1.15"/><circle cx="646.4" cy="227.5" r="1.15"/><circle cx="646.7" cy="217.9" r="1.15"/><circle cx="646.9" cy="220.7" r="1.15"/><circle cx="647.2" cy="250.3" r="1.15"/><circle cx="647.4" cy="242.6" r="1.15"/><circle cx="647.7" cy="222.3" r="1.15"/><circle cx="647.9" cy="229.5" r="1.15"/><circle cx="648.2" cy="204.4" r="1.15"/><circle cx="648.4" cy="217.9" r="1.15"/><circle cx="648.7" cy="234.0" r="1.15"/><circle cx="648.9" cy="227.5" r="1.15"/><circle cx="649.1" cy="220.7" r="1.15"/><circle cx="649.4" cy="219.3" r="1.15"/><circle cx="649.6" cy="223.9" r="1.15"/><circle cx="649.9" cy="227.5" r="1.15"/><circle cx="650.1" cy="242.6" r="1.15"/><circle cx="650.4" cy="225.7" r="1.15"/><circle cx="650.6" cy="215.3" r="1.15"/><circle cx="650.9" cy="211.9" r="1.15"/><circle cx="651.1" cy="222.3" r="1.15"/><circle cx="651.4" cy="214.1" r="1.15"/><circle cx="651.6" cy="220.7" r="1.15"/><circle cx="651.9" cy="219.3" r="1.15"/><circle cx="652.1" cy="206.1" r="1.15"/><circle cx="652.3" cy="211.9" r="1.15"/><circle cx="652.6" cy="231.7" r="1.15"/><circle cx="652.8" cy="219.3" r="1.15"/><circle cx="653.1" cy="215.3" r="1.15"/><circle cx="653.3" cy="214.1" r="1.15"/><circle cx="653.6" cy="225.7" r="1.15"/><circle cx="653.8" cy="227.5" r="1.15"/><circle cx="654.1" cy="225.7" r="1.15"/><circle cx="654.3" cy="220.7" r="1.15"/><circle cx="654.6" cy="227.5" r="1.15"/><circle cx="654.8" cy="222.3" r="1.15"/><circle cx="655.1" cy="223.9" r="1.15"/><circle cx="655.3" cy="236.6" r="1.15"/><circle cx="655.5" cy="220.7" r="1.15"/><circle cx="655.8" cy="219.3" r="1.15"/><circle cx="656.0" cy="220.7" r="1.15"/><circle cx="656.3" cy="227.5" r="1.15"/><circle cx="656.5" cy="214.1" r="1.15"/><circle cx="656.8" cy="208.8" r="1.15"/><circle cx="657.0" cy="217.9" r="1.15"/><circle cx="657.3" cy="234.0" r="1.15"/><circle cx="657.5" cy="219.3" r="1.15"/><circle cx="657.8" cy="219.3" r="1.15"/><circle cx="658.0" cy="211.9" r="1.15"/><circle cx="658.3" cy="242.6" r="1.15"/><circle cx="658.5" cy="220.7" r="1.15"/><circle cx="658.7" cy="227.5" r="1.15"/><circle cx="659.0" cy="223.9" r="1.15"/><circle cx="659.2" cy="220.7" r="1.15"/><circle cx="659.5" cy="219.3" r="1.15"/><circle cx="659.7" cy="219.3" r="1.15"/><circle cx="660.0" cy="229.5" r="1.15"/><circle cx="660.2" cy="227.5" r="1.15"/><circle cx="660.5" cy="220.7" r="1.15"/><circle cx="660.7" cy="229.5" r="1.15"/><circle cx="661.0" cy="229.5" r="1.15"/><circle cx="661.2" cy="220.7" r="1.15"/><circle cx="661.4" cy="229.5" r="1.15"/><circle cx="661.7" cy="217.9" r="1.15"/><circle cx="661.9" cy="236.6" r="1.15"/><circle cx="662.2" cy="217.9" r="1.15"/><circle cx="662.4" cy="223.9" r="1.15"/><circle cx="662.7" cy="227.5" r="1.15"/><circle cx="662.9" cy="220.7" r="1.15"/><circle cx="663.2" cy="215.3" r="1.15"/><circle cx="663.4" cy="234.0" r="1.15"/><circle cx="663.7" cy="234.0" r="1.15"/><circle cx="663.9" cy="222.3" r="1.15"/><circle cx="664.2" cy="223.9" r="1.15"/><circle cx="664.4" cy="246.2" r="1.15"/><circle cx="664.6" cy="227.5" r="1.15"/><circle cx="664.9" cy="215.3" r="1.15"/><circle cx="665.1" cy="231.7" r="1.15"/><circle cx="665.4" cy="246.2" r="1.15"/><circle cx="665.6" cy="219.3" r="1.15"/><circle cx="665.9" cy="210.8" r="1.15"/><circle cx="666.1" cy="234.0" r="1.15"/><circle cx="666.4" cy="234.0" r="1.15"/><circle cx="666.6" cy="220.7" r="1.15"/><circle cx="666.9" cy="225.7" r="1.15"/><circle cx="667.1" cy="220.7" r="1.15"/><circle cx="667.4" cy="239.4" r="1.15"/><circle cx="667.6" cy="231.7" r="1.15"/><circle cx="667.8" cy="208.8" r="1.15"/><circle cx="668.1" cy="236.6" r="1.15"/><circle cx="668.3" cy="217.9" r="1.15"/><circle cx="668.6" cy="217.9" r="1.15"/><circle cx="668.8" cy="222.3" r="1.15"/><circle cx="669.1" cy="236.6" r="1.15"/><circle cx="669.3" cy="236.6" r="1.15"/><circle cx="669.6" cy="219.3" r="1.15"/><circle cx="669.8" cy="229.5" r="1.15"/><circle cx="670.1" cy="214.1" r="1.15"/><circle cx="670.3" cy="211.9" r="1.15"/><circle cx="670.6" cy="225.7" r="1.15"/><circle cx="670.8" cy="215.3" r="1.15"/><circle cx="671.0" cy="231.7" r="1.15"/><circle cx="671.3" cy="229.5" r="1.15"/><circle cx="671.5" cy="219.3" r="1.15"/><circle cx="671.8" cy="242.6" r="1.15"/><circle cx="672.0" cy="236.6" r="1.15"/><circle cx="672.3" cy="236.6" r="1.15"/><circle cx="672.5" cy="216.6" r="1.15"/><circle cx="672.8" cy="236.6" r="1.15"/><circle cx="673.0" cy="231.7" r="1.15"/><circle cx="673.3" cy="219.3" r="1.15"/><circle cx="673.5" cy="229.5" r="1.15"/><circle cx="673.7" cy="215.3" r="1.15"/><circle cx="674.0" cy="222.3" r="1.15"/><circle cx="674.2" cy="239.4" r="1.15"/><circle cx="674.5" cy="220.7" r="1.15"/><circle cx="674.7" cy="214.1" r="1.15"/><circle cx="675.0" cy="223.9" r="1.15"/><circle cx="675.2" cy="229.5" r="1.15"/><circle cx="675.5" cy="231.7" r="1.15"/><circle cx="675.7" cy="242.6" r="1.15"/><circle cx="676.0" cy="231.7" r="1.15"/><circle cx="676.2" cy="220.7" r="1.15"/><circle cx="676.5" cy="227.5" r="1.15"/></g><g fill="none" stroke="#e5407a" stroke-width="0.9"><circle cx="406.1" cy="227.1" r="1.15"/><circle cx="406.3" cy="231.3" r="1.15"/><circle cx="406.6" cy="242.2" r="1.15"/><circle cx="406.8" cy="242.2" r="1.15"/><circle cx="407.1" cy="220.3" r="1.15"/><circle cx="407.3" cy="239.0" r="1.15"/><circle cx="407.6" cy="239.0" r="1.15"/><circle cx="407.8" cy="239.0" r="1.15"/><circle cx="408.1" cy="208.4" r="1.15"/><circle cx="408.3" cy="223.5" r="1.15"/><circle cx="408.6" cy="225.3" r="1.15"/><circle cx="408.8" cy="233.6" r="1.15"/><circle cx="409.1" cy="220.3" r="1.15"/><circle cx="409.3" cy="245.8" r="1.15"/><circle cx="409.5" cy="233.6" r="1.15"/><circle cx="409.8" cy="216.2" r="1.15"/><circle cx="410.0" cy="236.2" r="1.15"/><circle cx="410.3" cy="227.1" r="1.15"/><circle cx="410.5" cy="239.0" r="1.15"/><circle cx="410.8" cy="218.9" r="1.15"/><circle cx="411.0" cy="233.6" r="1.15"/><circle cx="411.3" cy="233.6" r="1.15"/><circle cx="411.5" cy="229.1" r="1.15"/><circle cx="411.8" cy="220.3" r="1.15"/><circle cx="412.0" cy="223.5" r="1.15"/><circle cx="412.3" cy="233.6" r="1.15"/><circle cx="412.5" cy="242.2" r="1.15"/><circle cx="412.7" cy="229.1" r="1.15"/><circle cx="413.0" cy="223.5" r="1.15"/><circle cx="413.2" cy="214.9" r="1.15"/><circle cx="413.5" cy="229.1" r="1.15"/><circle cx="413.7" cy="225.3" r="1.15"/><circle cx="414.0" cy="236.2" r="1.15"/><circle cx="414.2" cy="245.8" r="1.15"/><circle cx="414.5" cy="223.5" r="1.15"/><circle cx="414.7" cy="217.5" r="1.15"/><circle cx="415.0" cy="220.3" r="1.15"/><circle cx="415.2" cy="236.2" r="1.15"/><circle cx="415.4" cy="233.6" r="1.15"/><circle cx="415.7" cy="227.1" r="1.15"/><circle cx="415.9" cy="242.2" r="1.15"/><circle cx="416.2" cy="225.3" r="1.15"/><circle cx="416.4" cy="229.1" r="1.15"/><circle cx="416.7" cy="225.3" r="1.15"/><circle cx="416.9" cy="227.1" r="1.15"/><circle cx="417.2" cy="220.3" r="1.15"/><circle cx="417.4" cy="213.7" r="1.15"/><circle cx="417.7" cy="218.9" r="1.15"/><circle cx="417.9" cy="213.7" r="1.15"/><circle cx="418.2" cy="213.7" r="1.15"/><circle cx="418.4" cy="229.1" r="1.15"/><circle cx="418.6" cy="231.3" r="1.15"/><circle cx="418.9" cy="233.6" r="1.15"/><circle cx="419.1" cy="231.3" r="1.15"/><circle cx="419.4" cy="216.2" r="1.15"/><circle cx="419.6" cy="236.2" r="1.15"/><circle cx="419.9" cy="236.2" r="1.15"/><circle cx="420.1" cy="229.1" r="1.15"/><circle cx="420.4" cy="227.1" r="1.15"/><circle cx="420.6" cy="225.3" r="1.15"/><circle cx="420.9" cy="227.1" r="1.15"/><circle cx="421.1" cy="249.9" r="1.15"/><circle cx="421.4" cy="210.4" r="1.15"/><circle cx="421.6" cy="221.9" r="1.15"/><circle cx="421.8" cy="229.1" r="1.15"/><circle cx="422.1" cy="223.5" r="1.15"/><circle cx="422.3" cy="225.3" r="1.15"/><circle cx="422.6" cy="229.1" r="1.15"/><circle cx="422.8" cy="231.3" r="1.15"/><circle cx="423.1" cy="231.3" r="1.15"/><circle cx="423.3" cy="229.1" r="1.15"/><circle cx="423.6" cy="209.4" r="1.15"/><circle cx="423.8" cy="242.2" r="1.15"/><circle cx="424.1" cy="227.1" r="1.15"/><circle cx="424.3" cy="223.5" r="1.15"/><circle cx="424.6" cy="249.9" r="1.15"/><circle cx="424.8" cy="231.3" r="1.15"/><circle cx="425.0" cy="223.5" r="1.15"/><circle cx="425.3" cy="227.1" r="1.15"/><circle cx="425.5" cy="239.0" r="1.15"/><circle cx="425.8" cy="239.0" r="1.15"/><circle cx="426.0" cy="213.7" r="1.15"/><circle cx="426.3" cy="227.1" r="1.15"/><circle cx="426.5" cy="220.3" r="1.15"/><circle cx="426.8" cy="225.3" r="1.15"/><circle cx="427.0" cy="225.3" r="1.15"/><circle cx="427.3" cy="229.1" r="1.15"/><circle cx="427.5" cy="214.9" r="1.15"/><circle cx="427.7" cy="231.3" r="1.15"/><circle cx="428.0" cy="254.8" r="1.15"/><circle cx="428.2" cy="220.3" r="1.15"/><circle cx="428.5" cy="223.5" r="1.15"/><circle cx="428.7" cy="220.3" r="1.15"/><circle cx="429.0" cy="211.5" r="1.15"/><circle cx="429.2" cy="233.6" r="1.15"/><circle cx="429.5" cy="249.9" r="1.15"/><circle cx="429.7" cy="223.5" r="1.15"/><circle cx="430.0" cy="229.1" r="1.15"/><circle cx="430.2" cy="227.1" r="1.15"/><circle cx="430.5" cy="239.0" r="1.15"/><circle cx="430.7" cy="231.3" r="1.15"/><circle cx="430.9" cy="239.0" r="1.15"/><circle cx="431.2" cy="218.9" r="1.15"/><circle cx="431.4" cy="210.4" r="1.15"/><circle cx="431.7" cy="218.9" r="1.15"/><circle cx="431.9" cy="223.5" r="1.15"/><circle cx="432.2" cy="225.3" r="1.15"/><circle cx="432.4" cy="225.3" r="1.15"/><circle cx="432.7" cy="220.3" r="1.15"/><circle cx="432.9" cy="223.5" r="1.15"/><circle cx="433.2" cy="227.1" r="1.15"/><circle cx="433.4" cy="225.3" r="1.15"/><circle cx="433.7" cy="216.2" r="1.15"/><circle cx="433.9" cy="209.4" r="1.15"/><circle cx="434.1" cy="214.9" r="1.15"/><circle cx="434.4" cy="225.3" r="1.15"/><circle cx="434.6" cy="200.2" r="1.15"/><circle cx="434.9" cy="204.8" r="1.15"/><circle cx="435.1" cy="206.6" r="1.15"/><circle cx="435.4" cy="196.3" r="1.15"/><circle cx="435.6" cy="196.9" r="1.15"/><circle cx="435.9" cy="203.2" r="1.15"/><circle cx="436.1" cy="202.4" r="1.15"/><circle cx="436.4" cy="197.5" r="1.15"/><circle cx="436.6" cy="202.4" r="1.15"/><circle cx="436.9" cy="191.8" r="1.15"/><circle cx="437.1" cy="204.0" r="1.15"/><circle cx="437.3" cy="190.8" r="1.15"/><circle cx="437.6" cy="188.8" r="1.15"/><circle cx="437.8" cy="184.6" r="1.15"/><circle cx="438.1" cy="185.0" r="1.15"/><circle cx="438.3" cy="176.7" r="1.15"/><circle cx="438.6" cy="183.8" r="1.15"/><circle cx="438.8" cy="173.9" r="1.15"/><circle cx="439.1" cy="169.7" r="1.15"/><circle cx="439.3" cy="159.6" r="1.15"/><circle cx="439.6" cy="157.3" r="1.15"/><circle cx="439.8" cy="150.2" r="1.15"/><circle cx="440.0" cy="146.6" r="1.15"/><circle cx="440.3" cy="139.9" r="1.15"/><circle cx="440.5" cy="135.1" r="1.15"/><circle cx="440.8" cy="132.4" r="1.15"/><circle cx="441.0" cy="125.9" r="1.15"/><circle cx="441.3" cy="123.9" r="1.15"/><circle cx="441.5" cy="116.7" r="1.15"/><circle cx="441.8" cy="113.6" r="1.15"/><circle cx="442.0" cy="108.4" r="1.15"/><circle cx="442.3" cy="105.8" r="1.15"/><circle cx="442.5" cy="100.8" r="1.15"/><circle cx="442.8" cy="97.3" r="1.15"/><circle cx="443.0" cy="94.1" r="1.15"/><circle cx="443.2" cy="89.3" r="1.15"/><circle cx="443.5" cy="87.1" r="1.15"/><circle cx="443.7" cy="83.0" r="1.15"/><circle cx="444.0" cy="79.3" r="1.15"/><circle cx="444.2" cy="76.9" r="1.15"/><circle cx="444.5" cy="73.8" r="1.15"/><circle cx="444.7" cy="70.0" r="1.15"/><circle cx="445.0" cy="68.3" r="1.15"/><circle cx="445.2" cy="64.1" r="1.15"/><circle cx="445.5" cy="60.3" r="1.15"/><circle cx="445.7" cy="59.7" r="1.15"/><circle cx="446.0" cy="57.1" r="1.15"/><circle cx="446.2" cy="52.1" r="1.15"/><circle cx="446.4" cy="50.9" r="1.15"/><circle cx="446.7" cy="48.3" r="1.15"/><circle cx="446.9" cy="46.8" r="1.15"/><circle cx="447.2" cy="44.9" r="1.15"/><circle cx="447.4" cy="42.3" r="1.15"/><circle cx="447.7" cy="40.9" r="1.15"/><circle cx="447.9" cy="40.0" r="1.15"/><circle cx="448.2" cy="39.2" r="1.15"/><circle cx="448.4" cy="37.9" r="1.15"/><circle cx="448.7" cy="36.0" r="1.15"/><circle cx="448.9" cy="33.1" r="1.15"/><circle cx="449.2" cy="30.5" r="1.15"/><circle cx="449.4" cy="29.7" r="1.15"/><circle cx="449.6" cy="28.3" r="1.15"/><circle cx="449.9" cy="28.3" r="1.15"/><circle cx="450.1" cy="27.7" r="1.15"/><circle cx="450.4" cy="27.2" r="1.15"/><circle cx="450.6" cy="24.6" r="1.15"/><circle cx="450.9" cy="25.8" r="1.15"/><circle cx="451.1" cy="23.4" r="1.15"/><circle cx="451.4" cy="23.9" r="1.15"/><circle cx="451.6" cy="22.1" r="1.15"/><circle cx="451.9" cy="21.5" r="1.15"/><circle cx="452.1" cy="20.3" r="1.15"/><circle cx="452.3" cy="19.7" r="1.15"/><circle cx="452.6" cy="21.4" r="1.15"/><circle cx="452.8" cy="21.8" r="1.15"/><circle cx="453.1" cy="21.4" r="1.15"/><circle cx="453.3" cy="21.6" r="1.15"/><circle cx="453.6" cy="20.8" r="1.15"/><circle cx="453.8" cy="21.6" r="1.15"/><circle cx="454.1" cy="21.4" r="1.15"/><circle cx="454.3" cy="21.3" r="1.15"/><circle cx="454.6" cy="22.5" r="1.15"/><circle cx="454.8" cy="21.3" r="1.15"/><circle cx="455.1" cy="23.8" r="1.15"/><circle cx="455.3" cy="22.2" r="1.15"/><circle cx="455.5" cy="22.2" r="1.15"/><circle cx="455.8" cy="23.8" r="1.15"/><circle cx="456.0" cy="24.2" r="1.15"/><circle cx="456.3" cy="23.4" r="1.15"/><circle cx="456.5" cy="24.6" r="1.15"/><circle cx="456.8" cy="26.4" r="1.15"/><circle cx="457.0" cy="25.9" r="1.15"/><circle cx="457.3" cy="24.9" r="1.15"/><circle cx="457.5" cy="26.5" r="1.15"/><circle cx="457.8" cy="25.6" r="1.15"/><circle cx="458.0" cy="25.9" r="1.15"/><circle cx="458.3" cy="27.7" r="1.15"/><circle cx="458.5" cy="28.9" r="1.15"/><circle cx="458.7" cy="32.6" r="1.15"/><circle cx="459.0" cy="34.6" r="1.15"/><circle cx="459.2" cy="38.4" r="1.15"/><circle cx="459.5" cy="39.5" r="1.15"/><circle cx="459.7" cy="43.4" r="1.15"/><circle cx="460.0" cy="45.4" r="1.15"/><circle cx="460.2" cy="47.2" r="1.15"/><circle cx="460.5" cy="50.0" r="1.15"/><circle cx="460.7" cy="54.9" r="1.15"/><circle cx="461.0" cy="57.0" r="1.15"/><circle cx="461.2" cy="58.7" r="1.15"/><circle cx="461.5" cy="61.3" r="1.15"/><circle cx="461.7" cy="62.8" r="1.15"/><circle cx="461.9" cy="65.3" r="1.15"/><circle cx="462.2" cy="66.2" r="1.15"/><circle cx="462.4" cy="70.3" r="1.15"/><circle cx="462.7" cy="72.1" r="1.15"/><circle cx="462.9" cy="76.3" r="1.15"/><circle cx="463.2" cy="77.8" r="1.15"/><circle cx="463.4" cy="80.0" r="1.15"/><circle cx="463.7" cy="81.8" r="1.15"/><circle cx="463.9" cy="83.8" r="1.15"/><circle cx="464.2" cy="84.7" r="1.15"/><circle cx="464.4" cy="85.8" r="1.15"/><circle cx="464.6" cy="88.5" r="1.15"/><circle cx="464.9" cy="90.5" r="1.15"/><circle cx="465.1" cy="90.7" r="1.15"/><circle cx="465.4" cy="91.0" r="1.15"/><circle cx="465.6" cy="93.4" r="1.15"/><circle cx="465.9" cy="93.2" r="1.15"/><circle cx="466.1" cy="93.3" r="1.15"/><circle cx="466.4" cy="98.0" r="1.15"/><circle cx="466.6" cy="98.1" r="1.15"/><circle cx="466.9" cy="99.7" r="1.15"/><circle cx="467.1" cy="98.7" r="1.15"/><circle cx="467.4" cy="101.0" r="1.15"/><circle cx="467.6" cy="102.8" r="1.15"/><circle cx="467.8" cy="103.1" r="1.15"/><circle cx="468.1" cy="105.7" r="1.15"/><circle cx="468.3" cy="105.2" r="1.15"/><circle cx="468.6" cy="105.0" r="1.15"/><circle cx="468.8" cy="107.9" r="1.15"/><circle cx="469.1" cy="106.7" r="1.15"/><circle cx="469.3" cy="110.6" r="1.15"/><circle cx="469.6" cy="108.5" r="1.15"/><circle cx="469.8" cy="111.8" r="1.15"/><circle cx="470.1" cy="110.3" r="1.15"/><circle cx="470.3" cy="111.9" r="1.15"/><circle cx="470.6" cy="111.3" r="1.15"/><circle cx="470.8" cy="111.5" r="1.15"/><circle cx="471.0" cy="110.9" r="1.15"/><circle cx="471.3" cy="114.1" r="1.15"/><circle cx="471.5" cy="113.9" r="1.15"/><circle cx="471.8" cy="114.4" r="1.15"/><circle cx="472.0" cy="115.9" r="1.15"/><circle cx="472.3" cy="115.1" r="1.15"/><circle cx="472.5" cy="117.0" r="1.15"/><circle cx="472.8" cy="115.1" r="1.15"/><circle cx="473.0" cy="116.0" r="1.15"/><circle cx="473.3" cy="116.1" r="1.15"/><circle cx="473.5" cy="117.2" r="1.15"/><circle cx="473.8" cy="118.8" r="1.15"/><circle cx="474.0" cy="118.7" r="1.15"/><circle cx="474.2" cy="118.4" r="1.15"/><circle cx="474.5" cy="119.0" r="1.15"/><circle cx="474.7" cy="116.9" r="1.15"/><circle cx="475.0" cy="119.3" r="1.15"/><circle cx="475.2" cy="119.7" r="1.15"/><circle cx="475.5" cy="121.5" r="1.15"/><circle cx="475.7" cy="123.4" r="1.15"/><circle cx="476.0" cy="122.2" r="1.15"/><circle cx="476.2" cy="125.3" r="1.15"/><circle cx="476.5" cy="125.6" r="1.15"/><circle cx="476.7" cy="123.6" r="1.15"/><circle cx="476.9" cy="124.7" r="1.15"/><circle cx="477.2" cy="123.6" r="1.15"/><circle cx="477.4" cy="125.1" r="1.15"/><circle cx="477.7" cy="123.2" r="1.15"/><circle cx="477.9" cy="127.0" r="1.15"/><circle cx="478.2" cy="126.1" r="1.15"/><circle cx="478.4" cy="124.5" r="1.15"/><circle cx="478.7" cy="127.4" r="1.15"/><circle cx="478.9" cy="126.4" r="1.15"/><circle cx="479.2" cy="127.9" r="1.15"/><circle cx="479.4" cy="130.5" r="1.15"/><circle cx="479.7" cy="129.5" r="1.15"/><circle cx="479.9" cy="127.8" r="1.15"/><circle cx="480.1" cy="129.3" r="1.15"/><circle cx="480.4" cy="130.4" r="1.15"/><circle cx="480.6" cy="132.1" r="1.15"/><circle cx="480.9" cy="132.4" r="1.15"/><circle cx="481.1" cy="134.0" r="1.15"/><circle cx="481.4" cy="133.0" r="1.15"/><circle cx="481.6" cy="132.1" r="1.15"/><circle cx="481.9" cy="137.7" r="1.15"/><circle cx="482.1" cy="133.5" r="1.15"/><circle cx="482.4" cy="135.9" r="1.15"/><circle cx="482.6" cy="135.5" r="1.15"/><circle cx="482.9" cy="136.6" r="1.15"/><circle cx="483.1" cy="138.5" r="1.15"/><circle cx="483.3" cy="138.5" r="1.15"/><circle cx="483.6" cy="135.8" r="1.15"/><circle cx="483.8" cy="139.5" r="1.15"/><circle cx="484.1" cy="137.7" r="1.15"/><circle cx="484.3" cy="138.2" r="1.15"/><circle cx="484.6" cy="139.0" r="1.15"/><circle cx="484.8" cy="140.1" r="1.15"/><circle cx="485.1" cy="140.7" r="1.15"/><circle cx="485.3" cy="140.6" r="1.15"/><circle cx="485.6" cy="141.0" r="1.15"/><circle cx="485.8" cy="138.1" r="1.15"/><circle cx="486.1" cy="139.0" r="1.15"/><circle cx="486.3" cy="140.1" r="1.15"/><circle cx="486.5" cy="142.3" r="1.15"/><circle cx="486.8" cy="141.0" r="1.15"/><circle cx="487.0" cy="146.1" r="1.15"/><circle cx="487.3" cy="142.8" r="1.15"/><circle cx="487.5" cy="142.8" r="1.15"/><circle cx="487.8" cy="141.5" r="1.15"/><circle cx="488.0" cy="145.0" r="1.15"/><circle cx="488.3" cy="144.6" r="1.15"/><circle cx="488.5" cy="142.7" r="1.15"/><circle cx="488.8" cy="146.4" r="1.15"/><circle cx="489.0" cy="147.0" r="1.15"/><circle cx="489.2" cy="145.3" r="1.15"/><circle cx="489.5" cy="149.2" r="1.15"/><circle cx="489.7" cy="146.5" r="1.15"/><circle cx="490.0" cy="146.1" r="1.15"/><circle cx="490.2" cy="142.8" r="1.15"/><circle cx="490.5" cy="144.1" r="1.15"/><circle cx="490.7" cy="147.7" r="1.15"/><circle cx="491.0" cy="146.8" r="1.15"/><circle cx="491.2" cy="146.9" r="1.15"/><circle cx="491.5" cy="150.4" r="1.15"/><circle cx="491.7" cy="150.8" r="1.15"/><circle cx="492.0" cy="152.6" r="1.15"/><circle cx="492.2" cy="150.9" r="1.15"/><circle cx="492.4" cy="149.2" r="1.15"/><circle cx="492.7" cy="149.6" r="1.15"/><circle cx="492.9" cy="150.3" r="1.15"/><circle cx="493.2" cy="149.3" r="1.15"/><circle cx="493.4" cy="148.8" r="1.15"/><circle cx="493.7" cy="147.3" r="1.15"/><circle cx="493.9" cy="153.7" r="1.15"/><circle cx="494.2" cy="152.8" r="1.15"/><circle cx="494.4" cy="152.1" r="1.15"/><circle cx="494.7" cy="153.7" r="1.15"/><circle cx="494.9" cy="153.7" r="1.15"/><circle cx="495.2" cy="151.3" r="1.15"/><circle cx="495.4" cy="151.6" r="1.15"/><circle cx="495.6" cy="153.4" r="1.15"/><circle cx="495.9" cy="151.9" r="1.15"/><circle cx="496.1" cy="155.8" r="1.15"/><circle cx="496.4" cy="153.7" r="1.15"/><circle cx="496.6" cy="153.2" r="1.15"/><circle cx="496.9" cy="153.6" r="1.15"/><circle cx="497.1" cy="157.8" r="1.15"/><circle cx="497.4" cy="152.8" r="1.15"/><circle cx="497.6" cy="155.8" r="1.15"/><circle cx="497.9" cy="151.7" r="1.15"/><circle cx="498.1" cy="155.0" r="1.15"/><circle cx="498.4" cy="156.9" r="1.15"/><circle cx="498.6" cy="153.9" r="1.15"/><circle cx="498.8" cy="155.2" r="1.15"/><circle cx="499.1" cy="153.3" r="1.15"/><circle cx="499.3" cy="156.3" r="1.15"/><circle cx="499.6" cy="153.4" r="1.15"/><circle cx="499.8" cy="158.3" r="1.15"/><circle cx="500.1" cy="160.8" r="1.15"/><circle cx="500.3" cy="157.6" r="1.15"/><circle cx="500.6" cy="155.5" r="1.15"/><circle cx="500.8" cy="157.3" r="1.15"/><circle cx="501.1" cy="152.9" r="1.15"/><circle cx="501.3" cy="155.8" r="1.15"/><circle cx="501.5" cy="157.9" r="1.15"/><circle cx="501.8" cy="155.8" r="1.15"/><circle cx="502.0" cy="156.3" r="1.15"/><circle cx="502.3" cy="153.1" r="1.15"/><circle cx="502.5" cy="157.0" r="1.15"/><circle cx="502.8" cy="154.3" r="1.15"/><circle cx="503.0" cy="162.2" r="1.15"/><circle cx="503.3" cy="161.2" r="1.15"/><circle cx="503.5" cy="157.9" r="1.15"/><circle cx="503.8" cy="163.6" r="1.15"/><circle cx="504.0" cy="157.8" r="1.15"/><circle cx="504.3" cy="154.2" r="1.15"/><circle cx="504.5" cy="159.9" r="1.15"/><circle cx="504.7" cy="155.6" r="1.15"/><circle cx="505.0" cy="160.0" r="1.15"/><circle cx="505.2" cy="158.8" r="1.15"/><circle cx="505.5" cy="159.4" r="1.15"/><circle cx="505.7" cy="159.4" r="1.15"/><circle cx="506.0" cy="160.4" r="1.15"/><circle cx="506.2" cy="161.2" r="1.15"/><circle cx="506.5" cy="158.5" r="1.15"/><circle cx="506.7" cy="159.9" r="1.15"/><circle cx="507.0" cy="162.0" r="1.15"/><circle cx="507.2" cy="160.7" r="1.15"/><circle cx="507.5" cy="164.4" r="1.15"/><circle cx="507.7" cy="160.4" r="1.15"/><circle cx="507.9" cy="159.1" r="1.15"/><circle cx="508.2" cy="165.1" r="1.15"/><circle cx="508.4" cy="161.7" r="1.15"/><circle cx="508.7" cy="166.5" r="1.15"/><circle cx="508.9" cy="161.5" r="1.15"/><circle cx="509.2" cy="162.9" r="1.15"/><circle cx="509.4" cy="162.2" r="1.15"/><circle cx="509.7" cy="164.4" r="1.15"/><circle cx="509.9" cy="163.4" r="1.15"/><circle cx="510.2" cy="165.9" r="1.15"/><circle cx="510.4" cy="169.0" r="1.15"/><circle cx="510.7" cy="163.3" r="1.15"/><circle cx="510.9" cy="164.2" r="1.15"/><circle cx="511.1" cy="162.2" r="1.15"/><circle cx="511.4" cy="167.3" r="1.15"/><circle cx="511.6" cy="166.9" r="1.15"/><circle cx="511.9" cy="160.8" r="1.15"/><circle cx="512.1" cy="166.7" r="1.15"/><circle cx="512.4" cy="162.7" r="1.15"/><circle cx="512.6" cy="161.7" r="1.15"/><circle cx="512.9" cy="168.2" r="1.15"/><circle cx="513.1" cy="163.4" r="1.15"/><circle cx="513.4" cy="166.7" r="1.15"/><circle cx="513.6" cy="162.7" r="1.15"/><circle cx="513.8" cy="168.4" r="1.15"/><circle cx="514.1" cy="166.7" r="1.15"/><circle cx="514.3" cy="165.3" r="1.15"/><circle cx="514.6" cy="166.7" r="1.15"/><circle cx="514.8" cy="161.7" r="1.15"/><circle cx="515.1" cy="168.4" r="1.15"/><circle cx="515.3" cy="172.3" r="1.15"/><circle cx="515.6" cy="165.9" r="1.15"/><circle cx="515.8" cy="163.4" r="1.15"/><circle cx="516.1" cy="164.9" r="1.15"/><circle cx="516.3" cy="167.7" r="1.15"/><circle cx="516.6" cy="170.4" r="1.15"/><circle cx="516.8" cy="167.1" r="1.15"/><circle cx="517.0" cy="167.7" r="1.15"/><circle cx="517.3" cy="166.9" r="1.15"/><circle cx="517.5" cy="169.5" r="1.15"/><circle cx="517.8" cy="165.7" r="1.15"/><circle cx="518.0" cy="169.3" r="1.15"/><circle cx="518.3" cy="169.9" r="1.15"/><circle cx="518.5" cy="172.9" r="1.15"/><circle cx="518.8" cy="164.2" r="1.15"/><circle cx="519.0" cy="172.9" r="1.15"/><circle cx="519.3" cy="170.6" r="1.15"/><circle cx="519.5" cy="173.9" r="1.15"/><circle cx="519.8" cy="166.7" r="1.15"/><circle cx="520.0" cy="166.9" r="1.15"/><circle cx="520.2" cy="176.4" r="1.15"/><circle cx="520.5" cy="171.8" r="1.15"/><circle cx="520.7" cy="171.4" r="1.15"/><circle cx="521.0" cy="175.5" r="1.15"/><circle cx="521.2" cy="169.0" r="1.15"/><circle cx="521.5" cy="179.8" r="1.15"/><circle cx="521.7" cy="176.7" r="1.15"/><circle cx="522.0" cy="177.3" r="1.15"/><circle cx="522.2" cy="170.6" r="1.15"/><circle cx="522.5" cy="171.1" r="1.15"/><circle cx="522.7" cy="169.9" r="1.15"/><circle cx="523.0" cy="173.6" r="1.15"/><circle cx="523.2" cy="167.3" r="1.15"/><circle cx="523.4" cy="171.4" r="1.15"/><circle cx="523.7" cy="172.6" r="1.15"/><circle cx="523.9" cy="174.7" r="1.15"/><circle cx="524.2" cy="176.7" r="1.15"/><circle cx="524.4" cy="174.7" r="1.15"/><circle cx="524.7" cy="180.5" r="1.15"/><circle cx="524.9" cy="172.1" r="1.15"/><circle cx="525.2" cy="173.9" r="1.15"/><circle cx="525.4" cy="172.6" r="1.15"/><circle cx="525.7" cy="175.8" r="1.15"/><circle cx="525.9" cy="176.1" r="1.15"/><circle cx="526.1" cy="177.0" r="1.15"/><circle cx="526.4" cy="173.4" r="1.15"/><circle cx="526.6" cy="174.4" r="1.15"/><circle cx="526.9" cy="181.2" r="1.15"/><circle cx="527.1" cy="179.2" r="1.15"/><circle cx="527.4" cy="177.9" r="1.15"/><circle cx="527.6" cy="174.2" r="1.15"/><circle cx="527.9" cy="178.9" r="1.15"/><circle cx="528.1" cy="181.6" r="1.15"/><circle cx="528.4" cy="185.4" r="1.15"/><circle cx="528.6" cy="175.3" r="1.15"/><circle cx="528.9" cy="180.9" r="1.15"/><circle cx="529.1" cy="181.2" r="1.15"/><circle cx="529.3" cy="183.8" r="1.15"/><circle cx="529.6" cy="175.8" r="1.15"/><circle cx="529.8" cy="179.2" r="1.15"/><circle cx="530.1" cy="177.6" r="1.15"/><circle cx="530.3" cy="174.2" r="1.15"/><circle cx="530.6" cy="184.2" r="1.15"/><circle cx="530.8" cy="175.0" r="1.15"/><circle cx="531.1" cy="177.9" r="1.15"/><circle cx="531.3" cy="175.3" r="1.15"/><circle cx="531.6" cy="180.5" r="1.15"/><circle cx="531.8" cy="178.9" r="1.15"/><circle cx="532.1" cy="178.2" r="1.15"/><circle cx="532.3" cy="187.9" r="1.15"/><circle cx="532.5" cy="178.2" r="1.15"/><circle cx="532.8" cy="175.3" r="1.15"/><circle cx="533.0" cy="182.6" r="1.15"/><circle cx="533.3" cy="175.0" r="1.15"/><circle cx="533.5" cy="185.8" r="1.15"/><circle cx="533.8" cy="180.5" r="1.15"/><circle cx="534.0" cy="179.2" r="1.15"/><circle cx="534.3" cy="177.3" r="1.15"/><circle cx="534.5" cy="179.2" r="1.15"/><circle cx="534.8" cy="182.6" r="1.15"/><circle cx="535.0" cy="177.9" r="1.15"/><circle cx="535.3" cy="181.2" r="1.15"/><circle cx="535.5" cy="177.0" r="1.15"/><circle cx="535.7" cy="175.5" r="1.15"/><circle cx="536.0" cy="187.9" r="1.15"/><circle cx="536.2" cy="188.4" r="1.15"/><circle cx="536.5" cy="184.2" r="1.15"/><circle cx="536.7" cy="177.3" r="1.15"/><circle cx="537.0" cy="185.8" r="1.15"/><circle cx="537.2" cy="180.9" r="1.15"/><circle cx="537.5" cy="181.2" r="1.15"/><circle cx="537.7" cy="184.2" r="1.15"/><circle cx="538.0" cy="179.5" r="1.15"/><circle cx="538.2" cy="185.4" r="1.15"/><circle cx="538.4" cy="186.2" r="1.15"/><circle cx="538.7" cy="189.3" r="1.15"/><circle cx="538.9" cy="181.2" r="1.15"/><circle cx="539.2" cy="179.8" r="1.15"/><circle cx="539.4" cy="188.8" r="1.15"/><circle cx="539.7" cy="186.6" r="1.15"/><circle cx="539.9" cy="185.4" r="1.15"/><circle cx="540.2" cy="174.7" r="1.15"/><circle cx="540.4" cy="181.9" r="1.15"/><circle cx="540.7" cy="185.4" r="1.15"/><circle cx="540.9" cy="187.5" r="1.15"/><circle cx="541.2" cy="189.3" r="1.15"/><circle cx="541.4" cy="182.3" r="1.15"/><circle cx="541.6" cy="178.9" r="1.15"/><circle cx="541.9" cy="181.6" r="1.15"/><circle cx="542.1" cy="189.8" r="1.15"/><circle cx="542.4" cy="191.3" r="1.15"/><circle cx="542.6" cy="181.9" r="1.15"/><circle cx="542.9" cy="180.2" r="1.15"/><circle cx="543.1" cy="189.8" r="1.15"/><circle cx="543.4" cy="183.4" r="1.15"/><circle cx="543.6" cy="184.2" r="1.15"/><circle cx="543.9" cy="195.1" r="1.15"/><circle cx="544.1" cy="186.2" r="1.15"/><circle cx="544.4" cy="197.5" r="1.15"/><circle cx="544.6" cy="190.3" r="1.15"/><circle cx="544.8" cy="187.9" r="1.15"/><circle cx="545.1" cy="188.4" r="1.15"/><circle cx="545.3" cy="180.5" r="1.15"/><circle cx="545.6" cy="185.0" r="1.15"/><circle cx="545.8" cy="187.0" r="1.15"/><circle cx="546.1" cy="188.4" r="1.15"/><circle cx="546.3" cy="192.8" r="1.15"/><circle cx="546.6" cy="187.0" r="1.15"/><circle cx="546.8" cy="187.0" r="1.15"/><circle cx="547.1" cy="187.9" r="1.15"/><circle cx="547.3" cy="185.0" r="1.15"/><circle cx="547.6" cy="192.8" r="1.15"/><circle cx="547.8" cy="188.8" r="1.15"/><circle cx="548.0" cy="194.5" r="1.15"/><circle cx="548.3" cy="185.4" r="1.15"/><circle cx="548.5" cy="187.9" r="1.15"/><circle cx="548.8" cy="187.9" r="1.15"/><circle cx="549.0" cy="190.8" r="1.15"/><circle cx="549.3" cy="186.2" r="1.15"/><circle cx="549.5" cy="184.2" r="1.15"/><circle cx="549.8" cy="185.4" r="1.15"/><circle cx="550.0" cy="185.0" r="1.15"/><circle cx="550.3" cy="189.8" r="1.15"/><circle cx="550.5" cy="187.5" r="1.15"/><circle cx="550.7" cy="189.8" r="1.15"/><circle cx="551.0" cy="196.3" r="1.15"/><circle cx="551.2" cy="199.5" r="1.15"/><circle cx="551.5" cy="188.8" r="1.15"/><circle cx="551.7" cy="190.3" r="1.15"/><circle cx="552.0" cy="186.2" r="1.15"/><circle cx="552.2" cy="192.8" r="1.15"/><circle cx="552.5" cy="190.8" r="1.15"/><circle cx="552.7" cy="188.4" r="1.15"/><circle cx="553.0" cy="181.6" r="1.15"/><circle cx="553.2" cy="198.8" r="1.15"/><circle cx="553.5" cy="197.5" r="1.15"/><circle cx="553.7" cy="187.9" r="1.15"/><circle cx="553.9" cy="183.4" r="1.15"/><circle cx="554.2" cy="189.3" r="1.15"/><circle cx="554.4" cy="187.5" r="1.15"/><circle cx="554.7" cy="183.8" r="1.15"/><circle cx="554.9" cy="196.3" r="1.15"/><circle cx="555.2" cy="193.9" r="1.15"/><circle cx="555.4" cy="190.3" r="1.15"/><circle cx="555.7" cy="190.3" r="1.15"/><circle cx="555.9" cy="192.3" r="1.15"/><circle cx="556.2" cy="196.9" r="1.15"/><circle cx="556.4" cy="195.7" r="1.15"/><circle cx="556.7" cy="188.8" r="1.15"/><circle cx="556.9" cy="196.3" r="1.15"/><circle cx="557.1" cy="195.7" r="1.15"/><circle cx="557.4" cy="191.8" r="1.15"/><circle cx="557.6" cy="188.8" r="1.15"/><circle cx="557.9" cy="206.6" r="1.15"/><circle cx="558.1" cy="191.8" r="1.15"/><circle cx="558.4" cy="198.8" r="1.15"/><circle cx="558.6" cy="189.8" r="1.15"/><circle cx="558.9" cy="187.5" r="1.15"/><circle cx="559.1" cy="184.2" r="1.15"/><circle cx="559.4" cy="197.5" r="1.15"/><circle cx="559.6" cy="190.8" r="1.15"/><circle cx="559.9" cy="184.6" r="1.15"/><circle cx="560.1" cy="184.2" r="1.15"/><circle cx="560.3" cy="195.7" r="1.15"/><circle cx="560.6" cy="187.0" r="1.15"/><circle cx="560.8" cy="190.3" r="1.15"/><circle cx="561.1" cy="193.4" r="1.15"/><circle cx="561.3" cy="196.9" r="1.15"/><circle cx="561.6" cy="192.8" r="1.15"/><circle cx="561.8" cy="189.3" r="1.15"/><circle cx="562.1" cy="186.6" r="1.15"/><circle cx="562.3" cy="190.8" r="1.15"/><circle cx="562.6" cy="187.9" r="1.15"/><circle cx="562.8" cy="188.4" r="1.15"/><circle cx="563.0" cy="197.5" r="1.15"/><circle cx="563.3" cy="197.5" r="1.15"/><circle cx="563.5" cy="188.8" r="1.15"/><circle cx="563.8" cy="191.3" r="1.15"/><circle cx="564.0" cy="193.9" r="1.15"/><circle cx="564.3" cy="187.5" r="1.15"/><circle cx="564.5" cy="188.8" r="1.15"/><circle cx="564.8" cy="187.5" r="1.15"/><circle cx="565.0" cy="186.6" r="1.15"/><circle cx="565.3" cy="197.5" r="1.15"/><circle cx="565.5" cy="200.9" r="1.15"/><circle cx="565.8" cy="191.3" r="1.15"/><circle cx="566.0" cy="183.4" r="1.15"/><circle cx="566.2" cy="193.9" r="1.15"/><circle cx="566.5" cy="183.8" r="1.15"/><circle cx="566.7" cy="195.1" r="1.15"/><circle cx="567.0" cy="189.8" r="1.15"/><circle cx="567.2" cy="198.8" r="1.15"/><circle cx="567.5" cy="198.2" r="1.15"/><circle cx="567.7" cy="199.5" r="1.15"/><circle cx="568.0" cy="198.2" r="1.15"/><circle cx="568.2" cy="194.5" r="1.15"/><circle cx="568.5" cy="194.5" r="1.15"/><circle cx="568.7" cy="196.9" r="1.15"/><circle cx="569.0" cy="186.2" r="1.15"/><circle cx="569.2" cy="191.3" r="1.15"/><circle cx="569.4" cy="196.3" r="1.15"/><circle cx="569.7" cy="197.5" r="1.15"/><circle cx="569.9" cy="200.9" r="1.15"/><circle cx="570.2" cy="187.9" r="1.15"/><circle cx="570.4" cy="188.8" r="1.15"/><circle cx="570.7" cy="197.5" r="1.15"/><circle cx="570.9" cy="196.3" r="1.15"/><circle cx="571.2" cy="190.3" r="1.15"/><circle cx="571.4" cy="196.9" r="1.15"/><circle cx="571.7" cy="196.3" r="1.15"/><circle cx="571.9" cy="194.5" r="1.15"/><circle cx="572.2" cy="191.8" r="1.15"/><circle cx="572.4" cy="198.2" r="1.15"/><circle cx="572.6" cy="187.9" r="1.15"/><circle cx="572.9" cy="194.5" r="1.15"/><circle cx="573.1" cy="198.8" r="1.15"/><circle cx="573.4" cy="198.8" r="1.15"/><circle cx="573.6" cy="199.5" r="1.15"/><circle cx="573.9" cy="197.5" r="1.15"/><circle cx="574.1" cy="192.3" r="1.15"/><circle cx="574.4" cy="197.5" r="1.15"/><circle cx="574.6" cy="191.8" r="1.15"/><circle cx="574.9" cy="199.5" r="1.15"/><circle cx="575.1" cy="195.1" r="1.15"/><circle cx="575.3" cy="192.3" r="1.15"/><circle cx="575.6" cy="198.2" r="1.15"/><circle cx="575.8" cy="199.5" r="1.15"/><circle cx="576.1" cy="198.8" r="1.15"/><circle cx="576.3" cy="206.6" r="1.15"/><circle cx="576.6" cy="193.9" r="1.15"/><circle cx="576.8" cy="210.4" r="1.15"/><circle cx="577.1" cy="198.2" r="1.15"/><circle cx="577.3" cy="190.3" r="1.15"/><circle cx="577.6" cy="197.5" r="1.15"/><circle cx="577.8" cy="191.3" r="1.15"/><circle cx="578.1" cy="200.2" r="1.15"/><circle cx="578.3" cy="195.7" r="1.15"/><circle cx="578.5" cy="198.2" r="1.15"/><circle cx="578.8" cy="194.5" r="1.15"/><circle cx="579.0" cy="197.5" r="1.15"/><circle cx="579.3" cy="211.5" r="1.15"/><circle cx="579.5" cy="186.2" r="1.15"/><circle cx="579.8" cy="194.5" r="1.15"/><circle cx="580.0" cy="188.4" r="1.15"/><circle cx="580.3" cy="198.8" r="1.15"/><circle cx="580.5" cy="192.8" r="1.15"/><circle cx="580.8" cy="195.1" r="1.15"/><circle cx="581.0" cy="204.8" r="1.15"/><circle cx="581.3" cy="202.4" r="1.15"/><circle cx="581.5" cy="197.5" r="1.15"/><circle cx="581.7" cy="198.8" r="1.15"/><circle cx="582.0" cy="197.5" r="1.15"/><circle cx="582.2" cy="204.8" r="1.15"/><circle cx="582.5" cy="190.3" r="1.15"/><circle cx="582.7" cy="205.7" r="1.15"/><circle cx="583.0" cy="205.7" r="1.15"/><circle cx="583.2" cy="209.4" r="1.15"/><circle cx="583.5" cy="204.0" r="1.15"/><circle cx="583.7" cy="200.2" r="1.15"/><circle cx="584.0" cy="200.9" r="1.15"/><circle cx="584.2" cy="200.2" r="1.15"/><circle cx="584.5" cy="192.3" r="1.15"/><circle cx="584.7" cy="196.3" r="1.15"/><circle cx="584.9" cy="193.4" r="1.15"/><circle cx="585.2" cy="198.2" r="1.15"/><circle cx="585.4" cy="191.8" r="1.15"/><circle cx="585.7" cy="196.3" r="1.15"/><circle cx="585.9" cy="186.6" r="1.15"/><circle cx="586.2" cy="198.2" r="1.15"/><circle cx="586.4" cy="187.9" r="1.15"/><circle cx="586.7" cy="211.5" r="1.15"/><circle cx="586.9" cy="217.5" r="1.15"/><circle cx="587.2" cy="195.1" r="1.15"/><circle cx="587.4" cy="199.5" r="1.15"/><circle cx="587.6" cy="196.9" r="1.15"/><circle cx="587.9" cy="199.5" r="1.15"/><circle cx="588.1" cy="199.5" r="1.15"/><circle cx="588.4" cy="204.8" r="1.15"/><circle cx="588.6" cy="198.2" r="1.15"/><circle cx="588.9" cy="198.2" r="1.15"/><circle cx="589.1" cy="194.5" r="1.15"/><circle cx="589.4" cy="203.2" r="1.15"/><circle cx="589.6" cy="192.3" r="1.15"/><circle cx="589.9" cy="189.3" r="1.15"/><circle cx="590.1" cy="198.2" r="1.15"/><circle cx="590.4" cy="200.9" r="1.15"/><circle cx="590.6" cy="204.0" r="1.15"/><circle cx="590.8" cy="198.2" r="1.15"/><circle cx="591.1" cy="203.2" r="1.15"/><circle cx="591.3" cy="207.5" r="1.15"/><circle cx="591.6" cy="192.8" r="1.15"/><circle cx="591.8" cy="188.4" r="1.15"/><circle cx="592.1" cy="196.3" r="1.15"/><circle cx="592.3" cy="191.8" r="1.15"/><circle cx="592.6" cy="191.8" r="1.15"/><circle cx="592.8" cy="203.2" r="1.15"/><circle cx="593.1" cy="192.8" r="1.15"/><circle cx="593.3" cy="196.3" r="1.15"/><circle cx="593.6" cy="197.5" r="1.15"/><circle cx="593.8" cy="214.9" r="1.15"/><circle cx="594.0" cy="203.2" r="1.15"/><circle cx="594.3" cy="192.8" r="1.15"/><circle cx="594.5" cy="197.5" r="1.15"/><circle cx="594.8" cy="192.8" r="1.15"/><circle cx="595.0" cy="210.4" r="1.15"/><circle cx="595.3" cy="208.4" r="1.15"/><circle cx="595.5" cy="193.9" r="1.15"/><circle cx="595.8" cy="190.8" r="1.15"/><circle cx="596.0" cy="193.9" r="1.15"/><circle cx="596.3" cy="204.0" r="1.15"/><circle cx="596.5" cy="196.3" r="1.15"/><circle cx="596.8" cy="205.7" r="1.15"/><circle cx="597.0" cy="201.7" r="1.15"/><circle cx="597.2" cy="199.5" r="1.15"/><circle cx="597.5" cy="198.2" r="1.15"/><circle cx="597.7" cy="198.8" r="1.15"/><circle cx="598.0" cy="197.5" r="1.15"/><circle cx="598.2" cy="201.7" r="1.15"/><circle cx="598.5" cy="206.6" r="1.15"/><circle cx="598.7" cy="203.2" r="1.15"/><circle cx="599.0" cy="196.9" r="1.15"/><circle cx="599.2" cy="193.9" r="1.15"/><circle cx="599.5" cy="191.3" r="1.15"/><circle cx="599.7" cy="207.5" r="1.15"/><circle cx="599.9" cy="201.7" r="1.15"/><circle cx="600.2" cy="200.9" r="1.15"/><circle cx="600.4" cy="200.9" r="1.15"/><circle cx="600.7" cy="201.7" r="1.15"/><circle cx="600.9" cy="208.4" r="1.15"/><circle cx="601.2" cy="196.3" r="1.15"/><circle cx="601.4" cy="191.8" r="1.15"/><circle cx="601.7" cy="200.2" r="1.15"/><circle cx="601.9" cy="205.7" r="1.15"/><circle cx="602.2" cy="200.9" r="1.15"/><circle cx="602.4" cy="204.0" r="1.15"/><circle cx="602.7" cy="201.7" r="1.15"/><circle cx="602.9" cy="199.5" r="1.15"/><circle cx="603.1" cy="196.3" r="1.15"/><circle cx="603.4" cy="191.3" r="1.15"/><circle cx="603.6" cy="201.7" r="1.15"/><circle cx="603.9" cy="208.4" r="1.15"/><circle cx="604.1" cy="210.4" r="1.15"/><circle cx="604.4" cy="203.2" r="1.15"/><circle cx="604.6" cy="198.8" r="1.15"/><circle cx="604.9" cy="216.2" r="1.15"/><circle cx="605.1" cy="207.5" r="1.15"/><circle cx="605.4" cy="196.9" r="1.15"/><circle cx="605.6" cy="203.2" r="1.15"/><circle cx="605.9" cy="216.2" r="1.15"/><circle cx="606.1" cy="201.7" r="1.15"/><circle cx="606.3" cy="192.8" r="1.15"/><circle cx="606.6" cy="200.2" r="1.15"/><circle cx="606.8" cy="191.3" r="1.15"/><circle cx="607.1" cy="201.7" r="1.15"/><circle cx="607.3" cy="199.5" r="1.15"/><circle cx="607.6" cy="205.7" r="1.15"/><circle cx="607.8" cy="191.3" r="1.15"/><circle cx="608.1" cy="211.5" r="1.15"/><circle cx="608.3" cy="209.4" r="1.15"/><circle cx="608.6" cy="205.7" r="1.15"/><circle cx="608.8" cy="197.5" r="1.15"/><circle cx="609.1" cy="206.6" r="1.15"/><circle cx="609.3" cy="196.3" r="1.15"/><circle cx="609.5" cy="202.4" r="1.15"/><circle cx="609.8" cy="191.3" r="1.15"/><circle cx="610.0" cy="199.5" r="1.15"/><circle cx="610.3" cy="199.5" r="1.15"/><circle cx="610.5" cy="193.4" r="1.15"/><circle cx="610.8" cy="196.9" r="1.15"/><circle cx="611.0" cy="200.2" r="1.15"/><circle cx="611.3" cy="209.4" r="1.15"/><circle cx="611.5" cy="201.7" r="1.15"/><circle cx="611.8" cy="206.6" r="1.15"/><circle cx="612.0" cy="200.9" r="1.15"/><circle cx="612.2" cy="201.7" r="1.15"/><circle cx="612.5" cy="204.0" r="1.15"/><circle cx="612.7" cy="203.2" r="1.15"/><circle cx="613.0" cy="207.5" r="1.15"/><circle cx="613.2" cy="207.5" r="1.15"/><circle cx="613.5" cy="196.9" r="1.15"/><circle cx="613.7" cy="209.4" r="1.15"/><circle cx="614.0" cy="206.6" r="1.15"/><circle cx="614.2" cy="204.0" r="1.15"/><circle cx="614.5" cy="208.4" r="1.15"/><circle cx="614.7" cy="212.6" r="1.15"/><circle cx="615.0" cy="199.5" r="1.15"/><circle cx="615.2" cy="195.7" r="1.15"/><circle cx="615.4" cy="203.2" r="1.15"/><circle cx="615.7" cy="198.8" r="1.15"/><circle cx="615.9" cy="198.8" r="1.15"/><circle cx="616.2" cy="203.2" r="1.15"/><circle cx="616.4" cy="191.3" r="1.15"/><circle cx="616.7" cy="200.2" r="1.15"/><circle cx="616.9" cy="200.2" r="1.15"/><circle cx="617.2" cy="208.4" r="1.15"/><circle cx="617.4" cy="221.9" r="1.15"/><circle cx="617.7" cy="196.9" r="1.15"/><circle cx="617.9" cy="204.0" r="1.15"/><circle cx="618.2" cy="202.4" r="1.15"/><circle cx="618.4" cy="206.6" r="1.15"/><circle cx="618.6" cy="198.2" r="1.15"/><circle cx="618.9" cy="204.0" r="1.15"/><circle cx="619.1" cy="208.4" r="1.15"/><circle cx="619.4" cy="198.2" r="1.15"/><circle cx="619.6" cy="204.8" r="1.15"/><circle cx="619.9" cy="207.5" r="1.15"/><circle cx="620.1" cy="195.1" r="1.15"/><circle cx="620.4" cy="208.4" r="1.15"/><circle cx="620.6" cy="195.1" r="1.15"/><circle cx="620.9" cy="202.4" r="1.15"/><circle cx="621.1" cy="200.2" r="1.15"/><circle cx="621.4" cy="203.2" r="1.15"/><circle cx="621.6" cy="192.8" r="1.15"/><circle cx="621.8" cy="204.8" r="1.15"/><circle cx="622.1" cy="200.2" r="1.15"/><circle cx="622.3" cy="200.9" r="1.15"/><circle cx="622.6" cy="200.9" r="1.15"/><circle cx="622.8" cy="210.4" r="1.15"/><circle cx="623.1" cy="206.6" r="1.15"/><circle cx="623.3" cy="211.5" r="1.15"/><circle cx="623.6" cy="208.4" r="1.15"/><circle cx="623.8" cy="192.3" r="1.15"/><circle cx="624.1" cy="212.6" r="1.15"/><circle cx="624.3" cy="195.7" r="1.15"/><circle cx="624.5" cy="201.7" r="1.15"/><circle cx="624.8" cy="207.5" r="1.15"/><circle cx="625.0" cy="196.9" r="1.15"/><circle cx="625.3" cy="200.9" r="1.15"/><circle cx="625.5" cy="202.4" r="1.15"/><circle cx="625.8" cy="202.4" r="1.15"/><circle cx="626.0" cy="191.3" r="1.15"/><circle cx="626.3" cy="207.5" r="1.15"/><circle cx="626.5" cy="203.2" r="1.15"/><circle cx="626.8" cy="190.8" r="1.15"/><circle cx="627.0" cy="203.2" r="1.15"/><circle cx="627.3" cy="203.2" r="1.15"/><circle cx="627.5" cy="207.5" r="1.15"/><circle cx="627.7" cy="208.4" r="1.15"/><circle cx="628.0" cy="203.2" r="1.15"/><circle cx="628.2" cy="205.7" r="1.15"/><circle cx="628.5" cy="205.7" r="1.15"/><circle cx="628.7" cy="199.5" r="1.15"/><circle cx="629.0" cy="200.9" r="1.15"/><circle cx="629.2" cy="195.7" r="1.15"/><circle cx="629.5" cy="211.5" r="1.15"/><circle cx="629.7" cy="200.9" r="1.15"/><circle cx="630.0" cy="198.2" r="1.15"/><circle cx="630.2" cy="213.7" r="1.15"/><circle cx="630.5" cy="209.4" r="1.15"/><circle cx="630.7" cy="216.2" r="1.15"/><circle cx="630.9" cy="216.2" r="1.15"/><circle cx="631.2" cy="200.9" r="1.15"/><circle cx="631.4" cy="208.4" r="1.15"/><circle cx="631.7" cy="204.8" r="1.15"/><circle cx="631.9" cy="204.0" r="1.15"/><circle cx="632.2" cy="205.7" r="1.15"/><circle cx="632.4" cy="217.5" r="1.15"/><circle cx="632.7" cy="211.5" r="1.15"/><circle cx="632.9" cy="202.4" r="1.15"/><circle cx="633.2" cy="202.4" r="1.15"/><circle cx="633.4" cy="209.4" r="1.15"/><circle cx="633.7" cy="209.4" r="1.15"/><circle cx="633.9" cy="208.4" r="1.15"/><circle cx="634.1" cy="210.4" r="1.15"/><circle cx="634.4" cy="195.1" r="1.15"/><circle cx="634.6" cy="202.4" r="1.15"/><circle cx="634.9" cy="210.4" r="1.15"/><circle cx="635.1" cy="204.8" r="1.15"/><circle cx="635.4" cy="213.7" r="1.15"/><circle cx="635.6" cy="201.7" r="1.15"/><circle cx="635.9" cy="214.9" r="1.15"/><circle cx="636.1" cy="209.4" r="1.15"/><circle cx="636.4" cy="204.8" r="1.15"/><circle cx="636.6" cy="204.0" r="1.15"/><circle cx="636.8" cy="200.9" r="1.15"/><circle cx="637.1" cy="206.6" r="1.15"/><circle cx="637.3" cy="212.6" r="1.15"/><circle cx="637.6" cy="204.8" r="1.15"/><circle cx="637.8" cy="227.1" r="1.15"/><circle cx="638.1" cy="205.7" r="1.15"/><circle cx="638.3" cy="203.2" r="1.15"/><circle cx="638.6" cy="204.8" r="1.15"/><circle cx="638.8" cy="217.5" r="1.15"/><circle cx="639.1" cy="204.0" r="1.15"/><circle cx="639.3" cy="204.8" r="1.15"/><circle cx="639.6" cy="205.7" r="1.15"/><circle cx="639.8" cy="192.8" r="1.15"/><circle cx="640.0" cy="200.9" r="1.15"/><circle cx="640.3" cy="203.2" r="1.15"/><circle cx="640.5" cy="200.9" r="1.15"/><circle cx="640.8" cy="196.3" r="1.15"/><circle cx="641.0" cy="198.2" r="1.15"/><circle cx="641.3" cy="209.4" r="1.15"/><circle cx="641.5" cy="200.9" r="1.15"/><circle cx="641.8" cy="214.9" r="1.15"/><circle cx="642.0" cy="193.9" r="1.15"/><circle cx="642.3" cy="196.3" r="1.15"/><circle cx="642.5" cy="206.6" r="1.15"/><circle cx="642.8" cy="202.4" r="1.15"/><circle cx="643.0" cy="214.9" r="1.15"/><circle cx="643.2" cy="200.9" r="1.15"/><circle cx="643.5" cy="208.4" r="1.15"/><circle cx="643.7" cy="202.4" r="1.15"/><circle cx="644.0" cy="196.9" r="1.15"/><circle cx="644.2" cy="221.9" r="1.15"/><circle cx="644.5" cy="206.6" r="1.15"/><circle cx="644.7" cy="196.3" r="1.15"/><circle cx="645.0" cy="212.6" r="1.15"/><circle cx="645.2" cy="193.9" r="1.15"/><circle cx="645.5" cy="204.8" r="1.15"/><circle cx="645.7" cy="194.5" r="1.15"/><circle cx="646.0" cy="210.4" r="1.15"/><circle cx="646.2" cy="203.2" r="1.15"/><circle cx="646.4" cy="214.9" r="1.15"/><circle cx="646.7" cy="201.7" r="1.15"/><circle cx="646.9" cy="212.6" r="1.15"/><circle cx="647.2" cy="192.8" r="1.15"/><circle cx="647.4" cy="207.5" r="1.15"/><circle cx="647.7" cy="209.4" r="1.15"/><circle cx="647.9" cy="205.7" r="1.15"/><circle cx="648.2" cy="204.0" r="1.15"/><circle cx="648.4" cy="208.4" r="1.15"/><circle cx="648.7" cy="203.2" r="1.15"/><circle cx="648.9" cy="209.4" r="1.15"/><circle cx="649.1" cy="207.5" r="1.15"/><circle cx="649.4" cy="213.7" r="1.15"/><circle cx="649.6" cy="196.3" r="1.15"/><circle cx="649.9" cy="211.5" r="1.15"/><circle cx="650.1" cy="204.8" r="1.15"/><circle cx="650.4" cy="210.4" r="1.15"/><circle cx="650.6" cy="200.9" r="1.15"/><circle cx="650.9" cy="203.2" r="1.15"/><circle cx="651.1" cy="195.7" r="1.15"/><circle cx="651.4" cy="209.4" r="1.15"/><circle cx="651.6" cy="203.2" r="1.15"/><circle cx="651.9" cy="212.6" r="1.15"/><circle cx="652.1" cy="197.5" r="1.15"/><circle cx="652.3" cy="207.5" r="1.15"/><circle cx="652.6" cy="221.9" r="1.15"/><circle cx="652.8" cy="206.6" r="1.15"/><circle cx="653.1" cy="210.4" r="1.15"/><circle cx="653.3" cy="201.7" r="1.15"/><circle cx="653.6" cy="214.9" r="1.15"/><circle cx="653.8" cy="204.8" r="1.15"/><circle cx="654.1" cy="196.9" r="1.15"/><circle cx="654.3" cy="209.4" r="1.15"/><circle cx="654.6" cy="200.9" r="1.15"/><circle cx="654.8" cy="212.6" r="1.15"/><circle cx="655.1" cy="205.7" r="1.15"/><circle cx="655.3" cy="200.9" r="1.15"/><circle cx="655.5" cy="204.0" r="1.15"/><circle cx="655.8" cy="216.2" r="1.15"/><circle cx="656.0" cy="201.7" r="1.15"/><circle cx="656.3" cy="211.5" r="1.15"/><circle cx="656.5" cy="207.5" r="1.15"/><circle cx="656.8" cy="201.7" r="1.15"/><circle cx="657.0" cy="220.3" r="1.15"/><circle cx="657.3" cy="203.2" r="1.15"/><circle cx="657.5" cy="205.7" r="1.15"/><circle cx="657.8" cy="195.1" r="1.15"/><circle cx="658.0" cy="200.2" r="1.15"/><circle cx="658.3" cy="211.5" r="1.15"/><circle cx="658.5" cy="204.8" r="1.15"/><circle cx="658.7" cy="207.5" r="1.15"/><circle cx="659.0" cy="198.2" r="1.15"/><circle cx="659.2" cy="212.6" r="1.15"/><circle cx="659.5" cy="211.5" r="1.15"/><circle cx="659.7" cy="214.9" r="1.15"/><circle cx="660.0" cy="218.9" r="1.15"/><circle cx="660.2" cy="205.7" r="1.15"/><circle cx="660.5" cy="204.0" r="1.15"/><circle cx="660.7" cy="211.5" r="1.15"/><circle cx="661.0" cy="205.7" r="1.15"/><circle cx="661.2" cy="197.5" r="1.15"/><circle cx="661.4" cy="209.4" r="1.15"/><circle cx="661.7" cy="218.9" r="1.15"/><circle cx="661.9" cy="203.2" r="1.15"/><circle cx="662.2" cy="198.8" r="1.15"/><circle cx="662.4" cy="213.7" r="1.15"/><circle cx="662.7" cy="214.9" r="1.15"/><circle cx="662.9" cy="212.6" r="1.15"/><circle cx="663.2" cy="196.3" r="1.15"/><circle cx="663.4" cy="217.5" r="1.15"/><circle cx="663.7" cy="210.4" r="1.15"/><circle cx="663.9" cy="212.6" r="1.15"/><circle cx="664.2" cy="198.2" r="1.15"/><circle cx="664.4" cy="206.6" r="1.15"/><circle cx="664.6" cy="204.0" r="1.15"/><circle cx="664.9" cy="212.6" r="1.15"/><circle cx="665.1" cy="198.8" r="1.15"/><circle cx="665.4" cy="208.4" r="1.15"/><circle cx="665.6" cy="207.5" r="1.15"/><circle cx="665.9" cy="204.8" r="1.15"/><circle cx="666.1" cy="217.5" r="1.15"/><circle cx="666.4" cy="199.5" r="1.15"/><circle cx="666.6" cy="200.9" r="1.15"/><circle cx="666.9" cy="200.9" r="1.15"/><circle cx="667.1" cy="227.1" r="1.15"/><circle cx="667.4" cy="198.8" r="1.15"/><circle cx="667.6" cy="210.4" r="1.15"/><circle cx="667.8" cy="214.9" r="1.15"/><circle cx="668.1" cy="204.0" r="1.15"/><circle cx="668.3" cy="211.5" r="1.15"/><circle cx="668.6" cy="208.4" r="1.15"/><circle cx="668.8" cy="204.8" r="1.15"/><circle cx="669.1" cy="205.7" r="1.15"/><circle cx="669.3" cy="209.4" r="1.15"/><circle cx="669.6" cy="210.4" r="1.15"/><circle cx="669.8" cy="202.4" r="1.15"/><circle cx="670.1" cy="204.0" r="1.15"/><circle cx="670.3" cy="211.5" r="1.15"/><circle cx="670.6" cy="200.9" r="1.15"/><circle cx="670.8" cy="197.5" r="1.15"/><circle cx="671.0" cy="200.9" r="1.15"/><circle cx="671.3" cy="209.4" r="1.15"/><circle cx="671.5" cy="209.4" r="1.15"/><circle cx="671.8" cy="201.7" r="1.15"/><circle cx="672.0" cy="205.7" r="1.15"/><circle cx="672.3" cy="216.2" r="1.15"/><circle cx="672.5" cy="199.5" r="1.15"/><circle cx="672.8" cy="209.4" r="1.15"/><circle cx="673.0" cy="202.4" r="1.15"/><circle cx="673.3" cy="220.3" r="1.15"/><circle cx="673.5" cy="204.0" r="1.15"/><circle cx="673.7" cy="213.7" r="1.15"/><circle cx="674.0" cy="200.9" r="1.15"/><circle cx="674.2" cy="217.5" r="1.15"/><circle cx="674.5" cy="204.0" r="1.15"/><circle cx="674.7" cy="211.5" r="1.15"/><circle cx="675.0" cy="200.9" r="1.15"/><circle cx="675.2" cy="206.6" r="1.15"/><circle cx="675.5" cy="231.3" r="1.15"/><circle cx="675.7" cy="203.2" r="1.15"/><circle cx="676.0" cy="200.9" r="1.15"/><circle cx="676.2" cy="209.4" r="1.15"/><circle cx="676.5" cy="208.4" r="1.15"/></g></svg>
<path d="M405.3 267.7V0.8H676.7V272.2M401.3 267.7H676.7" fill="none" stroke="#000" stroke-width="1.5"/>
<line x1="430.7" y1="267.7" x2="430.7" y2="272.7" stroke="#000" stroke-width="1.3"/>
<text x="430.7" y="288.2" font-size="16" text-anchor="middle" stroke="#000" stroke-width="0.22">10</text>
<line x1="471.7" y1="267.7" x2="471.7" y2="270.4" stroke="#000" stroke-width="1.3"/>
<line x1="512.7" y1="267.7" x2="512.7" y2="272.7" stroke="#000" stroke-width="1.3"/>
<text x="512.7" y="288.2" font-size="16" text-anchor="middle" stroke="#000" stroke-width="0.22">20</text>
<line x1="553.7" y1="267.7" x2="553.7" y2="270.4" stroke="#000" stroke-width="1.3"/>
<line x1="594.7" y1="267.7" x2="594.7" y2="272.7" stroke="#000" stroke-width="1.3"/>
<text x="594.7" y="288.2" font-size="16" text-anchor="middle" stroke="#000" stroke-width="0.22">30</text>
<line x1="635.7" y1="267.7" x2="635.7" y2="270.4" stroke="#000" stroke-width="1.3"/>
<line x1="676.7" y1="267.7" x2="676.7" y2="272.7" stroke="#000" stroke-width="1.3"/>
<text x="676.7" y="288.2" font-size="16" text-anchor="middle" stroke="#000" stroke-width="0.22">40</text>
<line x1="400.8" y1="19.7" x2="405.3" y2="19.7" stroke="#000" stroke-width="1.3"/>
<text x="397.8" y="25.3" font-size="16" text-anchor="end" stroke="#000" stroke-width="0.22">1</text>
<line x1="402" y1="63.04" x2="405.3" y2="63.04" stroke="#000" stroke-width="1.2"/>
<line x1="402" y1="52.12" x2="405.3" y2="52.12" stroke="#000" stroke-width="1.2"/>
<line x1="402" y1="44.37" x2="405.3" y2="44.37" stroke="#000" stroke-width="1.2"/>
<line x1="402" y1="38.36" x2="405.3" y2="38.36" stroke="#000" stroke-width="1.2"/>
<line x1="402" y1="33.45" x2="405.3" y2="33.45" stroke="#000" stroke-width="1.2"/>
<line x1="402" y1="29.3" x2="405.3" y2="29.3" stroke="#000" stroke-width="1.2"/>
<line x1="402" y1="25.71" x2="405.3" y2="25.71" stroke="#000" stroke-width="1.2"/>
<line x1="402" y1="22.54" x2="405.3" y2="22.54" stroke="#000" stroke-width="1.2"/>
<line x1="400.8" y1="81.7" x2="405.3" y2="81.7" stroke="#000" stroke-width="1.3"/>
<text x="397.8" y="87.3" font-size="16" text-anchor="end" stroke="#000" stroke-width="0.22">0.1</text>
<line x1="402" y1="125.04" x2="405.3" y2="125.04" stroke="#000" stroke-width="1.2"/>
<line x1="402" y1="114.12" x2="405.3" y2="114.12" stroke="#000" stroke-width="1.2"/>
<line x1="402" y1="106.37" x2="405.3" y2="106.37" stroke="#000" stroke-width="1.2"/>
<line x1="402" y1="100.36" x2="405.3" y2="100.36" stroke="#000" stroke-width="1.2"/>
<line x1="402" y1="95.45" x2="405.3" y2="95.45" stroke="#000" stroke-width="1.2"/>
<line x1="402" y1="91.3" x2="405.3" y2="91.3" stroke="#000" stroke-width="1.2"/>
<line x1="402" y1="87.71" x2="405.3" y2="87.71" stroke="#000" stroke-width="1.2"/>
<line x1="402" y1="84.54" x2="405.3" y2="84.54" stroke="#000" stroke-width="1.2"/>
<line x1="400.8" y1="143.7" x2="405.3" y2="143.7" stroke="#000" stroke-width="1.3"/>
<text x="397.8" y="149.3" font-size="16" text-anchor="end" stroke="#000" stroke-width="0.22">0.01</text>
<line x1="402" y1="187.04" x2="405.3" y2="187.04" stroke="#000" stroke-width="1.2"/>
<line x1="402" y1="176.12" x2="405.3" y2="176.12" stroke="#000" stroke-width="1.2"/>
<line x1="402" y1="168.37" x2="405.3" y2="168.37" stroke="#000" stroke-width="1.2"/>
<line x1="402" y1="162.36" x2="405.3" y2="162.36" stroke="#000" stroke-width="1.2"/>
<line x1="402" y1="157.45" x2="405.3" y2="157.45" stroke="#000" stroke-width="1.2"/>
<line x1="402" y1="153.3" x2="405.3" y2="153.3" stroke="#000" stroke-width="1.2"/>
<line x1="402" y1="149.71" x2="405.3" y2="149.71" stroke="#000" stroke-width="1.2"/>
<line x1="402" y1="146.54" x2="405.3" y2="146.54" stroke="#000" stroke-width="1.2"/>
<line x1="400.8" y1="205.7" x2="405.3" y2="205.7" stroke="#000" stroke-width="1.3"/>
<text x="397.8" y="211.3" font-size="16" text-anchor="end" stroke="#000" stroke-width="0.22">1E-3</text>
<line x1="402" y1="249.04" x2="405.3" y2="249.04" stroke="#000" stroke-width="1.2"/>
<line x1="402" y1="238.12" x2="405.3" y2="238.12" stroke="#000" stroke-width="1.2"/>
<line x1="402" y1="230.37" x2="405.3" y2="230.37" stroke="#000" stroke-width="1.2"/>
<line x1="402" y1="224.36" x2="405.3" y2="224.36" stroke="#000" stroke-width="1.2"/>
<line x1="402" y1="219.45" x2="405.3" y2="219.45" stroke="#000" stroke-width="1.2"/>
<line x1="402" y1="215.3" x2="405.3" y2="215.3" stroke="#000" stroke-width="1.2"/>
<line x1="402" y1="211.71" x2="405.3" y2="211.71" stroke="#000" stroke-width="1.2"/>
<line x1="402" y1="208.54" x2="405.3" y2="208.54" stroke="#000" stroke-width="1.2"/>
<line x1="400.8" y1="267.7" x2="405.3" y2="267.7" stroke="#000" stroke-width="1.3"/>
<text x="397.8" y="273.3" font-size="16" text-anchor="end" stroke="#000" stroke-width="0.22">1E-4</text>
<text x="541.6" y="313.8" font-size="16" text-anchor="middle" stroke="#000" stroke-width="0.22">Time (ns)</text>
<text x="357" y="137.5" font-size="16" text-anchor="middle" stroke="#000" stroke-width="0.22" transform="rotate(-90 357 137.5)">Normalized counts</text>
<text x="346" y="17.2" font-size="16" stroke="#000" stroke-width="0.22" font-weight="bold">b</text>
<circle cx="594.2" cy="23.7" r="1.25" fill="none" stroke="#2ba33a" stroke-width="1.0"/>
<text x="612.3" y="28.3" font-size="16" fill="#2ba33a" stroke="#2ba33a" stroke-width="0.22">TAPT</text>
<circle cx="594.2" cy="49.4" r="1.25" fill="none" stroke="#1ba1d6" stroke-width="1.0"/>
<text x="612.3" y="54" font-size="16" fill="#1ba1d6" stroke="#1ba1d6" stroke-width="0.22">TFPA</text>
<circle cx="594.2" cy="75.1" r="1.25" fill="none" stroke="#e5407a" stroke-width="1.0"/>
<text x="612.3" y="79.7" font-size="16" fill="#e5407a" stroke="#e5407a" stroke-width="0.22"><tspan font-style="italic">t</tspan>-COF</text>
<circle cx="594.2" cy="100.8" r="1.25" fill="none" stroke="#c4c4c4" stroke-width="1.0"/>
<text x="612.3" y="105.4" font-size="16" fill="#c4c4c4" stroke="#c4c4c4" stroke-width="0.22">IRF</text>
<path d="M58.2 573.3C86.83 573.32 193.03 573.5 230 573.4C266.97 573.3 263.58 572.9 280 572.7C296.42 572.5 320.42 572.28 328.5 572.2" fill="none" stroke="#7f1590" stroke-width="2.4" stroke-linejoin="round"/>
<path d="M58.2 573.3C72.67 573.3 129.15 573.38 145 573.3C160.85 573.22 150.38 573.43 153.3 572.8C156.22 572.17 159.13 570.65 162.5 569.5C165.87 568.35 169.75 567.12 173.5 565.9C177.25 564.68 181.48 563.23 185 562.2C188.52 561.17 191.18 560.72 194.6 559.7C198.02 558.68 201.85 557.02 205.5 556.1C209.15 555.18 212.42 554.63 216.5 554.2C220.58 553.77 222.88 553.43 230 553.5C237.12 553.57 250.87 554.05 259.2 554.6C267.53 555.15 272.28 555.77 280 556.8C287.72 557.83 297.42 559.52 305.5 560.8C313.58 562.08 324.67 563.88 328.5 564.5" fill="none" stroke="#22a3d6" stroke-width="1.95" stroke-linejoin="round"/>
<path d="M328.5 564.5C325.28 565.03 315.45 566.8 309.2 567.7C302.95 568.6 295.87 569.4 291 569.9C286.13 570.4 290.17 570.22 280 570.7C269.83 571.18 243.33 572.38 230 572.8C216.67 573.22 228.63 573.12 200 573.2C171.37 573.28 81.83 573.28 58.2 573.3" fill="none" stroke="#22a3d6" stroke-width="1.95" stroke-linejoin="round"/>
<path d="M58.2 573.3C72.33 573.3 127.6 573.38 143 573.3C158.4 573.22 148.12 573.43 150.6 572.8C153.08 572.17 155.15 571.12 157.9 569.5C160.65 567.88 164.03 565.7 167.1 563.1C170.17 560.5 173.32 556.95 176.3 553.9C179.28 550.85 182.68 547.05 185 544.8C187.32 542.55 187.7 542.48 190.2 540.4C192.7 538.32 197.15 534.5 200 532.3C202.85 530.1 204.38 528.53 207.3 527.2C210.22 525.87 213.85 524.67 217.5 524.3C221.15 523.93 224.82 524.52 229.2 525C233.58 525.48 238.93 526.43 243.8 527.2C248.67 527.97 252.37 528.22 258.4 529.6C264.43 530.98 273.85 533.62 280 535.5C286.15 537.38 290.43 539.12 295.3 540.9C300.17 542.68 304.87 544.68 309.2 546.2C313.53 547.72 318.08 548.85 321.3 550C324.52 551.15 327.3 552.58 328.5 553.1" fill="none" stroke="#23a236" stroke-width="1.95" stroke-linejoin="round"/>
<path d="M328.5 553.1C326.5 553.9 320.33 556.55 316.5 557.9C312.67 559.25 309.75 560.17 305.5 561.2C301.25 562.23 295.25 563.32 291 564.1C286.75 564.88 285.3 565.17 280 565.9C274.7 566.63 267.53 567.58 259.2 568.5C250.87 569.42 239.87 570.65 230 571.4C220.13 572.15 228.63 572.68 200 573C171.37 573.32 81.83 573.25 58.2 573.3" fill="none" stroke="#23a236" stroke-width="1.95" stroke-linejoin="round"/>
<path d="M58.2 573.3C72 573.3 126.07 573.47 141 573.3C155.93 573.13 145.28 573.38 147.8 572.3C150.32 571.22 153.65 569.1 156.1 566.8C158.55 564.5 160.67 561.1 162.5 558.5C164.33 555.9 165.57 553.8 167.1 551.2C168.63 548.6 170.17 545.65 171.7 542.9C173.23 540.15 174.77 537.3 176.3 534.7C177.83 532.1 179.45 529.6 180.9 527.3C182.35 525 182.98 523.87 185 520.9C187.02 517.93 190.5 512.47 193 509.5C195.5 506.53 197.62 504.88 200 503.1C202.38 501.32 204.13 499.88 207.3 498.8C210.47 497.72 215.35 496.8 219 496.6C222.65 496.4 225.07 497 229.2 497.6C233.33 498.2 238.93 499.33 243.8 500.2C248.67 501.07 252.37 501.3 258.4 502.8C264.43 504.3 274.48 507.37 280 509.2C285.52 511.03 287.68 512.22 291.5 513.8C295.32 515.38 299.08 517.05 302.9 518.7C306.72 520.35 310.13 521.75 314.4 523.7C318.67 525.65 326.15 529.28 328.5 530.4" fill="none" stroke="#f7843f" stroke-width="1.95" stroke-linejoin="round"/>
<path d="M328.5 530.4C326.78 531.45 321.82 534.38 318.2 536.7C314.58 539.02 310.75 542.08 306.8 544.3C302.85 546.52 298.97 548.02 294.5 550C290.03 551.98 285.88 554.1 280 556.2C274.12 558.3 267.53 560.33 259.2 562.6C250.87 564.87 238.33 568.1 230 569.8C221.67 571.5 215.87 572.22 209.2 572.8C202.53 573.38 215.17 573.22 190 573.3C164.83 573.38 80.17 573.3 58.2 573.3" fill="none" stroke="#f7843f" stroke-width="1.95" stroke-linejoin="round"/>
<path d="M58.2 573.3C71.17 573.3 121.98 573.38 136 573.3C150.02 573.22 140.17 573.43 142.3 572.8C144.43 572.17 146.97 571.12 148.8 569.5C150.63 567.88 151.78 565.53 153.3 563.1C154.82 560.67 156.37 557.95 157.9 554.9C159.43 551.85 160.97 548.02 162.5 544.8C164.03 541.58 165.57 538.52 167.1 535.6C168.63 532.68 170.17 529.9 171.7 527.3C173.23 524.7 174.12 523.88 176.3 520C178.48 516.12 182.68 508 184.8 504C186.92 500 187.78 498.85 189 496C190.22 493.15 190.77 492.5 192.1 486.9C193.43 481.3 195.57 470.55 197 462.4C198.43 454.25 199.47 446.97 200.7 438C201.93 429.03 203.18 417.58 204.4 408.6C205.62 399.62 206.78 391.03 208 384.1C209.22 377.17 210.27 371.68 211.7 367C213.13 362.32 214.77 358.55 216.6 356C218.43 353.45 220.88 352.02 222.7 351.7C224.52 351.38 226.17 353.43 227.5 354.1C228.83 354.77 229.1 353.83 230.7 355.7C232.3 357.57 234.97 361.55 237.1 365.3C239.23 369.05 241.18 374.27 243.5 378.2C245.82 382.13 249.03 385.7 251 388.9C252.97 392.1 253.8 394.72 255.3 397.4C256.8 400.08 258.3 402.07 260 405C261.7 407.93 262.95 410.4 265.5 415C268.05 419.6 271.12 425.85 275.3 432.6C279.48 439.35 285.5 447.6 290.6 455.5C295.7 463.4 301 472.73 305.9 480C310.8 487.27 316.23 494.1 320 499.1C323.77 504.1 327.08 508.18 328.5 510" fill="none" stroke="#e4007f" stroke-width="1.95" stroke-linejoin="round"/>
<path d="M328.5 510C327.55 511.38 324.77 515.63 322.8 518.3C320.83 520.97 318.98 523.7 316.7 526C314.42 528.3 312.67 529.68 309.1 532.1C305.53 534.52 300.15 537.93 295.3 540.5C290.45 543.07 286.02 544.9 280 547.5C273.98 550.1 267.53 553.1 259.2 556.1C250.87 559.1 238.33 563.2 230 565.5C221.67 567.8 215.1 568.73 209.2 569.9C203.3 571.07 199.47 571.95 194.6 572.5C189.73 573.05 202.73 573.07 180 573.2C157.27 573.33 78.5 573.28 58.2 573.3" fill="none" stroke="#e4007f" stroke-width="1.95" stroke-linejoin="round"/>
<path d="M58.2 604.1V332.6H328.9V604.1M58.2 599.6H328.9" fill="none" stroke="#000" stroke-width="1.5"/>
<line x1="58.2" y1="599.6" x2="58.2" y2="604.6" stroke="#000" stroke-width="1.3"/>
<text x="58.2" y="620" font-size="16" text-anchor="middle" stroke="#000" stroke-width="0.22">0.4</text>
<line x1="103.32" y1="599.6" x2="103.32" y2="602.3" stroke="#000" stroke-width="1.3"/>
<line x1="148.43" y1="599.6" x2="148.43" y2="604.6" stroke="#000" stroke-width="1.3"/>
<text x="148.43" y="620" font-size="16" text-anchor="middle" stroke="#000" stroke-width="0.22">0.8</text>
<line x1="193.55" y1="599.6" x2="193.55" y2="602.3" stroke="#000" stroke-width="1.3"/>
<line x1="238.67" y1="599.6" x2="238.67" y2="604.6" stroke="#000" stroke-width="1.3"/>
<text x="238.67" y="620" font-size="16" text-anchor="middle" stroke="#000" stroke-width="0.22">1.2</text>
<line x1="283.78" y1="599.6" x2="283.78" y2="602.3" stroke="#000" stroke-width="1.3"/>
<line x1="328.9" y1="599.6" x2="328.9" y2="604.6" stroke="#000" stroke-width="1.3"/>
<text x="328.9" y="620" font-size="16" text-anchor="middle" stroke="#000" stroke-width="0.22">1.6</text>
<line x1="53.2" y1="573.4" x2="58.2" y2="573.4" stroke="#000" stroke-width="1.3"/>
<text x="51.3" y="579" font-size="16" text-anchor="end" stroke="#000" stroke-width="0.22">0k</text>
<line x1="54.9" y1="539.1" x2="58.2" y2="539.1" stroke="#000" stroke-width="1.3"/>
<line x1="53.2" y1="504.8" x2="58.2" y2="504.8" stroke="#000" stroke-width="1.3"/>
<text x="51.3" y="510.4" font-size="16" text-anchor="end" stroke="#000" stroke-width="0.22">4k</text>
<line x1="54.9" y1="470.5" x2="58.2" y2="470.5" stroke="#000" stroke-width="1.3"/>
<line x1="53.2" y1="436.2" x2="58.2" y2="436.2" stroke="#000" stroke-width="1.3"/>
<text x="51.3" y="441.8" font-size="16" text-anchor="end" stroke="#000" stroke-width="0.22">8k</text>
<line x1="54.9" y1="401.9" x2="58.2" y2="401.9" stroke="#000" stroke-width="1.3"/>
<line x1="53.2" y1="367.6" x2="58.2" y2="367.6" stroke="#000" stroke-width="1.3"/>
<text x="51.3" y="373.2" font-size="16" text-anchor="end" stroke="#000" stroke-width="0.22">12k</text>
<text x="193.5" y="649.4" font-size="16" text-anchor="middle" stroke="#000" stroke-width="0.22">Potential (V vs. Ag/AgCl)</text>
<text x="11.9" y="468.8" font-size="16" text-anchor="middle" stroke="#000" stroke-width="0.22" transform="rotate(-90 11.9 468.8)">ECL intenstity (a.u.)</text>
<text x="1" y="344.7" font-size="16" stroke="#000" stroke-width="0.22" font-weight="bold">c</text>
<line x1="71" y1="349.9" x2="98.8" y2="349.9" stroke="#e4007f" stroke-width="1.8"/>
<text x="102.6" y="355.5" font-size="16" stroke="#000" stroke-width="0.22">6:4</text>
<line x1="71" y1="369.3" x2="98.8" y2="369.3" stroke="#f7843f" stroke-width="1.8"/>
<text x="102.6" y="374.9" font-size="16" stroke="#000" stroke-width="0.22">5:5</text>
<line x1="71" y1="388.7" x2="98.8" y2="388.7" stroke="#23a236" stroke-width="1.8"/>
<text x="102.6" y="394.3" font-size="16" stroke="#000" stroke-width="0.22">4:6</text>
<line x1="71" y1="408.1" x2="98.8" y2="408.1" stroke="#22a3d6" stroke-width="1.8"/>
<text x="102.6" y="413.7" font-size="16" stroke="#000" stroke-width="0.22">8:2</text>
<line x1="71" y1="427.5" x2="98.8" y2="427.5" stroke="#7f1590" stroke-width="1.8"/>
<text x="102.6" y="433.1" font-size="16" stroke="#000" stroke-width="0.22">2:8</text>
<path d="M406.4 571.6C406.95 572.08 408.58 573.45 409.7 574.5C410.82 575.55 411.9 577.13 413.1 577.9C414.3 578.67 416 578.62 416.9 579.1C417.8 579.58 417.88 579.95 418.5 580.8C419.12 581.65 419.55 583.47 420.6 584.2C421.65 584.93 423.38 585.13 424.8 585.2C426.22 585.27 427.68 584.5 429.1 584.6C430.52 584.7 431.35 585.4 433.3 585.8C435.25 586.2 437.52 586.73 440.8 587C444.08 587.27 433.13 587.27 453 587.4C472.87 587.53 522.67 587.72 560 587.8C597.33 587.88 657.5 587.88 677 587.9" fill="none" stroke="#7f1590" stroke-width="1.95" stroke-linejoin="round"/>
<path d="M406.4 543.8C406.95 544.37 408.58 546.15 409.7 547.2C410.82 548.25 412.12 549.82 413.1 550.1C414.08 550.38 414.93 549.6 415.6 548.9C416.27 548.2 416.62 545.55 417.1 545.9C417.58 546.25 417.98 549.45 418.5 551C419.02 552.55 419.28 554.5 420.2 555.2C421.12 555.9 422.73 555.55 424 555.2C425.27 554.85 426.82 553.1 427.8 553.1C428.78 553.1 429.13 554.37 429.9 555.2C430.67 556.03 431.28 557.33 432.4 558.1C433.52 558.87 434.78 559.48 436.6 559.8C438.42 560.12 440.57 559.93 443.3 560C446.03 560.07 433.55 560.13 453 560.2C472.45 560.27 522.67 560.32 560 560.4C597.33 560.48 657.5 560.65 677 560.7" fill="none" stroke="#22a3d6" stroke-width="1.95" stroke-linejoin="round"/>
<path d="M406.4 517.6C407.37 518.38 410.8 522.02 412.2 522.3C413.6 522.58 414.1 520.92 414.8 519.3C415.5 517.68 415.8 514.77 416.4 512.6C417 510.43 417.83 506.43 418.4 506.3C418.97 506.17 419.28 509.07 419.8 511.8C420.32 514.53 420.8 520.25 421.5 522.7C422.2 525.15 423.02 526.37 424 526.5C424.98 526.63 426.42 524.48 427.4 523.5C428.38 522.52 429.07 520.45 429.9 520.6C430.73 520.75 431.42 522.93 432.4 524.4C433.38 525.87 434.4 528.07 435.8 529.4C437.2 530.73 438.98 531.77 440.8 532.4C442.62 533.03 444.67 533.13 446.7 533.2C448.73 533.27 440.78 532.75 453 532.8C465.22 532.85 499.67 533.42 520 533.5C540.33 533.58 558.33 533.18 575 533.3C591.67 533.42 603 533.98 620 534.2C637 534.42 667.5 534.53 677 534.6" fill="none" stroke="#23a236" stroke-width="1.95" stroke-linejoin="round"/>
<path d="M406.4 477.8C407.1 478.43 409.48 481.47 410.6 481.6C411.72 481.73 412.4 481.07 413.1 478.6C413.8 476.13 414.17 470.87 414.8 466.8C415.43 462.73 416.28 454.33 416.9 454.2C417.52 454.07 418.02 461.08 418.5 466C418.98 470.92 419.23 480.2 419.8 483.7C420.37 487.2 421.07 486.8 421.9 487C422.73 487.2 423.68 486.23 424.8 484.9C425.92 483.57 427.53 479.07 428.6 479C429.67 478.93 430.28 482.47 431.2 484.5C432.12 486.53 432.92 489.45 434.1 491.2C435.28 492.95 436.48 494.23 438.3 495C440.12 495.77 443.32 495.87 445 495.8C446.68 495.73 447.07 494.47 448.4 494.6C449.73 494.73 441.07 496.1 453 496.6C464.93 497.1 495.5 497.37 520 497.6C544.5 497.83 573.83 497.87 600 498C626.17 498.13 664.17 498.33 677 498.4" fill="none" stroke="#f7843f" stroke-width="1.95" stroke-linejoin="round"/>
<path d="M406 434.4C406.5 434.73 407.85 437.9 409 436.4C410.15 434.9 411.92 433.2 412.9 425.4C413.88 417.6 414.4 401.42 414.9 389.6C415.4 377.78 415.6 362.73 415.9 354.5C416.2 346.27 416.4 340.2 416.7 340.2C417 340.2 417.4 346.27 417.7 354.5C418 362.73 418.13 377.12 418.5 389.6C418.87 402.08 419.27 420.45 419.9 429.4C420.53 438.35 421.47 441.15 422.3 443.3C423.13 445.45 424.02 442.75 424.9 442.3C425.78 441.85 426.72 440.45 427.6 440.6C428.48 440.75 429.28 441.9 430.2 443.2C431.12 444.5 431.88 447.18 433.1 448.4C434.32 449.62 435.67 450.07 437.5 450.5C439.33 450.93 442.52 451.6 444.1 451C445.68 450.4 446.1 448.68 447 446.9C447.9 445.12 448.77 440.3 449.5 440.3C450.23 440.3 450.6 445.07 451.4 446.9C452.2 448.73 453.2 450.57 454.3 451.3C455.4 452.03 456.78 451.83 458 451.3C459.22 450.77 460.38 448.1 461.6 448.1C462.82 448.1 461.53 450.72 465.3 451.3C469.07 451.88 479.95 452 484.2 451.6C488.45 451.2 488.97 448.9 490.8 448.9C492.63 448.9 492 451.17 495.2 451.6C498.4 452.03 503.53 451.58 510 451.5C516.47 451.42 524.4 450.93 534 451.1C543.6 451.27 558.1 452.37 567.6 452.5C577.1 452.63 585.65 452.28 591 451.9C596.35 451.52 596.78 450.2 599.7 450.2C602.62 450.2 595.62 451.42 608.5 451.9C621.38 452.38 665.58 452.9 677 453.1" fill="none" stroke="#e4007f" stroke-width="1.95" stroke-linejoin="round"/>
<path d="M405.8 599.6V333.0H677.0V604.1M405.8 599.6H677.0" fill="none" stroke="#000" stroke-width="1.5"/>
<line x1="422" y1="599.6" x2="422" y2="604.6" stroke="#000" stroke-width="1.3"/>
<text x="422" y="619.6" font-size="16" text-anchor="middle" stroke="#000" stroke-width="0.22">5</text>
<line x1="447.5" y1="599.6" x2="447.5" y2="602.3" stroke="#000" stroke-width="1.3"/>
<line x1="473" y1="599.6" x2="473" y2="604.6" stroke="#000" stroke-width="1.3"/>
<text x="473" y="619.6" font-size="16" text-anchor="middle" stroke="#000" stroke-width="0.22">10</text>
<line x1="498.5" y1="599.6" x2="498.5" y2="602.3" stroke="#000" stroke-width="1.3"/>
<line x1="524" y1="599.6" x2="524" y2="604.6" stroke="#000" stroke-width="1.3"/>
<text x="524" y="619.6" font-size="16" text-anchor="middle" stroke="#000" stroke-width="0.22">15</text>
<line x1="549.5" y1="599.6" x2="549.5" y2="602.3" stroke="#000" stroke-width="1.3"/>
<line x1="575" y1="599.6" x2="575" y2="604.6" stroke="#000" stroke-width="1.3"/>
<text x="575" y="619.6" font-size="16" text-anchor="middle" stroke="#000" stroke-width="0.22">20</text>
<line x1="600.5" y1="599.6" x2="600.5" y2="602.3" stroke="#000" stroke-width="1.3"/>
<line x1="626" y1="599.6" x2="626" y2="604.6" stroke="#000" stroke-width="1.3"/>
<text x="626" y="619.6" font-size="16" text-anchor="middle" stroke="#000" stroke-width="0.22">25</text>
<line x1="651.5" y1="599.6" x2="651.5" y2="602.3" stroke="#000" stroke-width="1.3"/>
<line x1="677" y1="599.6" x2="677" y2="604.6" stroke="#000" stroke-width="1.3"/>
<text x="677" y="619.6" font-size="16" text-anchor="middle" stroke="#000" stroke-width="0.22">30</text>
<text x="501" y="650.4" font-size="16" stroke="#000" stroke-width="0.22">2<tspan font-style="italic" dx="1.5">θ</tspan><tspan dx="2.5">(degree)</tspan></text>
<text x="391" y="465.4" font-size="16" text-anchor="middle" stroke="#000" stroke-width="0.22" transform="rotate(-90 391 465.4)">Intensity (a.u.)</text>
<text x="380" y="343.8" font-size="16" stroke="#000" stroke-width="0.22" font-weight="bold">d</text>
<text x="663.2" y="446.1" font-size="16" text-anchor="end" fill="#e4007f" stroke="#e4007f" stroke-width="0.22">6:4</text>
<text x="663.2" y="491.2" font-size="16" text-anchor="end" fill="#f7843f" stroke="#f7843f" stroke-width="0.22">5:5</text>
<text x="663.2" y="527.9" font-size="16" text-anchor="end" fill="#23a236" stroke="#23a236" stroke-width="0.22">4:6</text>
<text x="663.2" y="554.4" font-size="16" text-anchor="end" fill="#22a3d6" stroke="#22a3d6" stroke-width="0.22">8:2</text>
<text x="663.2" y="581.4" font-size="16" text-anchor="end" fill="#7f1590" stroke="#7f1590" stroke-width="0.22">2:8</text></svg></body></html>
